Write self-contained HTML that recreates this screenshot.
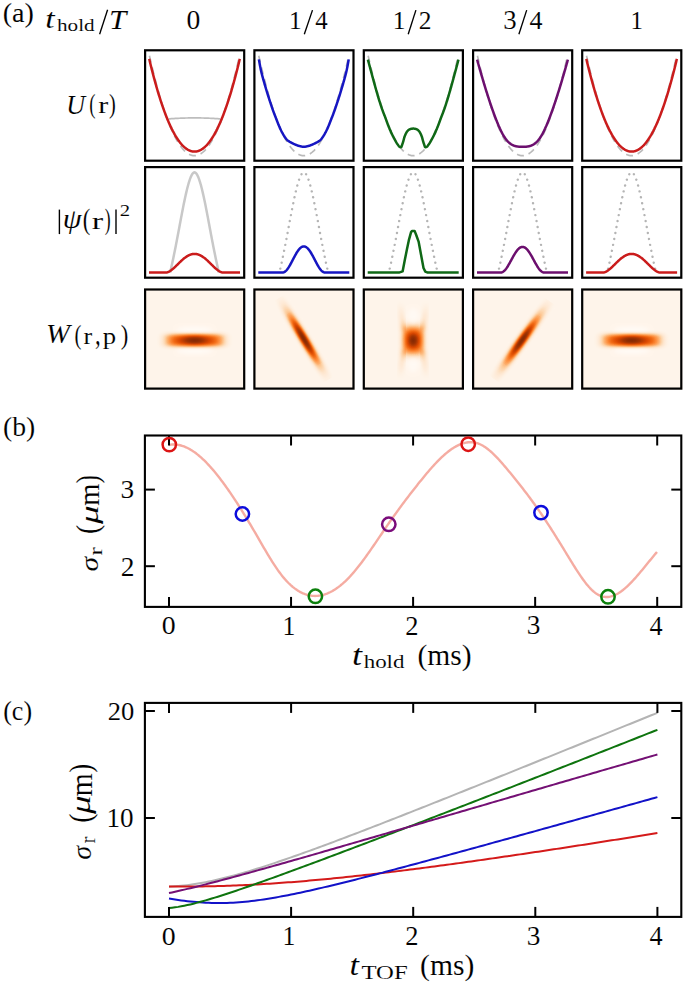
<!DOCTYPE html>
<html><head><meta charset="utf-8"><style>
html,body{margin:0;padding:0;background:#fff;width:685px;height:988px;overflow:hidden}
svg{display:block}
text{font-family:"Liberation Serif", serif;fill:#000;stroke:#fff;stroke-width:0.1px;vector-effect:non-scaling-stroke}
</style></head><body>
<svg width="685" height="988" viewBox="0 0 685 988" font-family='"Liberation Serif", serif'>
<defs><filter id="cmap" color-interpolation-filters="sRGB" x="0" y="0" width="1" height="1"><feComponentTransfer><feFuncR type="table" tableValues="1.0000 1.0000 1.0000 1.0000 1.0000 0.9991 0.9983 0.9974 0.9965 0.9956 0.9948 0.9939 0.9930 0.9922 0.9922 0.9922 0.9922 0.9922 0.9922 0.9922 0.9922 0.9922 0.9922 0.9817 0.9712 0.9608 0.9503 0.9346 0.9137 0.8928 0.8719 0.8510 0.8065 0.7621 0.7176 0.6732 0.6340 0.6000 0.5660 0.5320 0.4980"/><feFuncG type="table" tableValues="0.9882 0.9814 0.9745 0.9676 0.9608 0.9477 0.9346 0.9216 0.9085 0.8924 0.8732 0.8540 0.8349 0.8157 0.7861 0.7564 0.7268 0.6972 0.6680 0.6392 0.6105 0.5817 0.5529 0.5216 0.4902 0.4588 0.4275 0.3974 0.3686 0.3399 0.3111 0.2824 0.2667 0.2510 0.2353 0.2196 0.2052 0.1922 0.1791 0.1660 0.1529"/><feFuncB type="table" tableValues="0.9725 0.9598 0.9471 0.9343 0.9216 0.8963 0.8710 0.8458 0.8205 0.7887 0.7503 0.7120 0.6736 0.6353 0.5874 0.5394 0.4915 0.4436 0.3991 0.3582 0.3172 0.2763 0.2353 0.1996 0.1638 0.1281 0.0924 0.0667 0.0510 0.0353 0.0196 0.0039 0.0057 0.0074 0.0092 0.0109 0.0122 0.0131 0.0139 0.0148 0.0157"/></feComponentTransfer></filter><filter id="blur2" x="-50%" y="-50%" width="200%" height="200%"><feGaussianBlur stdDeviation="2"/></filter><linearGradient id="wb0y" x1="0" y1="0" x2="0" y2="1"><stop offset="0.0000" stop-color="#fff" stop-opacity="0.0000"/><stop offset="0.0250" stop-color="#fff" stop-opacity="0.0001"/><stop offset="0.0500" stop-color="#fff" stop-opacity="0.0004"/><stop offset="0.0750" stop-color="#fff" stop-opacity="0.0014"/><stop offset="0.1000" stop-color="#fff" stop-opacity="0.0044"/><stop offset="0.1250" stop-color="#fff" stop-opacity="0.0121"/><stop offset="0.1500" stop-color="#fff" stop-opacity="0.0289"/><stop offset="0.1750" stop-color="#fff" stop-opacity="0.0611"/><stop offset="0.2000" stop-color="#fff" stop-opacity="0.1149"/><stop offset="0.2250" stop-color="#fff" stop-opacity="0.1944"/><stop offset="0.2500" stop-color="#fff" stop-opacity="0.2990"/><stop offset="0.2750" stop-color="#fff" stop-opacity="0.4224"/><stop offset="0.3000" stop-color="#fff" stop-opacity="0.5537"/><stop offset="0.3250" stop-color="#fff" stop-opacity="0.6801"/><stop offset="0.3500" stop-color="#fff" stop-opacity="0.7902"/><stop offset="0.3750" stop-color="#fff" stop-opacity="0.8769"/><stop offset="0.4000" stop-color="#fff" stop-opacity="0.9377"/><stop offset="0.4250" stop-color="#fff" stop-opacity="0.9747"/><stop offset="0.4500" stop-color="#fff" stop-opacity="0.9930"/><stop offset="0.4750" stop-color="#fff" stop-opacity="0.9992"/><stop offset="0.5000" stop-color="#fff" stop-opacity="1.0000"/><stop offset="0.5250" stop-color="#fff" stop-opacity="0.9992"/><stop offset="0.5500" stop-color="#fff" stop-opacity="0.9930"/><stop offset="0.5750" stop-color="#fff" stop-opacity="0.9747"/><stop offset="0.6000" stop-color="#fff" stop-opacity="0.9377"/><stop offset="0.6250" stop-color="#fff" stop-opacity="0.8769"/><stop offset="0.6500" stop-color="#fff" stop-opacity="0.7902"/><stop offset="0.6750" stop-color="#fff" stop-opacity="0.6801"/><stop offset="0.7000" stop-color="#fff" stop-opacity="0.5537"/><stop offset="0.7250" stop-color="#fff" stop-opacity="0.4224"/><stop offset="0.7500" stop-color="#fff" stop-opacity="0.2990"/><stop offset="0.7750" stop-color="#fff" stop-opacity="0.1944"/><stop offset="0.8000" stop-color="#fff" stop-opacity="0.1149"/><stop offset="0.8250" stop-color="#fff" stop-opacity="0.0611"/><stop offset="0.8500" stop-color="#fff" stop-opacity="0.0289"/><stop offset="0.8750" stop-color="#fff" stop-opacity="0.0121"/><stop offset="0.9000" stop-color="#fff" stop-opacity="0.0044"/><stop offset="0.9250" stop-color="#fff" stop-opacity="0.0014"/><stop offset="0.9500" stop-color="#fff" stop-opacity="0.0004"/><stop offset="0.9750" stop-color="#fff" stop-opacity="0.0001"/><stop offset="1.0000" stop-color="#fff" stop-opacity="0.0000"/></linearGradient><linearGradient id="wb0x" x1="0" y1="0" x2="1" y2="0"><stop offset="0.0000" stop-color="rgb(0,0,0)"/><stop offset="0.0250" stop-color="rgb(0,0,0)"/><stop offset="0.0500" stop-color="rgb(0,0,0)"/><stop offset="0.0750" stop-color="rgb(2,2,2)"/><stop offset="0.1000" stop-color="rgb(9,9,9)"/><stop offset="0.1250" stop-color="rgb(27,27,27)"/><stop offset="0.1500" stop-color="rgb(58,58,58)"/><stop offset="0.1750" stop-color="rgb(99,99,99)"/><stop offset="0.2000" stop-color="rgb(142,142,142)"/><stop offset="0.2250" stop-color="rgb(180,180,180)"/><stop offset="0.2500" stop-color="rgb(209,209,209)"/><stop offset="0.2750" stop-color="rgb(230,230,230)"/><stop offset="0.3000" stop-color="rgb(242,242,242)"/><stop offset="0.3250" stop-color="rgb(249,249,249)"/><stop offset="0.3500" stop-color="rgb(253,253,253)"/><stop offset="0.3750" stop-color="rgb(254,254,254)"/><stop offset="0.4000" stop-color="rgb(255,255,255)"/><stop offset="0.4250" stop-color="rgb(255,255,255)"/><stop offset="0.4500" stop-color="rgb(255,255,255)"/><stop offset="0.4750" stop-color="rgb(255,255,255)"/><stop offset="0.5000" stop-color="rgb(255,255,255)"/><stop offset="0.5250" stop-color="rgb(255,255,255)"/><stop offset="0.5500" stop-color="rgb(255,255,255)"/><stop offset="0.5750" stop-color="rgb(255,255,255)"/><stop offset="0.6000" stop-color="rgb(255,255,255)"/><stop offset="0.6250" stop-color="rgb(254,254,254)"/><stop offset="0.6500" stop-color="rgb(253,253,253)"/><stop offset="0.6750" stop-color="rgb(249,249,249)"/><stop offset="0.7000" stop-color="rgb(242,242,242)"/><stop offset="0.7250" stop-color="rgb(230,230,230)"/><stop offset="0.7500" stop-color="rgb(209,209,209)"/><stop offset="0.7750" stop-color="rgb(180,180,180)"/><stop offset="0.8000" stop-color="rgb(142,142,142)"/><stop offset="0.8250" stop-color="rgb(99,99,99)"/><stop offset="0.8500" stop-color="rgb(58,58,58)"/><stop offset="0.8750" stop-color="rgb(27,27,27)"/><stop offset="0.9000" stop-color="rgb(9,9,9)"/><stop offset="0.9250" stop-color="rgb(2,2,2)"/><stop offset="0.9500" stop-color="rgb(0,0,0)"/><stop offset="0.9750" stop-color="rgb(0,0,0)"/><stop offset="1.0000" stop-color="rgb(0,0,0)"/></linearGradient><mask id="wb0m" maskContentUnits="userSpaceOnUse" x="-1000" y="-1000" width="3000" height="3000"><rect x="-45" y="-14" width="90" height="28" fill="url(#wb0x)"/></mask><linearGradient id="wc0y" x1="0" y1="0" x2="0" y2="1"><stop offset="0.0000" stop-color="#fff" stop-opacity="0.0013"/><stop offset="0.0250" stop-color="#fff" stop-opacity="0.0026"/><stop offset="0.0500" stop-color="#fff" stop-opacity="0.0047"/><stop offset="0.0750" stop-color="#fff" stop-opacity="0.0084"/><stop offset="0.1000" stop-color="#fff" stop-opacity="0.0145"/><stop offset="0.1250" stop-color="#fff" stop-opacity="0.0243"/><stop offset="0.1500" stop-color="#fff" stop-opacity="0.0392"/><stop offset="0.1750" stop-color="#fff" stop-opacity="0.0612"/><stop offset="0.2000" stop-color="#fff" stop-opacity="0.0925"/><stop offset="0.2250" stop-color="#fff" stop-opacity="0.1353"/><stop offset="0.2500" stop-color="#fff" stop-opacity="0.1915"/><stop offset="0.2750" stop-color="#fff" stop-opacity="0.2621"/><stop offset="0.3000" stop-color="#fff" stop-opacity="0.3472"/><stop offset="0.3250" stop-color="#fff" stop-opacity="0.4449"/><stop offset="0.3500" stop-color="#fff" stop-opacity="0.5515"/><stop offset="0.3750" stop-color="#fff" stop-opacity="0.6615"/><stop offset="0.4000" stop-color="#fff" stop-opacity="0.7676"/><stop offset="0.4250" stop-color="#fff" stop-opacity="0.8618"/><stop offset="0.4500" stop-color="#fff" stop-opacity="0.9360"/><stop offset="0.4750" stop-color="#fff" stop-opacity="0.9836"/><stop offset="0.5000" stop-color="#fff" stop-opacity="1.0000"/><stop offset="0.5250" stop-color="#fff" stop-opacity="0.9836"/><stop offset="0.5500" stop-color="#fff" stop-opacity="0.9360"/><stop offset="0.5750" stop-color="#fff" stop-opacity="0.8618"/><stop offset="0.6000" stop-color="#fff" stop-opacity="0.7676"/><stop offset="0.6250" stop-color="#fff" stop-opacity="0.6615"/><stop offset="0.6500" stop-color="#fff" stop-opacity="0.5515"/><stop offset="0.6750" stop-color="#fff" stop-opacity="0.4449"/><stop offset="0.7000" stop-color="#fff" stop-opacity="0.3472"/><stop offset="0.7250" stop-color="#fff" stop-opacity="0.2621"/><stop offset="0.7500" stop-color="#fff" stop-opacity="0.1915"/><stop offset="0.7750" stop-color="#fff" stop-opacity="0.1353"/><stop offset="0.8000" stop-color="#fff" stop-opacity="0.0925"/><stop offset="0.8250" stop-color="#fff" stop-opacity="0.0612"/><stop offset="0.8500" stop-color="#fff" stop-opacity="0.0392"/><stop offset="0.8750" stop-color="#fff" stop-opacity="0.0243"/><stop offset="0.9000" stop-color="#fff" stop-opacity="0.0145"/><stop offset="0.9250" stop-color="#fff" stop-opacity="0.0084"/><stop offset="0.9500" stop-color="#fff" stop-opacity="0.0047"/><stop offset="0.9750" stop-color="#fff" stop-opacity="0.0026"/><stop offset="1.0000" stop-color="#fff" stop-opacity="0.0013"/></linearGradient><linearGradient id="wc0x" x1="0" y1="0" x2="1" y2="0"><stop offset="0.0000" stop-color="rgb(4,4,4)"/><stop offset="0.0250" stop-color="rgb(6,6,6)"/><stop offset="0.0500" stop-color="rgb(9,9,9)"/><stop offset="0.0750" stop-color="rgb(13,13,13)"/><stop offset="0.1000" stop-color="rgb(19,19,19)"/><stop offset="0.1250" stop-color="rgb(26,26,26)"/><stop offset="0.1500" stop-color="rgb(35,35,35)"/><stop offset="0.1750" stop-color="rgb(45,45,45)"/><stop offset="0.2000" stop-color="rgb(59,59,59)"/><stop offset="0.2250" stop-color="rgb(74,74,74)"/><stop offset="0.2500" stop-color="rgb(92,92,92)"/><stop offset="0.2750" stop-color="rgb(112,112,112)"/><stop offset="0.3000" stop-color="rgb(133,133,133)"/><stop offset="0.3250" stop-color="rgb(155,155,155)"/><stop offset="0.3500" stop-color="rgb(177,177,177)"/><stop offset="0.3750" stop-color="rgb(198,198,198)"/><stop offset="0.4000" stop-color="rgb(217,217,217)"/><stop offset="0.4250" stop-color="rgb(233,233,233)"/><stop offset="0.4500" stop-color="rgb(245,245,245)"/><stop offset="0.4750" stop-color="rgb(252,252,252)"/><stop offset="0.5000" stop-color="rgb(255,255,255)"/><stop offset="0.5250" stop-color="rgb(252,252,252)"/><stop offset="0.5500" stop-color="rgb(245,245,245)"/><stop offset="0.5750" stop-color="rgb(233,233,233)"/><stop offset="0.6000" stop-color="rgb(217,217,217)"/><stop offset="0.6250" stop-color="rgb(198,198,198)"/><stop offset="0.6500" stop-color="rgb(177,177,177)"/><stop offset="0.6750" stop-color="rgb(155,155,155)"/><stop offset="0.7000" stop-color="rgb(133,133,133)"/><stop offset="0.7250" stop-color="rgb(112,112,112)"/><stop offset="0.7500" stop-color="rgb(92,92,92)"/><stop offset="0.7750" stop-color="rgb(74,74,74)"/><stop offset="0.8000" stop-color="rgb(59,59,59)"/><stop offset="0.8250" stop-color="rgb(45,45,45)"/><stop offset="0.8500" stop-color="rgb(35,35,35)"/><stop offset="0.8750" stop-color="rgb(26,26,26)"/><stop offset="0.9000" stop-color="rgb(19,19,19)"/><stop offset="0.9250" stop-color="rgb(13,13,13)"/><stop offset="0.9500" stop-color="rgb(9,9,9)"/><stop offset="0.9750" stop-color="rgb(6,6,6)"/><stop offset="1.0000" stop-color="rgb(4,4,4)"/></linearGradient><mask id="wc0m" maskContentUnits="userSpaceOnUse" x="-1000" y="-1000" width="3000" height="3000"><rect x="-30" y="-12" width="60" height="24" fill="url(#wc0x)"/></mask><linearGradient id="wb1y" x1="0" y1="0" x2="0" y2="1"><stop offset="0.0000" stop-color="#fff" stop-opacity="0.0016"/><stop offset="0.0250" stop-color="#fff" stop-opacity="0.0033"/><stop offset="0.0500" stop-color="#fff" stop-opacity="0.0067"/><stop offset="0.0750" stop-color="#fff" stop-opacity="0.0127"/><stop offset="0.1000" stop-color="#fff" stop-opacity="0.0230"/><stop offset="0.1250" stop-color="#fff" stop-opacity="0.0395"/><stop offset="0.1500" stop-color="#fff" stop-opacity="0.0646"/><stop offset="0.1750" stop-color="#fff" stop-opacity="0.1010"/><stop offset="0.2000" stop-color="#fff" stop-opacity="0.1508"/><stop offset="0.2250" stop-color="#fff" stop-opacity="0.2153"/><stop offset="0.2500" stop-color="#fff" stop-opacity="0.2948"/><stop offset="0.2750" stop-color="#fff" stop-opacity="0.3873"/><stop offset="0.3000" stop-color="#fff" stop-opacity="0.4892"/><stop offset="0.3250" stop-color="#fff" stop-opacity="0.5951"/><stop offset="0.3500" stop-color="#fff" stop-opacity="0.6987"/><stop offset="0.3750" stop-color="#fff" stop-opacity="0.7934"/><stop offset="0.4000" stop-color="#fff" stop-opacity="0.8733"/><stop offset="0.4250" stop-color="#fff" stop-opacity="0.9343"/><stop offset="0.4500" stop-color="#fff" stop-opacity="0.9747"/><stop offset="0.4750" stop-color="#fff" stop-opacity="0.9951"/><stop offset="0.5000" stop-color="#fff" stop-opacity="1.0000"/><stop offset="0.5250" stop-color="#fff" stop-opacity="0.9951"/><stop offset="0.5500" stop-color="#fff" stop-opacity="0.9747"/><stop offset="0.5750" stop-color="#fff" stop-opacity="0.9343"/><stop offset="0.6000" stop-color="#fff" stop-opacity="0.8733"/><stop offset="0.6250" stop-color="#fff" stop-opacity="0.7934"/><stop offset="0.6500" stop-color="#fff" stop-opacity="0.6987"/><stop offset="0.6750" stop-color="#fff" stop-opacity="0.5951"/><stop offset="0.7000" stop-color="#fff" stop-opacity="0.4892"/><stop offset="0.7250" stop-color="#fff" stop-opacity="0.3873"/><stop offset="0.7500" stop-color="#fff" stop-opacity="0.2948"/><stop offset="0.7750" stop-color="#fff" stop-opacity="0.2153"/><stop offset="0.8000" stop-color="#fff" stop-opacity="0.1508"/><stop offset="0.8250" stop-color="#fff" stop-opacity="0.1010"/><stop offset="0.8500" stop-color="#fff" stop-opacity="0.0646"/><stop offset="0.8750" stop-color="#fff" stop-opacity="0.0395"/><stop offset="0.9000" stop-color="#fff" stop-opacity="0.0230"/><stop offset="0.9250" stop-color="#fff" stop-opacity="0.0127"/><stop offset="0.9500" stop-color="#fff" stop-opacity="0.0067"/><stop offset="0.9750" stop-color="#fff" stop-opacity="0.0033"/><stop offset="1.0000" stop-color="#fff" stop-opacity="0.0016"/></linearGradient><linearGradient id="wb1x" x1="0" y1="0" x2="1" y2="0"><stop offset="0.0000" stop-color="rgb(12,12,12)"/><stop offset="0.0250" stop-color="rgb(18,18,18)"/><stop offset="0.0500" stop-color="rgb(27,27,27)"/><stop offset="0.0750" stop-color="rgb(39,39,39)"/><stop offset="0.1000" stop-color="rgb(53,53,53)"/><stop offset="0.1250" stop-color="rgb(70,70,70)"/><stop offset="0.1500" stop-color="rgb(89,89,89)"/><stop offset="0.1750" stop-color="rgb(110,110,110)"/><stop offset="0.2000" stop-color="rgb(131,131,131)"/><stop offset="0.2250" stop-color="rgb(153,153,153)"/><stop offset="0.2500" stop-color="rgb(174,174,174)"/><stop offset="0.2750" stop-color="rgb(193,193,193)"/><stop offset="0.3000" stop-color="rgb(209,209,209)"/><stop offset="0.3250" stop-color="rgb(223,223,223)"/><stop offset="0.3500" stop-color="rgb(235,235,235)"/><stop offset="0.3750" stop-color="rgb(243,243,243)"/><stop offset="0.4000" stop-color="rgb(249,249,249)"/><stop offset="0.4250" stop-color="rgb(252,252,252)"/><stop offset="0.4500" stop-color="rgb(254,254,254)"/><stop offset="0.4750" stop-color="rgb(255,255,255)"/><stop offset="0.5000" stop-color="rgb(255,255,255)"/><stop offset="0.5250" stop-color="rgb(255,255,255)"/><stop offset="0.5500" stop-color="rgb(254,254,254)"/><stop offset="0.5750" stop-color="rgb(252,252,252)"/><stop offset="0.6000" stop-color="rgb(249,249,249)"/><stop offset="0.6250" stop-color="rgb(243,243,243)"/><stop offset="0.6500" stop-color="rgb(235,235,235)"/><stop offset="0.6750" stop-color="rgb(223,223,223)"/><stop offset="0.7000" stop-color="rgb(209,209,209)"/><stop offset="0.7250" stop-color="rgb(193,193,193)"/><stop offset="0.7500" stop-color="rgb(174,174,174)"/><stop offset="0.7750" stop-color="rgb(153,153,153)"/><stop offset="0.8000" stop-color="rgb(131,131,131)"/><stop offset="0.8250" stop-color="rgb(110,110,110)"/><stop offset="0.8500" stop-color="rgb(89,89,89)"/><stop offset="0.8750" stop-color="rgb(70,70,70)"/><stop offset="0.9000" stop-color="rgb(53,53,53)"/><stop offset="0.9250" stop-color="rgb(39,39,39)"/><stop offset="0.9500" stop-color="rgb(27,27,27)"/><stop offset="0.9750" stop-color="rgb(18,18,18)"/><stop offset="1.0000" stop-color="rgb(12,12,12)"/></linearGradient><mask id="wb1m" maskContentUnits="userSpaceOnUse" x="-1000" y="-1000" width="3000" height="3000"><rect x="-48" y="-10" width="96" height="20" fill="url(#wb1x)"/></mask><linearGradient id="wc1y" x1="0" y1="0" x2="0" y2="1"><stop offset="0.0000" stop-color="#fff" stop-opacity="0.0039"/><stop offset="0.0250" stop-color="#fff" stop-opacity="0.0066"/><stop offset="0.0500" stop-color="#fff" stop-opacity="0.0111"/><stop offset="0.0750" stop-color="#fff" stop-opacity="0.0181"/><stop offset="0.1000" stop-color="#fff" stop-opacity="0.0286"/><stop offset="0.1250" stop-color="#fff" stop-opacity="0.0439"/><stop offset="0.1500" stop-color="#fff" stop-opacity="0.0657"/><stop offset="0.1750" stop-color="#fff" stop-opacity="0.0956"/><stop offset="0.2000" stop-color="#fff" stop-opacity="0.1353"/><stop offset="0.2250" stop-color="#fff" stop-opacity="0.1863"/><stop offset="0.2500" stop-color="#fff" stop-opacity="0.2494"/><stop offset="0.2750" stop-color="#fff" stop-opacity="0.3247"/><stop offset="0.3000" stop-color="#fff" stop-opacity="0.4111"/><stop offset="0.3250" stop-color="#fff" stop-opacity="0.5063"/><stop offset="0.3500" stop-color="#fff" stop-opacity="0.6065"/><stop offset="0.3750" stop-color="#fff" stop-opacity="0.7066"/><stop offset="0.4000" stop-color="#fff" stop-opacity="0.8007"/><stop offset="0.4250" stop-color="#fff" stop-opacity="0.8825"/><stop offset="0.4500" stop-color="#fff" stop-opacity="0.9460"/><stop offset="0.4750" stop-color="#fff" stop-opacity="0.9862"/><stop offset="0.5000" stop-color="#fff" stop-opacity="1.0000"/><stop offset="0.5250" stop-color="#fff" stop-opacity="0.9862"/><stop offset="0.5500" stop-color="#fff" stop-opacity="0.9460"/><stop offset="0.5750" stop-color="#fff" stop-opacity="0.8825"/><stop offset="0.6000" stop-color="#fff" stop-opacity="0.8007"/><stop offset="0.6250" stop-color="#fff" stop-opacity="0.7066"/><stop offset="0.6500" stop-color="#fff" stop-opacity="0.6065"/><stop offset="0.6750" stop-color="#fff" stop-opacity="0.5063"/><stop offset="0.7000" stop-color="#fff" stop-opacity="0.4111"/><stop offset="0.7250" stop-color="#fff" stop-opacity="0.3247"/><stop offset="0.7500" stop-color="#fff" stop-opacity="0.2494"/><stop offset="0.7750" stop-color="#fff" stop-opacity="0.1863"/><stop offset="0.8000" stop-color="#fff" stop-opacity="0.1353"/><stop offset="0.8250" stop-color="#fff" stop-opacity="0.0956"/><stop offset="0.8500" stop-color="#fff" stop-opacity="0.0657"/><stop offset="0.8750" stop-color="#fff" stop-opacity="0.0439"/><stop offset="0.9000" stop-color="#fff" stop-opacity="0.0286"/><stop offset="0.9250" stop-color="#fff" stop-opacity="0.0181"/><stop offset="0.9500" stop-color="#fff" stop-opacity="0.0111"/><stop offset="0.9750" stop-color="#fff" stop-opacity="0.0066"/><stop offset="1.0000" stop-color="#fff" stop-opacity="0.0039"/></linearGradient><linearGradient id="wc1x" x1="0" y1="0" x2="1" y2="0"><stop offset="0.0000" stop-color="rgb(11,11,11)"/><stop offset="0.0250" stop-color="rgb(15,15,15)"/><stop offset="0.0500" stop-color="rgb(20,20,20)"/><stop offset="0.0750" stop-color="rgb(27,27,27)"/><stop offset="0.1000" stop-color="rgb(35,35,35)"/><stop offset="0.1250" stop-color="rgb(44,44,44)"/><stop offset="0.1500" stop-color="rgb(55,55,55)"/><stop offset="0.1750" stop-color="rgb(68,68,68)"/><stop offset="0.2000" stop-color="rgb(83,83,83)"/><stop offset="0.2250" stop-color="rgb(99,99,99)"/><stop offset="0.2500" stop-color="rgb(117,117,117)"/><stop offset="0.2750" stop-color="rgb(135,135,135)"/><stop offset="0.3000" stop-color="rgb(155,155,155)"/><stop offset="0.3250" stop-color="rgb(174,174,174)"/><stop offset="0.3500" stop-color="rgb(192,192,192)"/><stop offset="0.3750" stop-color="rgb(210,210,210)"/><stop offset="0.4000" stop-color="rgb(225,225,225)"/><stop offset="0.4250" stop-color="rgb(238,238,238)"/><stop offset="0.4500" stop-color="rgb(247,247,247)"/><stop offset="0.4750" stop-color="rgb(253,253,253)"/><stop offset="0.5000" stop-color="rgb(255,255,255)"/><stop offset="0.5250" stop-color="rgb(253,253,253)"/><stop offset="0.5500" stop-color="rgb(247,247,247)"/><stop offset="0.5750" stop-color="rgb(238,238,238)"/><stop offset="0.6000" stop-color="rgb(225,225,225)"/><stop offset="0.6250" stop-color="rgb(210,210,210)"/><stop offset="0.6500" stop-color="rgb(192,192,192)"/><stop offset="0.6750" stop-color="rgb(174,174,174)"/><stop offset="0.7000" stop-color="rgb(155,155,155)"/><stop offset="0.7250" stop-color="rgb(135,135,135)"/><stop offset="0.7500" stop-color="rgb(117,117,117)"/><stop offset="0.7750" stop-color="rgb(99,99,99)"/><stop offset="0.8000" stop-color="rgb(83,83,83)"/><stop offset="0.8250" stop-color="rgb(68,68,68)"/><stop offset="0.8500" stop-color="rgb(55,55,55)"/><stop offset="0.8750" stop-color="rgb(44,44,44)"/><stop offset="0.9000" stop-color="rgb(35,35,35)"/><stop offset="0.9250" stop-color="rgb(27,27,27)"/><stop offset="0.9500" stop-color="rgb(20,20,20)"/><stop offset="0.9750" stop-color="rgb(15,15,15)"/><stop offset="1.0000" stop-color="rgb(11,11,11)"/></linearGradient><mask id="wc1m" maskContentUnits="userSpaceOnUse" x="-1000" y="-1000" width="3000" height="3000"><rect x="-30" y="-8" width="60" height="16" fill="url(#wc1x)"/></mask><linearGradient id="wgm1m1" gradientUnits="userSpaceOnUse" x1="403.7" y1="330.3" x2="399.7" y2="302.3"><stop offset="0" stop-color="#fff" stop-opacity="0.28"/><stop offset="1" stop-color="#fff" stop-opacity="0"/></linearGradient><linearGradient id="wgm11" gradientUnits="userSpaceOnUse" x1="403.7" y1="350.3" x2="399.7" y2="378.3"><stop offset="0" stop-color="#fff" stop-opacity="0.28"/><stop offset="1" stop-color="#fff" stop-opacity="0"/></linearGradient><linearGradient id="wg1m1" gradientUnits="userSpaceOnUse" x1="422.7" y1="330.3" x2="426.7" y2="302.3"><stop offset="0" stop-color="#fff" stop-opacity="0.28"/><stop offset="1" stop-color="#fff" stop-opacity="0"/></linearGradient><linearGradient id="wg11" gradientUnits="userSpaceOnUse" x1="422.7" y1="350.3" x2="426.7" y2="378.3"><stop offset="0" stop-color="#fff" stop-opacity="0.28"/><stop offset="1" stop-color="#fff" stop-opacity="0"/></linearGradient><linearGradient id="wb2y" x1="0" y1="0" x2="0" y2="1"><stop offset="0.0000" stop-color="#fff" stop-opacity="0.0000"/><stop offset="0.0250" stop-color="#fff" stop-opacity="0.0000"/><stop offset="0.0500" stop-color="#fff" stop-opacity="0.0003"/><stop offset="0.0750" stop-color="#fff" stop-opacity="0.0012"/><stop offset="0.1000" stop-color="#fff" stop-opacity="0.0044"/><stop offset="0.1250" stop-color="#fff" stop-opacity="0.0131"/><stop offset="0.1500" stop-color="#fff" stop-opacity="0.0333"/><stop offset="0.1750" stop-color="#fff" stop-opacity="0.0724"/><stop offset="0.2000" stop-color="#fff" stop-opacity="0.1375"/><stop offset="0.2250" stop-color="#fff" stop-opacity="0.2315"/><stop offset="0.2500" stop-color="#fff" stop-opacity="0.3506"/><stop offset="0.2750" stop-color="#fff" stop-opacity="0.4844"/><stop offset="0.3000" stop-color="#fff" stop-opacity="0.6188"/><stop offset="0.3250" stop-color="#fff" stop-opacity="0.7402"/><stop offset="0.3500" stop-color="#fff" stop-opacity="0.8392"/><stop offset="0.3750" stop-color="#fff" stop-opacity="0.9115"/><stop offset="0.4000" stop-color="#fff" stop-opacity="0.9585"/><stop offset="0.4250" stop-color="#fff" stop-opacity="0.9846"/><stop offset="0.4500" stop-color="#fff" stop-opacity="0.9963"/><stop offset="0.4750" stop-color="#fff" stop-opacity="0.9997"/><stop offset="0.5000" stop-color="#fff" stop-opacity="1.0000"/><stop offset="0.5250" stop-color="#fff" stop-opacity="0.9997"/><stop offset="0.5500" stop-color="#fff" stop-opacity="0.9963"/><stop offset="0.5750" stop-color="#fff" stop-opacity="0.9846"/><stop offset="0.6000" stop-color="#fff" stop-opacity="0.9585"/><stop offset="0.6250" stop-color="#fff" stop-opacity="0.9115"/><stop offset="0.6500" stop-color="#fff" stop-opacity="0.8392"/><stop offset="0.6750" stop-color="#fff" stop-opacity="0.7402"/><stop offset="0.7000" stop-color="#fff" stop-opacity="0.6188"/><stop offset="0.7250" stop-color="#fff" stop-opacity="0.4844"/><stop offset="0.7500" stop-color="#fff" stop-opacity="0.3506"/><stop offset="0.7750" stop-color="#fff" stop-opacity="0.2315"/><stop offset="0.8000" stop-color="#fff" stop-opacity="0.1375"/><stop offset="0.8250" stop-color="#fff" stop-opacity="0.0724"/><stop offset="0.8500" stop-color="#fff" stop-opacity="0.0333"/><stop offset="0.8750" stop-color="#fff" stop-opacity="0.0131"/><stop offset="0.9000" stop-color="#fff" stop-opacity="0.0044"/><stop offset="0.9250" stop-color="#fff" stop-opacity="0.0012"/><stop offset="0.9500" stop-color="#fff" stop-opacity="0.0003"/><stop offset="0.9750" stop-color="#fff" stop-opacity="0.0000"/><stop offset="1.0000" stop-color="#fff" stop-opacity="0.0000"/></linearGradient><linearGradient id="wb2x" x1="0" y1="0" x2="1" y2="0"><stop offset="0.0000" stop-color="rgb(0,0,0)"/><stop offset="0.0250" stop-color="rgb(0,0,0)"/><stop offset="0.0500" stop-color="rgb(0,0,0)"/><stop offset="0.0750" stop-color="rgb(0,0,0)"/><stop offset="0.1000" stop-color="rgb(1,1,1)"/><stop offset="0.1250" stop-color="rgb(2,2,2)"/><stop offset="0.1500" stop-color="rgb(7,7,7)"/><stop offset="0.1750" stop-color="rgb(18,18,18)"/><stop offset="0.2000" stop-color="rgb(37,37,37)"/><stop offset="0.2250" stop-color="rgb(65,65,65)"/><stop offset="0.2500" stop-color="rgb(101,101,101)"/><stop offset="0.2750" stop-color="rgb(138,138,138)"/><stop offset="0.3000" stop-color="rgb(174,174,174)"/><stop offset="0.3250" stop-color="rgb(204,204,204)"/><stop offset="0.3500" stop-color="rgb(226,226,226)"/><stop offset="0.3750" stop-color="rgb(241,241,241)"/><stop offset="0.4000" stop-color="rgb(249,249,249)"/><stop offset="0.4250" stop-color="rgb(253,253,253)"/><stop offset="0.4500" stop-color="rgb(255,255,255)"/><stop offset="0.4750" stop-color="rgb(255,255,255)"/><stop offset="0.5000" stop-color="rgb(255,255,255)"/><stop offset="0.5250" stop-color="rgb(255,255,255)"/><stop offset="0.5500" stop-color="rgb(255,255,255)"/><stop offset="0.5750" stop-color="rgb(253,253,253)"/><stop offset="0.6000" stop-color="rgb(249,249,249)"/><stop offset="0.6250" stop-color="rgb(241,241,241)"/><stop offset="0.6500" stop-color="rgb(226,226,226)"/><stop offset="0.6750" stop-color="rgb(204,204,204)"/><stop offset="0.7000" stop-color="rgb(174,174,174)"/><stop offset="0.7250" stop-color="rgb(138,138,138)"/><stop offset="0.7500" stop-color="rgb(101,101,101)"/><stop offset="0.7750" stop-color="rgb(65,65,65)"/><stop offset="0.8000" stop-color="rgb(37,37,37)"/><stop offset="0.8250" stop-color="rgb(18,18,18)"/><stop offset="0.8500" stop-color="rgb(7,7,7)"/><stop offset="0.8750" stop-color="rgb(2,2,2)"/><stop offset="0.9000" stop-color="rgb(1,1,1)"/><stop offset="0.9250" stop-color="rgb(0,0,0)"/><stop offset="0.9500" stop-color="rgb(0,0,0)"/><stop offset="0.9750" stop-color="rgb(0,0,0)"/><stop offset="1.0000" stop-color="rgb(0,0,0)"/></linearGradient><mask id="wb2m" maskContentUnits="userSpaceOnUse" x="-1000" y="-1000" width="3000" height="3000"><rect x="-22" y="-30" width="44" height="60" fill="url(#wb2x)"/></mask><linearGradient id="wc2y" x1="0" y1="0" x2="0" y2="1"><stop offset="0.0000" stop-color="#fff" stop-opacity="0.0017"/><stop offset="0.0250" stop-color="#fff" stop-opacity="0.0032"/><stop offset="0.0500" stop-color="#fff" stop-opacity="0.0057"/><stop offset="0.0750" stop-color="#fff" stop-opacity="0.0100"/><stop offset="0.1000" stop-color="#fff" stop-opacity="0.0169"/><stop offset="0.1250" stop-color="#fff" stop-opacity="0.0277"/><stop offset="0.1500" stop-color="#fff" stop-opacity="0.0439"/><stop offset="0.1750" stop-color="#fff" stop-opacity="0.0676"/><stop offset="0.2000" stop-color="#fff" stop-opacity="0.1007"/><stop offset="0.2250" stop-color="#fff" stop-opacity="0.1453"/><stop offset="0.2500" stop-color="#fff" stop-opacity="0.2030"/><stop offset="0.2750" stop-color="#fff" stop-opacity="0.2749"/><stop offset="0.3000" stop-color="#fff" stop-opacity="0.3604"/><stop offset="0.3250" stop-color="#fff" stop-opacity="0.4578"/><stop offset="0.3500" stop-color="#fff" stop-opacity="0.5633"/><stop offset="0.3750" stop-color="#fff" stop-opacity="0.6713"/><stop offset="0.4000" stop-color="#fff" stop-opacity="0.7748"/><stop offset="0.4250" stop-color="#fff" stop-opacity="0.8663"/><stop offset="0.4500" stop-color="#fff" stop-opacity="0.9382"/><stop offset="0.4750" stop-color="#fff" stop-opacity="0.9842"/><stop offset="0.5000" stop-color="#fff" stop-opacity="1.0000"/><stop offset="0.5250" stop-color="#fff" stop-opacity="0.9842"/><stop offset="0.5500" stop-color="#fff" stop-opacity="0.9382"/><stop offset="0.5750" stop-color="#fff" stop-opacity="0.8663"/><stop offset="0.6000" stop-color="#fff" stop-opacity="0.7748"/><stop offset="0.6250" stop-color="#fff" stop-opacity="0.6713"/><stop offset="0.6500" stop-color="#fff" stop-opacity="0.5633"/><stop offset="0.6750" stop-color="#fff" stop-opacity="0.4578"/><stop offset="0.7000" stop-color="#fff" stop-opacity="0.3604"/><stop offset="0.7250" stop-color="#fff" stop-opacity="0.2749"/><stop offset="0.7500" stop-color="#fff" stop-opacity="0.2030"/><stop offset="0.7750" stop-color="#fff" stop-opacity="0.1453"/><stop offset="0.8000" stop-color="#fff" stop-opacity="0.1007"/><stop offset="0.8250" stop-color="#fff" stop-opacity="0.0676"/><stop offset="0.8500" stop-color="#fff" stop-opacity="0.0439"/><stop offset="0.8750" stop-color="#fff" stop-opacity="0.0277"/><stop offset="0.9000" stop-color="#fff" stop-opacity="0.0169"/><stop offset="0.9250" stop-color="#fff" stop-opacity="0.0100"/><stop offset="0.9500" stop-color="#fff" stop-opacity="0.0057"/><stop offset="0.9750" stop-color="#fff" stop-opacity="0.0032"/><stop offset="1.0000" stop-color="#fff" stop-opacity="0.0017"/></linearGradient><linearGradient id="wc2x" x1="0" y1="0" x2="1" y2="0"><stop offset="0.0000" stop-color="rgb(0,0,0)"/><stop offset="0.0250" stop-color="rgb(0,0,0)"/><stop offset="0.0500" stop-color="rgb(1,1,1)"/><stop offset="0.0750" stop-color="rgb(2,2,2)"/><stop offset="0.1000" stop-color="rgb(3,3,3)"/><stop offset="0.1250" stop-color="rgb(5,5,5)"/><stop offset="0.1500" stop-color="rgb(9,9,9)"/><stop offset="0.1750" stop-color="rgb(14,14,14)"/><stop offset="0.2000" stop-color="rgb(21,21,21)"/><stop offset="0.2250" stop-color="rgb(31,31,31)"/><stop offset="0.2500" stop-color="rgb(45,45,45)"/><stop offset="0.2750" stop-color="rgb(63,63,63)"/><stop offset="0.3000" stop-color="rgb(84,84,84)"/><stop offset="0.3250" stop-color="rgb(109,109,109)"/><stop offset="0.3500" stop-color="rgb(137,137,137)"/><stop offset="0.3750" stop-color="rgb(165,165,165)"/><stop offset="0.4000" stop-color="rgb(193,193,193)"/><stop offset="0.4250" stop-color="rgb(218,218,218)"/><stop offset="0.4500" stop-color="rgb(238,238,238)"/><stop offset="0.4750" stop-color="rgb(251,251,251)"/><stop offset="0.5000" stop-color="rgb(255,255,255)"/><stop offset="0.5250" stop-color="rgb(251,251,251)"/><stop offset="0.5500" stop-color="rgb(238,238,238)"/><stop offset="0.5750" stop-color="rgb(218,218,218)"/><stop offset="0.6000" stop-color="rgb(193,193,193)"/><stop offset="0.6250" stop-color="rgb(165,165,165)"/><stop offset="0.6500" stop-color="rgb(137,137,137)"/><stop offset="0.6750" stop-color="rgb(109,109,109)"/><stop offset="0.7000" stop-color="rgb(84,84,84)"/><stop offset="0.7250" stop-color="rgb(63,63,63)"/><stop offset="0.7500" stop-color="rgb(45,45,45)"/><stop offset="0.7750" stop-color="rgb(31,31,31)"/><stop offset="0.8000" stop-color="rgb(21,21,21)"/><stop offset="0.8250" stop-color="rgb(14,14,14)"/><stop offset="0.8500" stop-color="rgb(9,9,9)"/><stop offset="0.8750" stop-color="rgb(5,5,5)"/><stop offset="0.9000" stop-color="rgb(3,3,3)"/><stop offset="0.9250" stop-color="rgb(2,2,2)"/><stop offset="0.9500" stop-color="rgb(1,1,1)"/><stop offset="0.9750" stop-color="rgb(0,0,0)"/><stop offset="1.0000" stop-color="rgb(0,0,0)"/></linearGradient><mask id="wc2m" maskContentUnits="userSpaceOnUse" x="-1000" y="-1000" width="3000" height="3000"><rect x="-16" y="-20" width="32" height="40" fill="url(#wc2x)"/></mask><linearGradient id="wb3y" x1="0" y1="0" x2="0" y2="1"><stop offset="0.0000" stop-color="#fff" stop-opacity="0.0030"/><stop offset="0.0250" stop-color="#fff" stop-opacity="0.0058"/><stop offset="0.0500" stop-color="#fff" stop-opacity="0.0109"/><stop offset="0.0750" stop-color="#fff" stop-opacity="0.0194"/><stop offset="0.1000" stop-color="#fff" stop-opacity="0.0331"/><stop offset="0.1250" stop-color="#fff" stop-opacity="0.0540"/><stop offset="0.1500" stop-color="#fff" stop-opacity="0.0843"/><stop offset="0.1750" stop-color="#fff" stop-opacity="0.1262"/><stop offset="0.2000" stop-color="#fff" stop-opacity="0.1812"/><stop offset="0.2250" stop-color="#fff" stop-opacity="0.2500"/><stop offset="0.2500" stop-color="#fff" stop-opacity="0.3319"/><stop offset="0.2750" stop-color="#fff" stop-opacity="0.4246"/><stop offset="0.3000" stop-color="#fff" stop-opacity="0.5243"/><stop offset="0.3250" stop-color="#fff" stop-opacity="0.6259"/><stop offset="0.3500" stop-color="#fff" stop-opacity="0.7235"/><stop offset="0.3750" stop-color="#fff" stop-opacity="0.8114"/><stop offset="0.4000" stop-color="#fff" stop-opacity="0.8849"/><stop offset="0.4250" stop-color="#fff" stop-opacity="0.9405"/><stop offset="0.4500" stop-color="#fff" stop-opacity="0.9771"/><stop offset="0.4750" stop-color="#fff" stop-opacity="0.9956"/><stop offset="0.5000" stop-color="#fff" stop-opacity="1.0000"/><stop offset="0.5250" stop-color="#fff" stop-opacity="0.9956"/><stop offset="0.5500" stop-color="#fff" stop-opacity="0.9771"/><stop offset="0.5750" stop-color="#fff" stop-opacity="0.9405"/><stop offset="0.6000" stop-color="#fff" stop-opacity="0.8849"/><stop offset="0.6250" stop-color="#fff" stop-opacity="0.8114"/><stop offset="0.6500" stop-color="#fff" stop-opacity="0.7235"/><stop offset="0.6750" stop-color="#fff" stop-opacity="0.6259"/><stop offset="0.7000" stop-color="#fff" stop-opacity="0.5243"/><stop offset="0.7250" stop-color="#fff" stop-opacity="0.4246"/><stop offset="0.7500" stop-color="#fff" stop-opacity="0.3319"/><stop offset="0.7750" stop-color="#fff" stop-opacity="0.2500"/><stop offset="0.8000" stop-color="#fff" stop-opacity="0.1812"/><stop offset="0.8250" stop-color="#fff" stop-opacity="0.1262"/><stop offset="0.8500" stop-color="#fff" stop-opacity="0.0843"/><stop offset="0.8750" stop-color="#fff" stop-opacity="0.0540"/><stop offset="0.9000" stop-color="#fff" stop-opacity="0.0331"/><stop offset="0.9250" stop-color="#fff" stop-opacity="0.0194"/><stop offset="0.9500" stop-color="#fff" stop-opacity="0.0109"/><stop offset="0.9750" stop-color="#fff" stop-opacity="0.0058"/><stop offset="1.0000" stop-color="#fff" stop-opacity="0.0030"/></linearGradient><linearGradient id="wb3x" x1="0" y1="0" x2="1" y2="0"><stop offset="0.0000" stop-color="rgb(15,15,15)"/><stop offset="0.0250" stop-color="rgb(23,23,23)"/><stop offset="0.0500" stop-color="rgb(33,33,33)"/><stop offset="0.0750" stop-color="rgb(45,45,45)"/><stop offset="0.1000" stop-color="rgb(60,60,60)"/><stop offset="0.1250" stop-color="rgb(78,78,78)"/><stop offset="0.1500" stop-color="rgb(97,97,97)"/><stop offset="0.1750" stop-color="rgb(118,118,118)"/><stop offset="0.2000" stop-color="rgb(139,139,139)"/><stop offset="0.2250" stop-color="rgb(160,160,160)"/><stop offset="0.2500" stop-color="rgb(179,179,179)"/><stop offset="0.2750" stop-color="rgb(197,197,197)"/><stop offset="0.3000" stop-color="rgb(213,213,213)"/><stop offset="0.3250" stop-color="rgb(226,226,226)"/><stop offset="0.3500" stop-color="rgb(236,236,236)"/><stop offset="0.3750" stop-color="rgb(244,244,244)"/><stop offset="0.4000" stop-color="rgb(249,249,249)"/><stop offset="0.4250" stop-color="rgb(253,253,253)"/><stop offset="0.4500" stop-color="rgb(254,254,254)"/><stop offset="0.4750" stop-color="rgb(255,255,255)"/><stop offset="0.5000" stop-color="rgb(255,255,255)"/><stop offset="0.5250" stop-color="rgb(255,255,255)"/><stop offset="0.5500" stop-color="rgb(254,254,254)"/><stop offset="0.5750" stop-color="rgb(253,253,253)"/><stop offset="0.6000" stop-color="rgb(249,249,249)"/><stop offset="0.6250" stop-color="rgb(244,244,244)"/><stop offset="0.6500" stop-color="rgb(236,236,236)"/><stop offset="0.6750" stop-color="rgb(226,226,226)"/><stop offset="0.7000" stop-color="rgb(213,213,213)"/><stop offset="0.7250" stop-color="rgb(197,197,197)"/><stop offset="0.7500" stop-color="rgb(179,179,179)"/><stop offset="0.7750" stop-color="rgb(160,160,160)"/><stop offset="0.8000" stop-color="rgb(139,139,139)"/><stop offset="0.8250" stop-color="rgb(118,118,118)"/><stop offset="0.8500" stop-color="rgb(97,97,97)"/><stop offset="0.8750" stop-color="rgb(78,78,78)"/><stop offset="0.9000" stop-color="rgb(60,60,60)"/><stop offset="0.9250" stop-color="rgb(45,45,45)"/><stop offset="0.9500" stop-color="rgb(33,33,33)"/><stop offset="0.9750" stop-color="rgb(23,23,23)"/><stop offset="1.0000" stop-color="rgb(15,15,15)"/></linearGradient><mask id="wb3m" maskContentUnits="userSpaceOnUse" x="-1000" y="-1000" width="3000" height="3000"><rect x="-48" y="-10" width="96" height="20" fill="url(#wb3x)"/></mask><linearGradient id="wc3y" x1="0" y1="0" x2="0" y2="1"><stop offset="0.0000" stop-color="#fff" stop-opacity="0.0060"/><stop offset="0.0250" stop-color="#fff" stop-opacity="0.0098"/><stop offset="0.0500" stop-color="#fff" stop-opacity="0.0158"/><stop offset="0.0750" stop-color="#fff" stop-opacity="0.0247"/><stop offset="0.1000" stop-color="#fff" stop-opacity="0.0377"/><stop offset="0.1250" stop-color="#fff" stop-opacity="0.0561"/><stop offset="0.1500" stop-color="#fff" stop-opacity="0.0814"/><stop offset="0.1750" stop-color="#fff" stop-opacity="0.1150"/><stop offset="0.2000" stop-color="#fff" stop-opacity="0.1583"/><stop offset="0.2250" stop-color="#fff" stop-opacity="0.2125"/><stop offset="0.2500" stop-color="#fff" stop-opacity="0.2780"/><stop offset="0.2750" stop-color="#fff" stop-opacity="0.3546"/><stop offset="0.3000" stop-color="#fff" stop-opacity="0.4408"/><stop offset="0.3250" stop-color="#fff" stop-opacity="0.5341"/><stop offset="0.3500" stop-color="#fff" stop-opacity="0.6308"/><stop offset="0.3750" stop-color="#fff" stop-opacity="0.7261"/><stop offset="0.4000" stop-color="#fff" stop-opacity="0.8148"/><stop offset="0.4250" stop-color="#fff" stop-opacity="0.8912"/><stop offset="0.4500" stop-color="#fff" stop-opacity="0.9501"/><stop offset="0.4750" stop-color="#fff" stop-opacity="0.9873"/><stop offset="0.5000" stop-color="#fff" stop-opacity="1.0000"/><stop offset="0.5250" stop-color="#fff" stop-opacity="0.9873"/><stop offset="0.5500" stop-color="#fff" stop-opacity="0.9501"/><stop offset="0.5750" stop-color="#fff" stop-opacity="0.8912"/><stop offset="0.6000" stop-color="#fff" stop-opacity="0.8148"/><stop offset="0.6250" stop-color="#fff" stop-opacity="0.7261"/><stop offset="0.6500" stop-color="#fff" stop-opacity="0.6308"/><stop offset="0.6750" stop-color="#fff" stop-opacity="0.5341"/><stop offset="0.7000" stop-color="#fff" stop-opacity="0.4408"/><stop offset="0.7250" stop-color="#fff" stop-opacity="0.3546"/><stop offset="0.7500" stop-color="#fff" stop-opacity="0.2780"/><stop offset="0.7750" stop-color="#fff" stop-opacity="0.2125"/><stop offset="0.8000" stop-color="#fff" stop-opacity="0.1583"/><stop offset="0.8250" stop-color="#fff" stop-opacity="0.1150"/><stop offset="0.8500" stop-color="#fff" stop-opacity="0.0814"/><stop offset="0.8750" stop-color="#fff" stop-opacity="0.0561"/><stop offset="0.9000" stop-color="#fff" stop-opacity="0.0377"/><stop offset="0.9250" stop-color="#fff" stop-opacity="0.0247"/><stop offset="0.9500" stop-color="#fff" stop-opacity="0.0158"/><stop offset="0.9750" stop-color="#fff" stop-opacity="0.0098"/><stop offset="1.0000" stop-color="#fff" stop-opacity="0.0060"/></linearGradient><linearGradient id="wc3x" x1="0" y1="0" x2="1" y2="0"><stop offset="0.0000" stop-color="rgb(8,8,8)"/><stop offset="0.0250" stop-color="rgb(12,12,12)"/><stop offset="0.0500" stop-color="rgb(16,16,16)"/><stop offset="0.0750" stop-color="rgb(22,22,22)"/><stop offset="0.1000" stop-color="rgb(29,29,29)"/><stop offset="0.1250" stop-color="rgb(38,38,38)"/><stop offset="0.1500" stop-color="rgb(48,48,48)"/><stop offset="0.1750" stop-color="rgb(61,61,61)"/><stop offset="0.2000" stop-color="rgb(75,75,75)"/><stop offset="0.2250" stop-color="rgb(91,91,91)"/><stop offset="0.2500" stop-color="rgb(109,109,109)"/><stop offset="0.2750" stop-color="rgb(128,128,128)"/><stop offset="0.3000" stop-color="rgb(148,148,148)"/><stop offset="0.3250" stop-color="rgb(168,168,168)"/><stop offset="0.3500" stop-color="rgb(188,188,188)"/><stop offset="0.3750" stop-color="rgb(206,206,206)"/><stop offset="0.4000" stop-color="rgb(223,223,223)"/><stop offset="0.4250" stop-color="rgb(236,236,236)"/><stop offset="0.4500" stop-color="rgb(246,246,246)"/><stop offset="0.4750" stop-color="rgb(253,253,253)"/><stop offset="0.5000" stop-color="rgb(255,255,255)"/><stop offset="0.5250" stop-color="rgb(253,253,253)"/><stop offset="0.5500" stop-color="rgb(246,246,246)"/><stop offset="0.5750" stop-color="rgb(236,236,236)"/><stop offset="0.6000" stop-color="rgb(223,223,223)"/><stop offset="0.6250" stop-color="rgb(206,206,206)"/><stop offset="0.6500" stop-color="rgb(188,188,188)"/><stop offset="0.6750" stop-color="rgb(168,168,168)"/><stop offset="0.7000" stop-color="rgb(148,148,148)"/><stop offset="0.7250" stop-color="rgb(128,128,128)"/><stop offset="0.7500" stop-color="rgb(109,109,109)"/><stop offset="0.7750" stop-color="rgb(91,91,91)"/><stop offset="0.8000" stop-color="rgb(75,75,75)"/><stop offset="0.8250" stop-color="rgb(61,61,61)"/><stop offset="0.8500" stop-color="rgb(48,48,48)"/><stop offset="0.8750" stop-color="rgb(38,38,38)"/><stop offset="0.9000" stop-color="rgb(29,29,29)"/><stop offset="0.9250" stop-color="rgb(22,22,22)"/><stop offset="0.9500" stop-color="rgb(16,16,16)"/><stop offset="0.9750" stop-color="rgb(12,12,12)"/><stop offset="1.0000" stop-color="rgb(8,8,8)"/></linearGradient><mask id="wc3m" maskContentUnits="userSpaceOnUse" x="-1000" y="-1000" width="3000" height="3000"><rect x="-30" y="-8" width="60" height="16" fill="url(#wc3x)"/></mask><linearGradient id="wb4y" x1="0" y1="0" x2="0" y2="1"><stop offset="0.0000" stop-color="#fff" stop-opacity="0.0000"/><stop offset="0.0250" stop-color="#fff" stop-opacity="0.0001"/><stop offset="0.0500" stop-color="#fff" stop-opacity="0.0004"/><stop offset="0.0750" stop-color="#fff" stop-opacity="0.0014"/><stop offset="0.1000" stop-color="#fff" stop-opacity="0.0044"/><stop offset="0.1250" stop-color="#fff" stop-opacity="0.0121"/><stop offset="0.1500" stop-color="#fff" stop-opacity="0.0289"/><stop offset="0.1750" stop-color="#fff" stop-opacity="0.0611"/><stop offset="0.2000" stop-color="#fff" stop-opacity="0.1149"/><stop offset="0.2250" stop-color="#fff" stop-opacity="0.1944"/><stop offset="0.2500" stop-color="#fff" stop-opacity="0.2990"/><stop offset="0.2750" stop-color="#fff" stop-opacity="0.4224"/><stop offset="0.3000" stop-color="#fff" stop-opacity="0.5537"/><stop offset="0.3250" stop-color="#fff" stop-opacity="0.6801"/><stop offset="0.3500" stop-color="#fff" stop-opacity="0.7902"/><stop offset="0.3750" stop-color="#fff" stop-opacity="0.8769"/><stop offset="0.4000" stop-color="#fff" stop-opacity="0.9377"/><stop offset="0.4250" stop-color="#fff" stop-opacity="0.9747"/><stop offset="0.4500" stop-color="#fff" stop-opacity="0.9930"/><stop offset="0.4750" stop-color="#fff" stop-opacity="0.9992"/><stop offset="0.5000" stop-color="#fff" stop-opacity="1.0000"/><stop offset="0.5250" stop-color="#fff" stop-opacity="0.9992"/><stop offset="0.5500" stop-color="#fff" stop-opacity="0.9930"/><stop offset="0.5750" stop-color="#fff" stop-opacity="0.9747"/><stop offset="0.6000" stop-color="#fff" stop-opacity="0.9377"/><stop offset="0.6250" stop-color="#fff" stop-opacity="0.8769"/><stop offset="0.6500" stop-color="#fff" stop-opacity="0.7902"/><stop offset="0.6750" stop-color="#fff" stop-opacity="0.6801"/><stop offset="0.7000" stop-color="#fff" stop-opacity="0.5537"/><stop offset="0.7250" stop-color="#fff" stop-opacity="0.4224"/><stop offset="0.7500" stop-color="#fff" stop-opacity="0.2990"/><stop offset="0.7750" stop-color="#fff" stop-opacity="0.1944"/><stop offset="0.8000" stop-color="#fff" stop-opacity="0.1149"/><stop offset="0.8250" stop-color="#fff" stop-opacity="0.0611"/><stop offset="0.8500" stop-color="#fff" stop-opacity="0.0289"/><stop offset="0.8750" stop-color="#fff" stop-opacity="0.0121"/><stop offset="0.9000" stop-color="#fff" stop-opacity="0.0044"/><stop offset="0.9250" stop-color="#fff" stop-opacity="0.0014"/><stop offset="0.9500" stop-color="#fff" stop-opacity="0.0004"/><stop offset="0.9750" stop-color="#fff" stop-opacity="0.0001"/><stop offset="1.0000" stop-color="#fff" stop-opacity="0.0000"/></linearGradient><linearGradient id="wb4x" x1="0" y1="0" x2="1" y2="0"><stop offset="0.0000" stop-color="rgb(0,0,0)"/><stop offset="0.0250" stop-color="rgb(0,0,0)"/><stop offset="0.0500" stop-color="rgb(0,0,0)"/><stop offset="0.0750" stop-color="rgb(2,2,2)"/><stop offset="0.1000" stop-color="rgb(9,9,9)"/><stop offset="0.1250" stop-color="rgb(27,27,27)"/><stop offset="0.1500" stop-color="rgb(58,58,58)"/><stop offset="0.1750" stop-color="rgb(99,99,99)"/><stop offset="0.2000" stop-color="rgb(142,142,142)"/><stop offset="0.2250" stop-color="rgb(180,180,180)"/><stop offset="0.2500" stop-color="rgb(209,209,209)"/><stop offset="0.2750" stop-color="rgb(230,230,230)"/><stop offset="0.3000" stop-color="rgb(242,242,242)"/><stop offset="0.3250" stop-color="rgb(249,249,249)"/><stop offset="0.3500" stop-color="rgb(253,253,253)"/><stop offset="0.3750" stop-color="rgb(254,254,254)"/><stop offset="0.4000" stop-color="rgb(255,255,255)"/><stop offset="0.4250" stop-color="rgb(255,255,255)"/><stop offset="0.4500" stop-color="rgb(255,255,255)"/><stop offset="0.4750" stop-color="rgb(255,255,255)"/><stop offset="0.5000" stop-color="rgb(255,255,255)"/><stop offset="0.5250" stop-color="rgb(255,255,255)"/><stop offset="0.5500" stop-color="rgb(255,255,255)"/><stop offset="0.5750" stop-color="rgb(255,255,255)"/><stop offset="0.6000" stop-color="rgb(255,255,255)"/><stop offset="0.6250" stop-color="rgb(254,254,254)"/><stop offset="0.6500" stop-color="rgb(253,253,253)"/><stop offset="0.6750" stop-color="rgb(249,249,249)"/><stop offset="0.7000" stop-color="rgb(242,242,242)"/><stop offset="0.7250" stop-color="rgb(230,230,230)"/><stop offset="0.7500" stop-color="rgb(209,209,209)"/><stop offset="0.7750" stop-color="rgb(180,180,180)"/><stop offset="0.8000" stop-color="rgb(142,142,142)"/><stop offset="0.8250" stop-color="rgb(99,99,99)"/><stop offset="0.8500" stop-color="rgb(58,58,58)"/><stop offset="0.8750" stop-color="rgb(27,27,27)"/><stop offset="0.9000" stop-color="rgb(9,9,9)"/><stop offset="0.9250" stop-color="rgb(2,2,2)"/><stop offset="0.9500" stop-color="rgb(0,0,0)"/><stop offset="0.9750" stop-color="rgb(0,0,0)"/><stop offset="1.0000" stop-color="rgb(0,0,0)"/></linearGradient><mask id="wb4m" maskContentUnits="userSpaceOnUse" x="-1000" y="-1000" width="3000" height="3000"><rect x="-45" y="-14" width="90" height="28" fill="url(#wb4x)"/></mask><linearGradient id="wc4y" x1="0" y1="0" x2="0" y2="1"><stop offset="0.0000" stop-color="#fff" stop-opacity="0.0013"/><stop offset="0.0250" stop-color="#fff" stop-opacity="0.0026"/><stop offset="0.0500" stop-color="#fff" stop-opacity="0.0047"/><stop offset="0.0750" stop-color="#fff" stop-opacity="0.0084"/><stop offset="0.1000" stop-color="#fff" stop-opacity="0.0145"/><stop offset="0.1250" stop-color="#fff" stop-opacity="0.0243"/><stop offset="0.1500" stop-color="#fff" stop-opacity="0.0392"/><stop offset="0.1750" stop-color="#fff" stop-opacity="0.0612"/><stop offset="0.2000" stop-color="#fff" stop-opacity="0.0925"/><stop offset="0.2250" stop-color="#fff" stop-opacity="0.1353"/><stop offset="0.2500" stop-color="#fff" stop-opacity="0.1915"/><stop offset="0.2750" stop-color="#fff" stop-opacity="0.2621"/><stop offset="0.3000" stop-color="#fff" stop-opacity="0.3472"/><stop offset="0.3250" stop-color="#fff" stop-opacity="0.4449"/><stop offset="0.3500" stop-color="#fff" stop-opacity="0.5515"/><stop offset="0.3750" stop-color="#fff" stop-opacity="0.6615"/><stop offset="0.4000" stop-color="#fff" stop-opacity="0.7676"/><stop offset="0.4250" stop-color="#fff" stop-opacity="0.8618"/><stop offset="0.4500" stop-color="#fff" stop-opacity="0.9360"/><stop offset="0.4750" stop-color="#fff" stop-opacity="0.9836"/><stop offset="0.5000" stop-color="#fff" stop-opacity="1.0000"/><stop offset="0.5250" stop-color="#fff" stop-opacity="0.9836"/><stop offset="0.5500" stop-color="#fff" stop-opacity="0.9360"/><stop offset="0.5750" stop-color="#fff" stop-opacity="0.8618"/><stop offset="0.6000" stop-color="#fff" stop-opacity="0.7676"/><stop offset="0.6250" stop-color="#fff" stop-opacity="0.6615"/><stop offset="0.6500" stop-color="#fff" stop-opacity="0.5515"/><stop offset="0.6750" stop-color="#fff" stop-opacity="0.4449"/><stop offset="0.7000" stop-color="#fff" stop-opacity="0.3472"/><stop offset="0.7250" stop-color="#fff" stop-opacity="0.2621"/><stop offset="0.7500" stop-color="#fff" stop-opacity="0.1915"/><stop offset="0.7750" stop-color="#fff" stop-opacity="0.1353"/><stop offset="0.8000" stop-color="#fff" stop-opacity="0.0925"/><stop offset="0.8250" stop-color="#fff" stop-opacity="0.0612"/><stop offset="0.8500" stop-color="#fff" stop-opacity="0.0392"/><stop offset="0.8750" stop-color="#fff" stop-opacity="0.0243"/><stop offset="0.9000" stop-color="#fff" stop-opacity="0.0145"/><stop offset="0.9250" stop-color="#fff" stop-opacity="0.0084"/><stop offset="0.9500" stop-color="#fff" stop-opacity="0.0047"/><stop offset="0.9750" stop-color="#fff" stop-opacity="0.0026"/><stop offset="1.0000" stop-color="#fff" stop-opacity="0.0013"/></linearGradient><linearGradient id="wc4x" x1="0" y1="0" x2="1" y2="0"><stop offset="0.0000" stop-color="rgb(4,4,4)"/><stop offset="0.0250" stop-color="rgb(6,6,6)"/><stop offset="0.0500" stop-color="rgb(9,9,9)"/><stop offset="0.0750" stop-color="rgb(13,13,13)"/><stop offset="0.1000" stop-color="rgb(19,19,19)"/><stop offset="0.1250" stop-color="rgb(26,26,26)"/><stop offset="0.1500" stop-color="rgb(35,35,35)"/><stop offset="0.1750" stop-color="rgb(45,45,45)"/><stop offset="0.2000" stop-color="rgb(59,59,59)"/><stop offset="0.2250" stop-color="rgb(74,74,74)"/><stop offset="0.2500" stop-color="rgb(92,92,92)"/><stop offset="0.2750" stop-color="rgb(112,112,112)"/><stop offset="0.3000" stop-color="rgb(133,133,133)"/><stop offset="0.3250" stop-color="rgb(155,155,155)"/><stop offset="0.3500" stop-color="rgb(177,177,177)"/><stop offset="0.3750" stop-color="rgb(198,198,198)"/><stop offset="0.4000" stop-color="rgb(217,217,217)"/><stop offset="0.4250" stop-color="rgb(233,233,233)"/><stop offset="0.4500" stop-color="rgb(245,245,245)"/><stop offset="0.4750" stop-color="rgb(252,252,252)"/><stop offset="0.5000" stop-color="rgb(255,255,255)"/><stop offset="0.5250" stop-color="rgb(252,252,252)"/><stop offset="0.5500" stop-color="rgb(245,245,245)"/><stop offset="0.5750" stop-color="rgb(233,233,233)"/><stop offset="0.6000" stop-color="rgb(217,217,217)"/><stop offset="0.6250" stop-color="rgb(198,198,198)"/><stop offset="0.6500" stop-color="rgb(177,177,177)"/><stop offset="0.6750" stop-color="rgb(155,155,155)"/><stop offset="0.7000" stop-color="rgb(133,133,133)"/><stop offset="0.7250" stop-color="rgb(112,112,112)"/><stop offset="0.7500" stop-color="rgb(92,92,92)"/><stop offset="0.7750" stop-color="rgb(74,74,74)"/><stop offset="0.8000" stop-color="rgb(59,59,59)"/><stop offset="0.8250" stop-color="rgb(45,45,45)"/><stop offset="0.8500" stop-color="rgb(35,35,35)"/><stop offset="0.8750" stop-color="rgb(26,26,26)"/><stop offset="0.9000" stop-color="rgb(19,19,19)"/><stop offset="0.9250" stop-color="rgb(13,13,13)"/><stop offset="0.9500" stop-color="rgb(9,9,9)"/><stop offset="0.9750" stop-color="rgb(6,6,6)"/><stop offset="1.0000" stop-color="rgb(4,4,4)"/></linearGradient><mask id="wc4m" maskContentUnits="userSpaceOnUse" x="-1000" y="-1000" width="3000" height="3000"><rect x="-30" y="-12" width="60" height="24" fill="url(#wc4x)"/></mask></defs>
<rect width="685" height="988" fill="#fff"/>
<polyline points="149.30,54.98 149.60,56.32 149.90,57.65 150.20,58.97 150.51,60.28 150.81,61.58 151.11,62.87 151.41,64.16 151.71,65.44 152.01,66.70 152.31,67.96 152.61,69.21 152.92,70.45 153.22,71.68 153.52,72.90 153.82,74.12 154.12,75.32 154.42,76.51 154.72,77.70 155.03,78.88 155.33,80.05 155.63,81.21 155.93,82.36 156.23,83.50 156.53,84.63 156.83,85.75 157.13,86.87 157.44,87.97 157.74,89.07 158.04,90.16 158.34,91.24 158.64,92.31 158.94,93.37 159.24,94.42 159.55,95.46 159.85,96.50 160.15,97.52 160.45,98.54 160.75,99.55 161.05,100.54 161.35,101.53 161.65,102.51 161.96,103.49 162.26,104.45 162.56,105.40 162.86,106.35 163.16,107.28 163.46,108.21 163.76,109.13 164.07,110.03 164.37,110.93 164.67,111.83 164.97,112.71 165.27,113.58 165.57,114.44 165.87,115.30 166.17,116.15 166.48,116.98 166.78,117.81 167.08,118.63 167.38,119.44 167.68,120.24 167.98,121.03 168.28,121.82 168.59,122.59 168.89,123.36 169.19,124.11 169.49,124.86 169.79,125.60 170.09,126.33 170.39,127.05 170.69,127.76 171.00,128.46 171.30,129.16 171.60,129.84 171.90,130.52 172.20,131.19 172.50,131.84 172.80,132.49 173.11,133.13 173.41,133.77 173.71,134.39 174.01,135.00 174.31,135.60 174.61,136.20 174.91,136.79 175.21,137.36 175.52,137.93 175.82,138.49 176.12,139.04 176.42,139.58 176.72,140.12 177.02,140.64 177.32,141.16 177.63,141.66 177.93,142.16 178.23,142.65 178.53,143.13 178.83,143.60 179.13,144.06 179.43,144.51 179.73,144.95 180.04,145.39 180.34,145.81 180.64,146.23 180.94,146.64 181.24,147.03 181.54,147.42 181.84,147.80 182.15,148.17 182.45,148.54 182.75,148.89 183.05,149.24 183.35,149.57 183.65,149.90 183.95,150.22 184.25,150.53 184.56,150.83 184.86,151.12 185.16,151.40 185.46,151.67 185.76,151.94 186.06,152.19 186.36,152.44 186.67,152.67 186.97,152.90 187.27,153.12 187.57,153.33 187.87,153.53 188.17,153.73 188.47,153.91 188.77,154.08 189.08,154.25 189.38,154.41 189.68,154.55 189.98,154.69 190.28,154.82 190.58,154.94 190.88,155.06 191.19,155.16 191.49,155.25 191.79,155.34 192.09,155.41 192.39,155.48 192.69,155.54 192.99,155.59 193.29,155.63 193.60,155.66 193.90,155.68 194.20,155.70 194.50,155.70 194.80,155.70 195.10,155.68 195.40,155.66 195.71,155.63 196.01,155.59 196.31,155.54 196.61,155.48 196.91,155.41 197.21,155.34 197.51,155.25 197.81,155.16 198.12,155.06 198.42,154.94 198.72,154.82 199.02,154.69 199.32,154.55 199.62,154.41 199.92,154.25 200.23,154.08 200.53,153.91 200.83,153.73 201.13,153.53 201.43,153.33 201.73,153.12 202.03,152.90 202.33,152.67 202.64,152.44 202.94,152.19 203.24,151.94 203.54,151.67 203.84,151.40 204.14,151.12 204.44,150.83 204.75,150.53 205.05,150.22 205.35,149.90 205.65,149.57 205.95,149.24 206.25,148.89 206.55,148.54 206.85,148.17 207.16,147.80 207.46,147.42 207.76,147.03 208.06,146.64 208.36,146.23 208.66,145.81 208.96,145.39 209.27,144.95 209.57,144.51 209.87,144.06 210.17,143.60 210.47,143.13 210.77,142.65 211.07,142.16 211.37,141.66 211.68,141.16 211.98,140.64 212.28,140.12 212.58,139.58 212.88,139.04 213.18,138.49 213.48,137.93 213.79,137.36 214.09,136.79 214.39,136.20 214.69,135.60 214.99,135.00 215.29,134.39 215.59,133.77 215.89,133.13 216.20,132.49 216.50,131.84 216.80,131.19 217.10,130.52 217.40,129.84 217.70,129.16 218.00,128.46 218.31,127.76 218.61,127.05 218.91,126.33 219.21,125.60 219.51,124.86 219.81,124.11 220.11,123.36 220.41,122.59 220.72,121.82 221.02,121.03 221.32,120.24 221.62,119.44 221.92,118.63 222.22,117.81 222.52,116.98 222.83,116.15 223.13,115.30 223.43,114.44 223.73,113.58 224.03,112.71 224.33,111.83 224.63,110.93 224.93,110.03 225.24,109.13 225.54,108.21 225.84,107.28 226.14,106.35 226.44,105.40 226.74,104.45 227.04,103.49 227.35,102.51 227.65,101.53 227.95,100.54 228.25,99.55 228.55,98.54 228.85,97.52 229.15,96.50 229.45,95.46 229.76,94.42 230.06,93.37 230.36,92.31 230.66,91.24 230.96,90.16 231.26,89.07 231.56,87.97 231.87,86.87 232.17,85.75 232.47,84.63 232.77,83.50 233.07,82.36 233.37,81.21 233.67,80.05 233.97,78.88 234.28,77.70 234.58,76.51 234.88,75.32 235.18,74.12 235.48,72.90 235.78,71.68 236.08,70.45 236.39,69.21 236.69,67.96 236.99,66.70 237.29,65.44 237.59,64.16 237.89,62.87 238.19,61.58 238.49,60.28 238.80,58.97 239.10,57.65 239.40,56.32 239.70,54.98" fill="none" stroke="#bababa" stroke-width="1.7" stroke-dasharray="7.0,5.0" stroke-dashoffset="-0.76"/>
<polyline points="168.70,118.90 170.02,118.80 171.35,118.71 172.67,118.62 173.99,118.53 175.32,118.45 176.64,118.38 177.96,118.31 179.28,118.25 180.61,118.19 181.93,118.14 183.25,118.09 184.58,118.05 185.90,118.01 187.22,117.98 188.55,117.95 189.87,117.93 191.19,117.92 192.52,117.91 193.84,117.90 195.16,117.90 196.48,117.91 197.81,117.92 199.13,117.93 200.45,117.95 201.78,117.98 203.10,118.01 204.42,118.05 205.75,118.09 207.07,118.14 208.39,118.19 209.72,118.25 211.04,118.31 212.36,118.38 213.68,118.45 215.01,118.53 216.33,118.62 217.65,118.71 218.98,118.80 220.30,118.90" fill="none" stroke="#bdbdbd" stroke-width="1.7"/>
<polyline points="149.20,58.86 149.43,59.82 149.66,60.77 149.88,61.71 150.11,62.65 150.34,63.58 150.57,64.51 150.79,65.44 151.02,66.36 151.25,67.27 151.48,68.18 151.70,69.08 151.93,69.98 152.16,70.87 152.39,71.76 152.61,72.64 152.84,73.52 153.07,74.39 153.30,75.26 153.53,76.12 153.75,76.98 153.98,77.83 154.21,78.68 154.44,79.52 154.66,80.36 154.89,81.19 155.12,82.02 155.35,82.84 155.57,83.65 155.80,84.47 156.03,85.27 156.26,86.07 156.48,86.87 156.71,87.66 156.94,88.45 157.17,89.23 157.39,90.00 157.62,90.77 157.85,91.54 158.08,92.30 158.31,93.05 158.53,93.80 158.76,94.55 158.99,95.29 159.22,96.02 159.44,96.75 159.67,97.48 159.90,98.20 160.13,98.92 160.35,99.63 160.58,100.33 160.81,101.03 161.04,101.73 161.26,102.42 161.49,103.10 161.72,103.78 161.95,104.46 162.18,105.13 162.40,105.79 162.63,106.45 162.86,107.11 163.09,107.76 163.31,108.40 163.54,109.04 163.77,109.68 164.00,110.31 164.22,110.93 164.45,111.56 164.68,112.17 164.91,112.78 165.13,113.39 165.36,113.99 165.59,114.58 165.82,115.18 166.05,115.76 166.27,116.34 166.50,116.92 166.73,117.49 166.96,118.06 167.18,118.62 167.41,119.17 167.64,119.73 167.87,120.27 168.09,120.82 168.32,121.35 168.55,121.89 168.78,122.41 169.00,122.93 169.23,123.45 169.46,123.97 169.69,124.47 169.92,124.98 170.14,125.47 170.37,125.97 170.60,126.46 170.83,126.94 171.05,127.42 171.28,127.89 171.51,128.36 171.74,128.83 171.96,129.29 172.19,129.74 172.42,130.19 172.65,130.64 172.87,131.08 173.10,131.51 173.33,131.94 173.56,132.37 173.78,132.79 174.01,133.21 174.24,133.62 174.47,134.03 174.70,134.43 174.92,134.83 175.15,135.22 175.38,135.61 175.61,135.99 175.83,136.37 176.06,136.74 176.29,137.11 176.52,137.47 176.74,137.83 176.97,138.19 177.20,138.54 177.43,138.88 177.65,139.22 177.88,139.56 178.11,139.89 178.34,140.22 178.57,140.54 178.79,140.86 179.02,141.17 179.25,141.48 179.48,141.78 179.70,142.08 179.93,142.37 180.16,142.66 180.39,142.94 180.61,143.22 180.84,143.50 181.07,143.77 181.30,144.03 181.52,144.30 181.75,144.55 181.98,144.80 182.21,145.05 182.44,145.29 182.66,145.53 182.89,145.76 183.12,145.99 183.35,146.22 183.57,146.43 183.80,146.65 184.03,146.86 184.26,147.06 184.48,147.27 184.71,147.46 184.94,147.65 185.17,147.84 185.39,148.02 185.62,148.20 185.85,148.37 186.08,148.54 186.31,148.71 186.53,148.87 186.76,149.02 186.99,149.17 187.22,149.32 187.44,149.46 187.67,149.60 187.90,149.73 188.13,149.86 188.35,149.98 188.58,150.10 188.81,150.21 189.04,150.32 189.26,150.43 189.49,150.53 189.72,150.62 189.95,150.71 190.17,150.80 190.40,150.88 190.63,150.96 190.86,151.04 191.09,151.10 191.31,151.17 191.54,151.23 191.77,151.29 192.00,151.34 192.22,151.38 192.45,151.43 192.68,151.46 192.91,151.50 193.13,151.53 193.36,151.55 193.59,151.57 193.82,151.59 194.04,151.60 194.27,151.60 194.50,151.61 194.73,151.60 194.96,151.60 195.18,151.59 195.41,151.57 195.64,151.55 195.87,151.53 196.09,151.50 196.32,151.46 196.55,151.43 196.78,151.38 197.00,151.34 197.23,151.29 197.46,151.23 197.69,151.17 197.91,151.10 198.14,151.04 198.37,150.96 198.60,150.88 198.83,150.80 199.05,150.71 199.28,150.62 199.51,150.53 199.74,150.43 199.96,150.32 200.19,150.21 200.42,150.10 200.65,149.98 200.87,149.86 201.10,149.73 201.33,149.60 201.56,149.46 201.78,149.32 202.01,149.17 202.24,149.02 202.47,148.87 202.69,148.71 202.92,148.54 203.15,148.37 203.38,148.20 203.61,148.02 203.83,147.84 204.06,147.65 204.29,147.46 204.52,147.27 204.74,147.06 204.97,146.86 205.20,146.65 205.43,146.43 205.65,146.22 205.88,145.99 206.11,145.76 206.34,145.53 206.56,145.29 206.79,145.05 207.02,144.80 207.25,144.55 207.48,144.30 207.70,144.03 207.93,143.77 208.16,143.50 208.39,143.22 208.61,142.94 208.84,142.66 209.07,142.37 209.30,142.08 209.52,141.78 209.75,141.48 209.98,141.17 210.21,140.86 210.43,140.54 210.66,140.22 210.89,139.89 211.12,139.56 211.35,139.22 211.57,138.88 211.80,138.54 212.03,138.19 212.26,137.83 212.48,137.47 212.71,137.11 212.94,136.74 213.17,136.37 213.39,135.99 213.62,135.61 213.85,135.22 214.08,134.83 214.30,134.43 214.53,134.03 214.76,133.62 214.99,133.21 215.22,132.79 215.44,132.37 215.67,131.94 215.90,131.51 216.13,131.08 216.35,130.64 216.58,130.19 216.81,129.74 217.04,129.29 217.26,128.83 217.49,128.36 217.72,127.89 217.95,127.42 218.17,126.94 218.40,126.46 218.63,125.97 218.86,125.47 219.08,124.98 219.31,124.47 219.54,123.97 219.77,123.45 220.00,122.93 220.22,122.41 220.45,121.89 220.68,121.35 220.91,120.82 221.13,120.27 221.36,119.73 221.59,119.17 221.82,118.62 222.04,118.06 222.27,117.49 222.50,116.92 222.73,116.34 222.95,115.76 223.18,115.18 223.41,114.58 223.64,113.99 223.87,113.39 224.09,112.78 224.32,112.17 224.55,111.56 224.78,110.93 225.00,110.31 225.23,109.68 225.46,109.04 225.69,108.40 225.91,107.76 226.14,107.11 226.37,106.45 226.60,105.79 226.82,105.13 227.05,104.46 227.28,103.78 227.51,103.10 227.74,102.42 227.96,101.73 228.19,101.03 228.42,100.33 228.65,99.63 228.87,98.92 229.10,98.20 229.33,97.48 229.56,96.75 229.78,96.02 230.01,95.29 230.24,94.55 230.47,93.80 230.69,93.05 230.92,92.30 231.15,91.54 231.38,90.77 231.61,90.00 231.83,89.23 232.06,88.45 232.29,87.66 232.52,86.87 232.74,86.07 232.97,85.27 233.20,84.47 233.43,83.65 233.65,82.84 233.88,82.02 234.11,81.19 234.34,80.36 234.56,79.52 234.79,78.68 235.02,77.83 235.25,76.98 235.47,76.12 235.70,75.26 235.93,74.39 236.16,73.52 236.39,72.64 236.61,71.76 236.84,70.87 237.07,69.98 237.30,69.08 237.52,68.18 237.75,67.27 237.98,66.36 238.21,65.44 238.43,64.51 238.66,63.58 238.89,62.65 239.12,61.71 239.34,60.77 239.57,59.82 239.80,58.86" fill="none" stroke="#ca1c1c" stroke-width="2.5" stroke-linejoin="round"/>
<polyline points="170.20,272.60 170.60,270.47 171.01,268.71 171.41,266.92 171.82,265.09 172.22,263.24 172.63,261.35 173.03,259.44 173.44,257.50 173.84,255.54 174.25,253.55 174.66,251.55 175.06,249.52 175.47,247.47 175.87,245.40 176.28,243.32 176.68,241.22 177.09,239.11 177.49,236.99 177.90,234.86 178.30,232.72 178.71,230.57 179.11,228.41 179.51,226.25 179.92,224.09 180.32,221.93 180.73,219.77 181.13,217.63 181.54,215.49 181.94,213.37 182.35,211.26 182.75,209.18 183.16,207.12 183.56,205.09 183.97,203.08 184.38,201.12 184.78,199.19 185.19,197.29 185.59,195.45 186.00,193.65 186.40,191.90 186.81,190.20 187.21,188.56 187.62,186.98 188.02,185.46 188.43,184.01 188.83,182.62 189.24,181.31 189.64,180.08 190.05,178.92 190.45,177.85 190.85,176.86 191.26,175.97 191.66,175.16 192.07,174.45 192.47,173.84 192.88,173.33 193.28,172.92 193.69,172.62 194.09,172.44 194.50,172.37 194.91,172.44 195.31,172.62 195.72,172.92 196.12,173.33 196.53,173.84 196.93,174.45 197.34,175.16 197.74,175.97 198.15,176.86 198.55,177.85 198.96,178.92 199.36,180.08 199.76,181.31 200.17,182.62 200.57,184.01 200.98,185.46 201.38,186.98 201.79,188.56 202.19,190.20 202.60,191.90 203.00,193.65 203.41,195.45 203.81,197.29 204.22,199.19 204.62,201.12 205.03,203.08 205.44,205.09 205.84,207.12 206.25,209.18 206.65,211.26 207.06,213.37 207.46,215.49 207.87,217.63 208.27,219.77 208.68,221.93 209.08,224.09 209.49,226.25 209.89,228.41 210.30,230.57 210.70,232.72 211.10,234.86 211.51,236.99 211.91,239.11 212.32,241.22 212.72,243.32 213.13,245.40 213.53,247.47 213.94,249.52 214.34,251.55 214.75,253.55 215.16,255.54 215.56,257.50 215.97,259.44 216.37,261.35 216.78,263.24 217.18,265.09 217.59,266.92 217.99,268.71 218.40,270.47 218.80,272.60" fill="none" stroke="#c8c8c8" stroke-width="2.5"/>
<polyline points="149.00,272.60 149.30,272.60 149.61,272.60 149.91,272.60 150.21,272.60 150.52,272.60 150.82,272.60 151.12,272.60 151.43,272.60 151.73,272.60 152.03,272.60 152.34,272.60 152.64,272.60 152.94,272.60 153.25,272.60 153.55,272.60 153.85,272.60 154.16,272.60 154.46,272.60 154.76,272.60 155.07,272.60 155.37,272.60 155.67,272.60 155.98,272.60 156.28,272.60 156.58,272.60 156.89,272.60 157.19,272.60 157.49,272.60 157.80,272.60 158.10,272.60 158.40,272.60 158.71,272.60 159.01,272.60 159.31,272.60 159.62,272.60 159.92,272.60 160.22,272.60 160.53,272.60 160.83,272.60 161.13,272.60 161.44,272.60 161.74,272.60 162.04,272.60 162.35,272.60 162.65,272.60 162.95,272.60 163.26,272.60 163.56,272.60 163.86,272.60 164.17,272.60 164.47,272.60 164.77,272.60 165.08,272.60 165.38,272.60 165.68,272.60 165.99,272.58 166.29,272.55 166.59,272.50 166.90,272.43 167.20,272.36 167.50,272.27 167.81,272.16 168.11,272.05 168.41,271.92 168.72,271.78 169.02,271.63 169.32,271.47 169.63,271.29 169.93,271.11 170.23,270.92 170.54,270.72 170.84,270.51 171.14,270.29 171.45,270.07 171.75,269.83 172.05,269.59 172.36,269.35 172.66,269.10 172.96,268.84 173.27,268.58 173.57,268.31 173.87,268.03 174.18,267.76 174.48,267.48 174.78,267.19 175.09,266.90 175.39,266.61 175.69,266.32 176.00,266.03 176.30,265.73 176.60,265.43 176.91,265.13 177.21,264.83 177.51,264.53 177.82,264.23 178.12,263.93 178.42,263.63 178.73,263.33 179.03,263.03 179.33,262.73 179.64,262.43 179.94,262.14 180.24,261.85 180.55,261.56 180.85,261.27 181.15,260.98 181.46,260.70 181.76,260.42 182.06,260.15 182.37,259.87 182.67,259.61 182.97,259.34 183.28,259.08 183.58,258.83 183.88,258.58 184.19,258.33 184.49,258.09 184.79,257.86 185.10,257.63 185.40,257.40 185.70,257.18 186.01,256.97 186.31,256.76 186.61,256.56 186.92,256.37 187.22,256.18 187.52,256.00 187.83,255.83 188.13,255.66 188.43,255.50 188.74,255.35 189.04,255.20 189.34,255.06 189.65,254.93 189.95,254.81 190.25,254.69 190.56,254.59 190.86,254.48 191.16,254.39 191.47,254.31 191.77,254.23 192.07,254.16 192.38,254.10 192.68,254.05 192.98,254.00 193.29,253.97 193.59,253.94 193.89,253.92 194.20,253.90 194.50,253.90 194.80,253.90 195.11,253.92 195.41,253.94 195.71,253.97 196.02,254.00 196.32,254.05 196.62,254.10 196.93,254.16 197.23,254.23 197.53,254.31 197.84,254.39 198.14,254.48 198.44,254.59 198.75,254.69 199.05,254.81 199.35,254.93 199.66,255.06 199.96,255.20 200.26,255.35 200.57,255.50 200.87,255.66 201.17,255.83 201.48,256.00 201.78,256.18 202.08,256.37 202.39,256.56 202.69,256.76 202.99,256.97 203.30,257.18 203.60,257.40 203.90,257.63 204.21,257.86 204.51,258.09 204.81,258.33 205.12,258.58 205.42,258.83 205.72,259.08 206.03,259.34 206.33,259.61 206.63,259.87 206.94,260.15 207.24,260.42 207.54,260.70 207.85,260.98 208.15,261.27 208.45,261.56 208.76,261.85 209.06,262.14 209.36,262.43 209.67,262.73 209.97,263.03 210.27,263.33 210.58,263.63 210.88,263.93 211.18,264.23 211.49,264.53 211.79,264.83 212.09,265.13 212.40,265.43 212.70,265.73 213.00,266.03 213.31,266.32 213.61,266.61 213.91,266.90 214.22,267.19 214.52,267.48 214.82,267.76 215.13,268.03 215.43,268.31 215.73,268.58 216.04,268.84 216.34,269.10 216.64,269.35 216.95,269.59 217.25,269.83 217.55,270.07 217.86,270.29 218.16,270.51 218.46,270.72 218.77,270.92 219.07,271.11 219.37,271.29 219.68,271.47 219.98,271.63 220.28,271.78 220.59,271.92 220.89,272.05 221.19,272.16 221.50,272.27 221.80,272.36 222.10,272.43 222.41,272.50 222.71,272.55 223.01,272.58 223.32,272.60 223.62,272.60 223.92,272.60 224.23,272.60 224.53,272.60 224.83,272.60 225.14,272.60 225.44,272.60 225.74,272.60 226.05,272.60 226.35,272.60 226.65,272.60 226.96,272.60 227.26,272.60 227.56,272.60 227.87,272.60 228.17,272.60 228.47,272.60 228.78,272.60 229.08,272.60 229.38,272.60 229.69,272.60 229.99,272.60 230.29,272.60 230.60,272.60 230.90,272.60 231.20,272.60 231.51,272.60 231.81,272.60 232.11,272.60 232.42,272.60 232.72,272.60 233.02,272.60 233.33,272.60 233.63,272.60 233.93,272.60 234.24,272.60 234.54,272.60 234.84,272.60 235.15,272.60 235.45,272.60 235.75,272.60 236.06,272.60 236.36,272.60 236.66,272.60 236.97,272.60 237.27,272.60 237.57,272.60 237.88,272.60 238.18,272.60 238.48,272.60 238.79,272.60 239.09,272.60 239.39,272.60 239.70,272.60 240.00,272.60" fill="none" stroke="#ca1c1c" stroke-width="2.5" stroke-linejoin="round"/>
<g filter="url(#cmap)"><rect x="144" y="288.4" width="101.3" height="101.3" fill="rgb(26,26,26)"/>
<ellipse cx="194.6" cy="329.8" rx="18" ry="3" fill="#000" opacity="0.9" filter="url(#blur2)"/>
<ellipse cx="194.6" cy="350.8" rx="18" ry="3" fill="#000" opacity="0.9" filter="url(#blur2)"/>
<g transform="translate(194.6,340.3) rotate(0)"><g mask="url(#wb0m)"><rect x="-45" y="-14" width="90" height="28" fill="url(#wb0y)" opacity="0.64"/></g></g>
<g transform="translate(194.6,340.3) rotate(0)"><g mask="url(#wc0m)"><rect x="-30" y="-12" width="60" height="24" fill="url(#wc0y)" opacity="0.93"/></g></g>
</g>
<polyline points="258.60,54.98 258.90,56.32 259.20,57.65 259.50,58.97 259.81,60.28 260.11,61.58 260.41,62.87 260.71,64.16 261.01,65.44 261.31,66.70 261.61,67.96 261.91,69.21 262.22,70.45 262.52,71.68 262.82,72.90 263.12,74.12 263.42,75.32 263.72,76.51 264.02,77.70 264.33,78.88 264.63,80.05 264.93,81.21 265.23,82.36 265.53,83.50 265.83,84.63 266.13,85.75 266.43,86.87 266.74,87.97 267.04,89.07 267.34,90.16 267.64,91.24 267.94,92.31 268.24,93.37 268.54,94.42 268.85,95.46 269.15,96.50 269.45,97.52 269.75,98.54 270.05,99.55 270.35,100.54 270.65,101.53 270.95,102.51 271.26,103.49 271.56,104.45 271.86,105.40 272.16,106.35 272.46,107.28 272.76,108.21 273.06,109.13 273.37,110.03 273.67,110.93 273.97,111.83 274.27,112.71 274.57,113.58 274.87,114.44 275.17,115.30 275.47,116.15 275.78,116.98 276.08,117.81 276.38,118.63 276.68,119.44 276.98,120.24 277.28,121.03 277.58,121.82 277.89,122.59 278.19,123.36 278.49,124.11 278.79,124.86 279.09,125.60 279.39,126.33 279.69,127.05 279.99,127.76 280.30,128.46 280.60,129.16 280.90,129.84 281.20,130.52 281.50,131.19 281.80,131.84 282.10,132.49 282.41,133.13 282.71,133.77 283.01,134.39 283.31,135.00 283.61,135.60 283.91,136.20 284.21,136.79 284.51,137.36 284.82,137.93 285.12,138.49 285.42,139.04 285.72,139.58 286.02,140.12 286.32,140.64 286.62,141.16 286.93,141.66 287.23,142.16 287.53,142.65 287.83,143.13 288.13,143.60 288.43,144.06 288.73,144.51 289.03,144.95 289.34,145.39 289.64,145.81 289.94,146.23 290.24,146.64 290.54,147.03 290.84,147.42 291.14,147.80 291.45,148.17 291.75,148.54 292.05,148.89 292.35,149.24 292.65,149.57 292.95,149.90 293.25,150.22 293.55,150.53 293.86,150.83 294.16,151.12 294.46,151.40 294.76,151.67 295.06,151.94 295.36,152.19 295.66,152.44 295.97,152.67 296.27,152.90 296.57,153.12 296.87,153.33 297.17,153.53 297.47,153.73 297.77,153.91 298.07,154.08 298.38,154.25 298.68,154.41 298.98,154.55 299.28,154.69 299.58,154.82 299.88,154.94 300.18,155.06 300.49,155.16 300.79,155.25 301.09,155.34 301.39,155.41 301.69,155.48 301.99,155.54 302.29,155.59 302.59,155.63 302.90,155.66 303.20,155.68 303.50,155.70 303.80,155.70 304.10,155.70 304.40,155.68 304.70,155.66 305.01,155.63 305.31,155.59 305.61,155.54 305.91,155.48 306.21,155.41 306.51,155.34 306.81,155.25 307.11,155.16 307.42,155.06 307.72,154.94 308.02,154.82 308.32,154.69 308.62,154.55 308.92,154.41 309.22,154.25 309.53,154.08 309.83,153.91 310.13,153.73 310.43,153.53 310.73,153.33 311.03,153.12 311.33,152.90 311.63,152.67 311.94,152.44 312.24,152.19 312.54,151.94 312.84,151.67 313.14,151.40 313.44,151.12 313.74,150.83 314.05,150.53 314.35,150.22 314.65,149.90 314.95,149.57 315.25,149.24 315.55,148.89 315.85,148.54 316.15,148.17 316.46,147.80 316.76,147.42 317.06,147.03 317.36,146.64 317.66,146.23 317.96,145.81 318.26,145.39 318.57,144.95 318.87,144.51 319.17,144.06 319.47,143.60 319.77,143.13 320.07,142.65 320.37,142.16 320.67,141.66 320.98,141.16 321.28,140.64 321.58,140.12 321.88,139.58 322.18,139.04 322.48,138.49 322.78,137.93 323.09,137.36 323.39,136.79 323.69,136.20 323.99,135.60 324.29,135.00 324.59,134.39 324.89,133.77 325.19,133.13 325.50,132.49 325.80,131.84 326.10,131.19 326.40,130.52 326.70,129.84 327.00,129.16 327.30,128.46 327.61,127.76 327.91,127.05 328.21,126.33 328.51,125.60 328.81,124.86 329.11,124.11 329.41,123.36 329.71,122.59 330.02,121.82 330.32,121.03 330.62,120.24 330.92,119.44 331.22,118.63 331.52,117.81 331.82,116.98 332.13,116.15 332.43,115.30 332.73,114.44 333.03,113.58 333.33,112.71 333.63,111.83 333.93,110.93 334.23,110.03 334.54,109.13 334.84,108.21 335.14,107.28 335.44,106.35 335.74,105.40 336.04,104.45 336.34,103.49 336.65,102.51 336.95,101.53 337.25,100.54 337.55,99.55 337.85,98.54 338.15,97.52 338.45,96.50 338.75,95.46 339.06,94.42 339.36,93.37 339.66,92.31 339.96,91.24 340.26,90.16 340.56,89.07 340.86,87.97 341.17,86.87 341.47,85.75 341.77,84.63 342.07,83.50 342.37,82.36 342.67,81.21 342.97,80.05 343.27,78.88 343.58,77.70 343.88,76.51 344.18,75.32 344.48,74.12 344.78,72.90 345.08,71.68 345.38,70.45 345.69,69.21 345.99,67.96 346.29,66.70 346.59,65.44 346.89,64.16 347.19,62.87 347.49,61.58 347.79,60.28 348.10,58.97 348.40,57.65 348.70,56.32 349.00,54.98" fill="none" stroke="#bababa" stroke-width="1.7" stroke-dasharray="7.0,5.0" stroke-dashoffset="-0.76"/>
<polyline points="258.90,59.40 259.13,60.71 259.35,62.00 259.58,63.27 259.80,64.50 260.03,65.71 260.25,66.88 260.48,68.02 260.71,69.13 260.93,70.19 261.16,71.21 261.38,72.19 261.61,73.13 261.83,74.04 262.06,74.92 262.28,75.78 262.51,76.62 262.74,77.44 262.96,78.25 263.19,79.04 263.41,79.83 263.64,80.62 263.86,81.41 264.09,82.21 264.32,83.01 264.54,83.81 264.77,84.60 264.99,85.39 265.22,86.17 265.44,86.94 265.67,87.71 265.89,88.48 266.12,89.24 266.35,89.99 266.57,90.74 266.80,91.48 267.02,92.22 267.25,92.96 267.47,93.68 267.70,94.40 267.93,95.12 268.15,95.83 268.38,96.53 268.60,97.23 268.83,97.93 269.05,98.62 269.28,99.31 269.50,100.00 269.73,100.68 269.96,101.36 270.18,102.04 270.41,102.72 270.63,103.40 270.86,104.08 271.08,104.76 271.31,105.43 271.54,106.11 271.76,106.78 271.99,107.44 272.21,108.10 272.44,108.76 272.66,109.41 272.89,110.05 273.11,110.68 273.34,111.31 273.57,111.93 273.79,112.54 274.02,113.15 274.24,113.74 274.47,114.34 274.69,114.93 274.92,115.51 275.15,116.09 275.37,116.67 275.60,117.25 275.82,117.83 276.05,118.40 276.27,118.98 276.50,119.55 276.72,120.13 276.95,120.72 277.18,121.30 277.40,121.88 277.63,122.46 277.85,123.04 278.08,123.61 278.30,124.18 278.53,124.74 278.76,125.29 278.98,125.83 279.21,126.36 279.43,126.87 279.66,127.38 279.88,127.88 280.11,128.38 280.33,128.87 280.56,129.35 280.79,129.83 281.01,130.30 281.24,130.76 281.46,131.22 281.69,131.66 281.91,132.10 282.14,132.52 282.37,132.94 282.59,133.34 282.82,133.74 283.04,134.14 283.27,134.53 283.49,134.91 283.72,135.28 283.94,135.65 284.17,136.01 284.40,136.37 284.62,136.72 284.85,137.06 285.07,137.39 285.30,137.72 285.52,138.03 285.75,138.35 285.98,138.65 286.20,138.94 286.43,139.21 286.65,139.45 286.88,139.68 287.10,139.89 287.33,140.09 287.55,140.29 287.78,140.47 288.01,140.64 288.23,140.81 288.46,140.97 288.68,141.12 288.91,141.27 289.13,141.42 289.36,141.56 289.59,141.70 289.81,141.84 290.04,141.97 290.26,142.11 290.49,142.23 290.71,142.36 290.94,142.48 291.16,142.60 291.39,142.72 291.62,142.84 291.84,142.95 292.07,143.07 292.29,143.18 292.52,143.29 292.74,143.40 292.97,143.51 293.20,143.61 293.42,143.72 293.65,143.82 293.87,143.93 294.10,144.03 294.32,144.14 294.55,144.24 294.77,144.34 295.00,144.45 295.23,144.55 295.45,144.65 295.68,144.75 295.90,144.84 296.13,144.94 296.35,145.03 296.58,145.12 296.81,145.21 297.03,145.30 297.26,145.38 297.48,145.46 297.71,145.54 297.93,145.61 298.16,145.68 298.38,145.74 298.61,145.80 298.84,145.86 299.06,145.92 299.29,145.98 299.51,146.04 299.74,146.10 299.96,146.16 300.19,146.22 300.42,146.28 300.64,146.34 300.87,146.39 301.09,146.44 301.32,146.50 301.54,146.54 301.77,146.59 301.99,146.63 302.22,146.67 302.45,146.70 302.67,146.73 302.90,146.75 303.12,146.77 303.35,146.79 303.57,146.80 303.80,146.80 304.03,146.80 304.25,146.79 304.48,146.77 304.70,146.75 304.93,146.73 305.15,146.70 305.38,146.67 305.61,146.63 305.83,146.59 306.06,146.54 306.28,146.50 306.51,146.44 306.73,146.39 306.96,146.34 307.18,146.28 307.41,146.22 307.64,146.16 307.86,146.10 308.09,146.04 308.31,145.98 308.54,145.92 308.76,145.86 308.99,145.80 309.22,145.74 309.44,145.68 309.67,145.61 309.89,145.54 310.12,145.46 310.34,145.38 310.57,145.30 310.79,145.21 311.02,145.12 311.25,145.03 311.47,144.94 311.70,144.84 311.92,144.75 312.15,144.65 312.37,144.55 312.60,144.45 312.83,144.34 313.05,144.24 313.28,144.14 313.50,144.03 313.73,143.93 313.95,143.82 314.18,143.72 314.40,143.61 314.63,143.51 314.86,143.40 315.08,143.29 315.31,143.18 315.53,143.07 315.76,142.95 315.98,142.84 316.21,142.72 316.44,142.60 316.66,142.48 316.89,142.36 317.11,142.23 317.34,142.11 317.56,141.97 317.79,141.84 318.01,141.70 318.24,141.56 318.47,141.42 318.69,141.27 318.92,141.12 319.14,140.97 319.37,140.81 319.59,140.64 319.82,140.47 320.05,140.29 320.27,140.09 320.50,139.89 320.72,139.68 320.95,139.45 321.17,139.21 321.40,138.94 321.62,138.65 321.85,138.35 322.08,138.03 322.30,137.72 322.53,137.39 322.75,137.06 322.98,136.72 323.20,136.37 323.43,136.01 323.66,135.65 323.88,135.28 324.11,134.91 324.33,134.53 324.56,134.14 324.78,133.74 325.01,133.34 325.23,132.94 325.46,132.52 325.69,132.10 325.91,131.66 326.14,131.22 326.36,130.76 326.59,130.30 326.81,129.83 327.04,129.35 327.27,128.87 327.49,128.38 327.72,127.88 327.94,127.38 328.17,126.87 328.39,126.36 328.62,125.83 328.84,125.29 329.07,124.74 329.30,124.18 329.52,123.61 329.75,123.04 329.97,122.46 330.20,121.88 330.42,121.30 330.65,120.72 330.88,120.13 331.10,119.55 331.33,118.98 331.55,118.40 331.78,117.83 332.00,117.25 332.23,116.67 332.45,116.09 332.68,115.51 332.91,114.93 333.13,114.34 333.36,113.74 333.58,113.15 333.81,112.54 334.03,111.93 334.26,111.31 334.49,110.68 334.71,110.05 334.94,109.41 335.16,108.76 335.39,108.10 335.61,107.44 335.84,106.78 336.06,106.11 336.29,105.43 336.52,104.76 336.74,104.08 336.97,103.40 337.19,102.72 337.42,102.04 337.64,101.36 337.87,100.68 338.10,100.00 338.32,99.31 338.55,98.62 338.77,97.93 339.00,97.23 339.22,96.53 339.45,95.83 339.67,95.12 339.90,94.40 340.13,93.68 340.35,92.96 340.58,92.22 340.80,91.48 341.03,90.74 341.25,89.99 341.48,89.24 341.71,88.48 341.93,87.71 342.16,86.94 342.38,86.17 342.61,85.39 342.83,84.60 343.06,83.81 343.28,83.01 343.51,82.21 343.74,81.41 343.96,80.62 344.19,79.83 344.41,79.04 344.64,78.25 344.86,77.44 345.09,76.62 345.32,75.78 345.54,74.92 345.77,74.04 345.99,73.13 346.22,72.19 346.44,71.21 346.67,70.19 346.89,69.13 347.12,68.02 347.35,66.88 347.57,65.71 347.80,64.50 348.02,63.27 348.25,62.00 348.47,60.71 348.70,59.40" fill="none" stroke="#1616c2" stroke-width="2.5" stroke-linejoin="round"/>
<polyline points="303.80,172.37 303.68,172.38 303.56,172.40 303.43,172.43 303.31,172.47 303.19,172.52 303.07,172.58 302.95,172.65 302.82,172.73 302.70,172.82 302.58,172.93 302.46,173.04 302.33,173.16 302.21,173.29 302.09,173.43 301.97,173.58 301.85,173.74 301.72,173.91 301.60,174.09 301.48,174.27 301.36,174.47 301.24,174.67 301.11,174.89 300.99,175.11 300.87,175.34 300.75,175.58 300.63,175.83 300.50,176.09 300.38,176.35 300.26,176.63 300.14,176.91 300.01,177.20 299.89,177.49 299.77,177.80 299.65,178.11 299.53,178.43 299.40,178.76 299.28,179.10 299.16,179.44 299.04,179.79 298.92,180.15 298.79,180.52 298.67,180.89 298.55,181.27 298.43,181.66 298.31,182.05 298.18,182.45 298.06,182.86 297.94,183.27 297.82,183.69 297.69,184.11 297.57,184.55 297.45,184.98 297.33,185.43 297.21,185.88 297.08,186.34 296.96,186.80 296.84,187.27 296.72,187.74 296.60,188.22 296.47,188.70 296.35,189.19 296.23,189.69 296.11,190.19 295.98,190.70 295.86,191.21 295.74,191.72 295.62,192.24 295.50,192.77 295.37,193.30 295.25,193.83 295.13,194.37 295.01,194.92 294.89,195.47 294.76,196.02 294.64,196.57 294.52,197.14 294.40,197.70 294.28,198.27 294.15,198.84 294.03,199.42 293.91,200.00 293.79,200.58 293.66,201.17 293.54,201.76 293.42,202.35 293.30,202.95 293.18,203.54 293.05,204.15 292.93,204.75 292.81,205.36 292.69,205.97 292.57,206.59 292.44,207.20 292.32,207.82 292.20,208.44 292.08,209.06 291.96,209.69 291.83,210.32 291.71,210.95 291.59,211.58 291.47,212.21 291.34,212.85 291.22,213.48 291.10,214.12 290.98,214.76 290.86,215.40 290.73,216.05 290.61,216.69 290.49,217.34 290.37,217.98 290.25,218.63 290.12,219.28 290.00,219.93 289.88,220.57 289.76,221.22 289.64,221.88 289.51,222.53 289.39,223.18 289.27,223.83 289.15,224.48 289.02,225.13 288.90,225.78 288.78,226.44 288.66,227.09 288.54,227.74 288.41,228.39 288.29,229.04 288.17,229.69 288.05,230.34 287.93,230.99 287.80,231.64 287.68,232.28 287.56,232.93 287.44,233.58 287.32,234.22 287.19,234.87 287.07,235.51 286.95,236.16 286.83,236.80 286.70,237.44 286.58,238.08 286.46,238.72 286.34,239.36 286.22,239.99 286.09,240.63 285.97,241.27 285.85,241.90 285.73,242.53 285.61,243.16 285.48,243.79 285.36,244.42 285.24,245.05 285.12,245.67 284.99,246.30 284.87,246.92 284.75,247.54 284.63,248.16 284.51,248.78 284.38,249.39 284.26,250.01 284.14,250.62 284.02,251.23 283.90,251.84 283.77,252.45 283.65,253.05 283.53,253.65 283.41,254.26 283.29,254.85 283.16,255.45 283.04,256.05 282.92,256.64 282.80,257.23 282.67,257.82 282.55,258.40 282.43,258.99 282.31,259.57 282.19,260.15 282.06,260.72 281.94,261.30 281.82,261.87 281.70,262.44 281.58,263.00 281.45,263.57 281.33,264.13 281.21,264.69 281.09,265.24 280.97,265.79 280.84,266.34 280.72,266.89 280.60,267.43 280.48,267.98 280.35,268.51 280.23,269.05 280.11,269.58 279.99,270.11 279.87,270.63 279.74,271.16 279.62,271.68 279.50,272.60" fill="none" stroke="#b4b4b4" stroke-width="2.4" stroke-linecap="round" stroke-dasharray="0.01,6.05" stroke-dashoffset="-3"/>
<polyline points="303.80,172.37 303.92,172.38 304.04,172.40 304.17,172.43 304.29,172.47 304.41,172.52 304.53,172.58 304.65,172.65 304.78,172.73 304.90,172.82 305.02,172.93 305.14,173.04 305.27,173.16 305.39,173.29 305.51,173.43 305.63,173.58 305.75,173.74 305.88,173.91 306.00,174.09 306.12,174.27 306.24,174.47 306.36,174.67 306.49,174.89 306.61,175.11 306.73,175.34 306.85,175.58 306.97,175.83 307.10,176.09 307.22,176.35 307.34,176.63 307.46,176.91 307.59,177.20 307.71,177.49 307.83,177.80 307.95,178.11 308.07,178.43 308.20,178.76 308.32,179.10 308.44,179.44 308.56,179.79 308.68,180.15 308.81,180.52 308.93,180.89 309.05,181.27 309.17,181.66 309.29,182.05 309.42,182.45 309.54,182.86 309.66,183.27 309.78,183.69 309.91,184.11 310.03,184.55 310.15,184.98 310.27,185.43 310.39,185.88 310.52,186.34 310.64,186.80 310.76,187.27 310.88,187.74 311.00,188.22 311.13,188.70 311.25,189.19 311.37,189.69 311.49,190.19 311.62,190.70 311.74,191.21 311.86,191.72 311.98,192.24 312.10,192.77 312.23,193.30 312.35,193.83 312.47,194.37 312.59,194.92 312.71,195.47 312.84,196.02 312.96,196.57 313.08,197.14 313.20,197.70 313.32,198.27 313.45,198.84 313.57,199.42 313.69,200.00 313.81,200.58 313.94,201.17 314.06,201.76 314.18,202.35 314.30,202.95 314.42,203.54 314.55,204.15 314.67,204.75 314.79,205.36 314.91,205.97 315.03,206.59 315.16,207.20 315.28,207.82 315.40,208.44 315.52,209.06 315.64,209.69 315.77,210.32 315.89,210.95 316.01,211.58 316.13,212.21 316.26,212.85 316.38,213.48 316.50,214.12 316.62,214.76 316.74,215.40 316.87,216.05 316.99,216.69 317.11,217.34 317.23,217.98 317.35,218.63 317.48,219.28 317.60,219.93 317.72,220.57 317.84,221.22 317.96,221.88 318.09,222.53 318.21,223.18 318.33,223.83 318.45,224.48 318.58,225.13 318.70,225.78 318.82,226.44 318.94,227.09 319.06,227.74 319.19,228.39 319.31,229.04 319.43,229.69 319.55,230.34 319.67,230.99 319.80,231.64 319.92,232.28 320.04,232.93 320.16,233.58 320.28,234.22 320.41,234.87 320.53,235.51 320.65,236.16 320.77,236.80 320.90,237.44 321.02,238.08 321.14,238.72 321.26,239.36 321.38,239.99 321.51,240.63 321.63,241.27 321.75,241.90 321.87,242.53 321.99,243.16 322.12,243.79 322.24,244.42 322.36,245.05 322.48,245.67 322.61,246.30 322.73,246.92 322.85,247.54 322.97,248.16 323.09,248.78 323.22,249.39 323.34,250.01 323.46,250.62 323.58,251.23 323.70,251.84 323.83,252.45 323.95,253.05 324.07,253.65 324.19,254.26 324.31,254.85 324.44,255.45 324.56,256.05 324.68,256.64 324.80,257.23 324.93,257.82 325.05,258.40 325.17,258.99 325.29,259.57 325.41,260.15 325.54,260.72 325.66,261.30 325.78,261.87 325.90,262.44 326.02,263.00 326.15,263.57 326.27,264.13 326.39,264.69 326.51,265.24 326.63,265.79 326.76,266.34 326.88,266.89 327.00,267.43 327.12,267.98 327.25,268.51 327.37,269.05 327.49,269.58 327.61,270.11 327.73,270.63 327.86,271.16 327.98,271.68 328.10,272.60" fill="none" stroke="#b4b4b4" stroke-width="2.4" stroke-linecap="round" stroke-dasharray="0.01,6.05" stroke-dashoffset="-3"/>
<polyline points="258.30,272.60 258.60,272.60 258.91,272.60 259.21,272.60 259.51,272.60 259.82,272.60 260.12,272.60 260.42,272.60 260.73,272.60 261.03,272.60 261.33,272.60 261.64,272.60 261.94,272.60 262.24,272.60 262.55,272.60 262.85,272.60 263.15,272.60 263.46,272.60 263.76,272.60 264.06,272.60 264.37,272.60 264.67,272.60 264.97,272.60 265.28,272.60 265.58,272.60 265.88,272.60 266.19,272.60 266.49,272.60 266.79,272.60 267.10,272.60 267.40,272.60 267.70,272.60 268.01,272.60 268.31,272.60 268.61,272.60 268.92,272.60 269.22,272.60 269.52,272.60 269.83,272.60 270.13,272.60 270.43,272.60 270.74,272.60 271.04,272.60 271.34,272.60 271.65,272.60 271.95,272.60 272.25,272.60 272.56,272.60 272.86,272.60 273.16,272.60 273.47,272.60 273.77,272.60 274.07,272.60 274.38,272.60 274.68,272.60 274.98,272.60 275.29,272.60 275.59,272.60 275.89,272.60 276.20,272.60 276.50,272.60 276.80,272.60 277.11,272.60 277.41,272.60 277.71,272.60 278.02,272.60 278.32,272.60 278.62,272.60 278.93,272.60 279.23,272.60 279.53,272.60 279.84,272.60 280.14,272.60 280.44,272.60 280.75,272.60 281.05,272.60 281.35,272.60 281.66,272.60 281.96,272.60 282.26,272.59 282.57,272.57 282.87,272.53 283.17,272.47 283.48,272.38 283.78,272.28 284.08,272.15 284.39,272.00 284.69,271.82 284.99,271.61 285.30,271.39 285.60,271.13 285.90,270.86 286.21,270.56 286.51,270.23 286.81,269.88 287.12,269.52 287.42,269.13 287.72,268.72 288.03,268.29 288.33,267.84 288.63,267.37 288.94,266.89 289.24,266.40 289.54,265.89 289.85,265.36 290.15,264.83 290.45,264.28 290.76,263.73 291.06,263.16 291.36,262.59 291.67,262.02 291.97,261.44 292.27,260.85 292.58,260.27 292.88,259.68 293.18,259.10 293.49,258.51 293.79,257.93 294.09,257.35 294.40,256.78 294.70,256.21 295.00,255.65 295.31,255.10 295.61,254.56 295.91,254.02 296.22,253.50 296.52,252.99 296.82,252.50 297.13,252.02 297.43,251.55 297.73,251.10 298.04,250.67 298.34,250.25 298.64,249.85 298.95,249.47 299.25,249.11 299.55,248.77 299.86,248.45 300.16,248.16 300.46,247.88 300.77,247.63 301.07,247.40 301.37,247.19 301.68,247.01 301.98,246.85 302.28,246.71 302.59,246.60 302.89,246.51 303.19,246.45 303.50,246.41 303.80,246.40 304.10,246.41 304.41,246.45 304.71,246.51 305.01,246.60 305.32,246.71 305.62,246.85 305.92,247.01 306.23,247.19 306.53,247.40 306.83,247.63 307.14,247.88 307.44,248.16 307.74,248.45 308.05,248.77 308.35,249.11 308.65,249.47 308.96,249.85 309.26,250.25 309.56,250.67 309.87,251.10 310.17,251.55 310.47,252.02 310.78,252.50 311.08,252.99 311.38,253.50 311.69,254.02 311.99,254.56 312.29,255.10 312.60,255.65 312.90,256.21 313.20,256.78 313.51,257.35 313.81,257.93 314.11,258.51 314.42,259.10 314.72,259.68 315.02,260.27 315.33,260.85 315.63,261.44 315.93,262.02 316.24,262.59 316.54,263.16 316.84,263.73 317.15,264.28 317.45,264.83 317.75,265.36 318.06,265.89 318.36,266.40 318.66,266.89 318.97,267.37 319.27,267.84 319.57,268.29 319.88,268.72 320.18,269.13 320.48,269.52 320.79,269.88 321.09,270.23 321.39,270.56 321.70,270.86 322.00,271.13 322.30,271.39 322.61,271.61 322.91,271.82 323.21,272.00 323.52,272.15 323.82,272.28 324.12,272.38 324.43,272.47 324.73,272.53 325.03,272.57 325.34,272.59 325.64,272.60 325.94,272.60 326.25,272.60 326.55,272.60 326.85,272.60 327.16,272.60 327.46,272.60 327.76,272.60 328.07,272.60 328.37,272.60 328.67,272.60 328.98,272.60 329.28,272.60 329.58,272.60 329.89,272.60 330.19,272.60 330.49,272.60 330.80,272.60 331.10,272.60 331.40,272.60 331.71,272.60 332.01,272.60 332.31,272.60 332.62,272.60 332.92,272.60 333.22,272.60 333.53,272.60 333.83,272.60 334.13,272.60 334.44,272.60 334.74,272.60 335.04,272.60 335.35,272.60 335.65,272.60 335.95,272.60 336.26,272.60 336.56,272.60 336.86,272.60 337.17,272.60 337.47,272.60 337.77,272.60 338.08,272.60 338.38,272.60 338.68,272.60 338.99,272.60 339.29,272.60 339.59,272.60 339.90,272.60 340.20,272.60 340.50,272.60 340.81,272.60 341.11,272.60 341.41,272.60 341.72,272.60 342.02,272.60 342.32,272.60 342.63,272.60 342.93,272.60 343.23,272.60 343.54,272.60 343.84,272.60 344.14,272.60 344.45,272.60 344.75,272.60 345.05,272.60 345.36,272.60 345.66,272.60 345.96,272.60 346.27,272.60 346.57,272.60 346.87,272.60 347.18,272.60 347.48,272.60 347.78,272.60 348.09,272.60 348.39,272.60 348.69,272.60 349.00,272.60 349.30,272.60" fill="none" stroke="#1616c2" stroke-width="2.5" stroke-linejoin="round"/>
<g filter="url(#cmap)"><rect x="253.3" y="288.4" width="101.3" height="101.3" fill="rgb(26,26,26)"/>
<g transform="translate(303.8,338.8) rotate(59)"><g mask="url(#wb1m)"><rect x="-48" y="-10" width="96" height="20" fill="url(#wb1y)" opacity="0.66"/></g></g>
<g transform="translate(303.8,338.8) rotate(59)"><g mask="url(#wc1m)"><rect x="-30" y="-8" width="60" height="16" fill="url(#wc1y)" opacity="0.93"/></g></g>
</g>
<polyline points="368.00,54.98 368.30,56.32 368.60,57.65 368.90,58.97 369.21,60.28 369.51,61.58 369.81,62.87 370.11,64.16 370.41,65.44 370.71,66.70 371.01,67.96 371.31,69.21 371.62,70.45 371.92,71.68 372.22,72.90 372.52,74.12 372.82,75.32 373.12,76.51 373.42,77.70 373.73,78.88 374.03,80.05 374.33,81.21 374.63,82.36 374.93,83.50 375.23,84.63 375.53,85.75 375.83,86.87 376.14,87.97 376.44,89.07 376.74,90.16 377.04,91.24 377.34,92.31 377.64,93.37 377.94,94.42 378.25,95.46 378.55,96.50 378.85,97.52 379.15,98.54 379.45,99.55 379.75,100.54 380.05,101.53 380.35,102.51 380.66,103.49 380.96,104.45 381.26,105.40 381.56,106.35 381.86,107.28 382.16,108.21 382.46,109.13 382.77,110.03 383.07,110.93 383.37,111.83 383.67,112.71 383.97,113.58 384.27,114.44 384.57,115.30 384.87,116.15 385.18,116.98 385.48,117.81 385.78,118.63 386.08,119.44 386.38,120.24 386.68,121.03 386.98,121.82 387.29,122.59 387.59,123.36 387.89,124.11 388.19,124.86 388.49,125.60 388.79,126.33 389.09,127.05 389.39,127.76 389.70,128.46 390.00,129.16 390.30,129.84 390.60,130.52 390.90,131.19 391.20,131.84 391.50,132.49 391.81,133.13 392.11,133.77 392.41,134.39 392.71,135.00 393.01,135.60 393.31,136.20 393.61,136.79 393.91,137.36 394.22,137.93 394.52,138.49 394.82,139.04 395.12,139.58 395.42,140.12 395.72,140.64 396.02,141.16 396.33,141.66 396.63,142.16 396.93,142.65 397.23,143.13 397.53,143.60 397.83,144.06 398.13,144.51 398.43,144.95 398.74,145.39 399.04,145.81 399.34,146.23 399.64,146.64 399.94,147.03 400.24,147.42 400.54,147.80 400.85,148.17 401.15,148.54 401.45,148.89 401.75,149.24 402.05,149.57 402.35,149.90 402.65,150.22 402.95,150.53 403.26,150.83 403.56,151.12 403.86,151.40 404.16,151.67 404.46,151.94 404.76,152.19 405.06,152.44 405.37,152.67 405.67,152.90 405.97,153.12 406.27,153.33 406.57,153.53 406.87,153.73 407.17,153.91 407.47,154.08 407.78,154.25 408.08,154.41 408.38,154.55 408.68,154.69 408.98,154.82 409.28,154.94 409.58,155.06 409.89,155.16 410.19,155.25 410.49,155.34 410.79,155.41 411.09,155.48 411.39,155.54 411.69,155.59 411.99,155.63 412.30,155.66 412.60,155.68 412.90,155.70 413.20,155.70 413.50,155.70 413.80,155.68 414.10,155.66 414.41,155.63 414.71,155.59 415.01,155.54 415.31,155.48 415.61,155.41 415.91,155.34 416.21,155.25 416.51,155.16 416.82,155.06 417.12,154.94 417.42,154.82 417.72,154.69 418.02,154.55 418.32,154.41 418.62,154.25 418.93,154.08 419.23,153.91 419.53,153.73 419.83,153.53 420.13,153.33 420.43,153.12 420.73,152.90 421.03,152.67 421.34,152.44 421.64,152.19 421.94,151.94 422.24,151.67 422.54,151.40 422.84,151.12 423.14,150.83 423.45,150.53 423.75,150.22 424.05,149.90 424.35,149.57 424.65,149.24 424.95,148.89 425.25,148.54 425.55,148.17 425.86,147.80 426.16,147.42 426.46,147.03 426.76,146.64 427.06,146.23 427.36,145.81 427.66,145.39 427.97,144.95 428.27,144.51 428.57,144.06 428.87,143.60 429.17,143.13 429.47,142.65 429.77,142.16 430.07,141.66 430.38,141.16 430.68,140.64 430.98,140.12 431.28,139.58 431.58,139.04 431.88,138.49 432.18,137.93 432.49,137.36 432.79,136.79 433.09,136.20 433.39,135.60 433.69,135.00 433.99,134.39 434.29,133.77 434.59,133.13 434.90,132.49 435.20,131.84 435.50,131.19 435.80,130.52 436.10,129.84 436.40,129.16 436.70,128.46 437.01,127.76 437.31,127.05 437.61,126.33 437.91,125.60 438.21,124.86 438.51,124.11 438.81,123.36 439.11,122.59 439.42,121.82 439.72,121.03 440.02,120.24 440.32,119.44 440.62,118.63 440.92,117.81 441.22,116.98 441.53,116.15 441.83,115.30 442.13,114.44 442.43,113.58 442.73,112.71 443.03,111.83 443.33,110.93 443.63,110.03 443.94,109.13 444.24,108.21 444.54,107.28 444.84,106.35 445.14,105.40 445.44,104.45 445.74,103.49 446.05,102.51 446.35,101.53 446.65,100.54 446.95,99.55 447.25,98.54 447.55,97.52 447.85,96.50 448.15,95.46 448.46,94.42 448.76,93.37 449.06,92.31 449.36,91.24 449.66,90.16 449.96,89.07 450.26,87.97 450.57,86.87 450.87,85.75 451.17,84.63 451.47,83.50 451.77,82.36 452.07,81.21 452.37,80.05 452.67,78.88 452.98,77.70 453.28,76.51 453.58,75.32 453.88,74.12 454.18,72.90 454.48,71.68 454.78,70.45 455.09,69.21 455.39,67.96 455.69,66.70 455.99,65.44 456.29,64.16 456.59,62.87 456.89,61.58 457.19,60.28 457.50,58.97 457.80,57.65 458.10,56.32 458.40,54.98" fill="none" stroke="#bababa" stroke-width="1.7" stroke-dasharray="7.0,5.0" stroke-dashoffset="-0.76"/>
<polyline points="367.90,59.60 368.13,60.45 368.36,61.31 368.58,62.16 368.81,63.01 369.04,63.87 369.27,64.72 369.49,65.57 369.72,66.42 369.95,67.26 370.18,68.11 370.40,68.96 370.63,69.81 370.86,70.65 371.09,71.50 371.31,72.34 371.54,73.19 371.77,74.03 372.00,74.88 372.23,75.72 372.45,76.56 372.68,77.39 372.91,78.23 373.14,79.06 373.36,79.90 373.59,80.73 373.82,81.56 374.05,82.40 374.27,83.23 374.50,84.06 374.73,84.89 374.96,85.72 375.18,86.54 375.41,87.36 375.64,88.17 375.87,88.98 376.09,89.78 376.32,90.58 376.55,91.37 376.78,92.16 377.01,92.95 377.23,93.73 377.46,94.51 377.69,95.28 377.92,96.05 378.14,96.82 378.37,97.57 378.60,98.33 378.83,99.07 379.05,99.81 379.28,100.54 379.51,101.27 379.74,101.99 379.96,102.71 380.19,103.42 380.42,104.13 380.65,104.83 380.88,105.52 381.10,106.21 381.33,106.89 381.56,107.57 381.79,108.23 382.01,108.89 382.24,109.53 382.47,110.17 382.70,110.79 382.92,111.40 383.15,112.01 383.38,112.60 383.61,113.19 383.83,113.77 384.06,114.35 384.29,114.93 384.52,115.51 384.75,116.09 384.97,116.68 385.20,117.27 385.43,117.87 385.66,118.48 385.88,119.10 386.11,119.72 386.34,120.35 386.57,120.98 386.79,121.61 387.02,122.23 387.25,122.86 387.48,123.48 387.70,124.09 387.93,124.69 388.16,125.29 388.39,125.87 388.62,126.44 388.84,127.01 389.07,127.57 389.30,128.13 389.53,128.69 389.75,129.24 389.98,129.78 390.21,130.32 390.44,130.85 390.66,131.37 390.89,131.88 391.12,132.39 391.35,132.89 391.57,133.37 391.80,133.85 392.03,134.33 392.26,134.79 392.48,135.25 392.71,135.71 392.94,136.16 393.17,136.60 393.40,137.04 393.62,137.47 393.85,137.90 394.08,138.32 394.31,138.74 394.53,139.16 394.76,139.58 394.99,140.00 395.22,140.42 395.44,140.83 395.67,141.25 395.90,141.65 396.13,142.05 396.35,142.44 396.58,142.82 396.81,143.19 397.04,143.54 397.27,143.87 397.49,144.19 397.72,144.50 397.95,144.82 398.18,145.15 398.40,145.47 398.63,145.78 398.86,146.07 399.09,146.33 399.31,146.56 399.54,146.76 399.77,146.90 400.00,147.00 400.22,147.06 400.45,147.12 400.68,147.16 400.91,147.19 401.14,147.20 401.36,146.95 401.59,146.43 401.82,145.76 402.05,145.04 402.27,144.40 402.50,143.75 402.73,143.06 402.96,142.33 403.18,141.59 403.41,140.81 403.64,139.97 403.87,139.09 404.09,138.23 404.32,137.44 404.55,136.76 404.78,136.11 405.01,135.51 405.23,134.94 405.46,134.41 405.69,133.92 405.92,133.47 406.14,133.04 406.37,132.64 406.60,132.26 406.83,131.91 407.05,131.59 407.28,131.30 407.51,131.02 407.74,130.76 407.96,130.51 408.19,130.28 408.42,130.08 408.65,129.90 408.87,129.75 409.10,129.62 409.33,129.49 409.56,129.37 409.79,129.26 410.01,129.16 410.24,129.06 410.47,128.98 410.70,128.92 410.92,128.86 411.15,128.82 411.38,128.78 411.61,128.75 411.83,128.71 412.06,128.68 412.29,128.65 412.52,128.63 412.74,128.61 412.97,128.60 413.20,128.60 413.43,128.60 413.66,128.61 413.88,128.63 414.11,128.65 414.34,128.68 414.57,128.71 414.79,128.75 415.02,128.78 415.25,128.82 415.48,128.86 415.70,128.92 415.93,128.98 416.16,129.06 416.39,129.16 416.61,129.26 416.84,129.37 417.07,129.49 417.30,129.62 417.53,129.75 417.75,129.90 417.98,130.08 418.21,130.28 418.44,130.51 418.66,130.76 418.89,131.02 419.12,131.30 419.35,131.59 419.57,131.91 419.80,132.26 420.03,132.64 420.26,133.04 420.48,133.47 420.71,133.92 420.94,134.41 421.17,134.94 421.39,135.51 421.62,136.11 421.85,136.76 422.08,137.44 422.31,138.23 422.53,139.09 422.76,139.97 422.99,140.81 423.22,141.59 423.44,142.33 423.67,143.06 423.90,143.75 424.13,144.40 424.35,145.04 424.58,145.76 424.81,146.43 425.04,146.95 425.26,147.20 425.49,147.19 425.72,147.16 425.95,147.12 426.18,147.06 426.40,147.00 426.63,146.90 426.86,146.76 427.09,146.56 427.31,146.33 427.54,146.07 427.77,145.78 428.00,145.47 428.22,145.15 428.45,144.82 428.68,144.50 428.91,144.19 429.13,143.87 429.36,143.54 429.59,143.19 429.82,142.82 430.05,142.44 430.27,142.05 430.50,141.65 430.73,141.25 430.96,140.83 431.18,140.42 431.41,140.00 431.64,139.58 431.87,139.16 432.09,138.74 432.32,138.32 432.55,137.90 432.78,137.47 433.00,137.04 433.23,136.60 433.46,136.16 433.69,135.71 433.92,135.25 434.14,134.79 434.37,134.33 434.60,133.85 434.83,133.37 435.05,132.89 435.28,132.39 435.51,131.88 435.74,131.37 435.96,130.85 436.19,130.32 436.42,129.78 436.65,129.24 436.87,128.69 437.10,128.13 437.33,127.57 437.56,127.01 437.78,126.44 438.01,125.87 438.24,125.29 438.47,124.69 438.70,124.09 438.92,123.48 439.15,122.86 439.38,122.23 439.61,121.61 439.83,120.98 440.06,120.35 440.29,119.72 440.52,119.10 440.74,118.48 440.97,117.87 441.20,117.27 441.43,116.68 441.65,116.09 441.88,115.51 442.11,114.93 442.34,114.35 442.57,113.77 442.79,113.19 443.02,112.60 443.25,112.01 443.48,111.40 443.70,110.79 443.93,110.17 444.16,109.53 444.39,108.89 444.61,108.23 444.84,107.57 445.07,106.89 445.30,106.21 445.52,105.52 445.75,104.83 445.98,104.13 446.21,103.42 446.44,102.71 446.66,101.99 446.89,101.27 447.12,100.54 447.35,99.81 447.57,99.07 447.80,98.33 448.03,97.57 448.26,96.82 448.48,96.05 448.71,95.28 448.94,94.51 449.17,93.73 449.39,92.95 449.62,92.16 449.85,91.37 450.08,90.58 450.31,89.78 450.53,88.98 450.76,88.17 450.99,87.36 451.22,86.54 451.44,85.72 451.67,84.89 451.90,84.06 452.13,83.23 452.35,82.40 452.58,81.56 452.81,80.73 453.04,79.90 453.26,79.06 453.49,78.23 453.72,77.39 453.95,76.56 454.17,75.72 454.40,74.88 454.63,74.03 454.86,73.19 455.09,72.34 455.31,71.50 455.54,70.65 455.77,69.81 456.00,68.96 456.22,68.11 456.45,67.26 456.68,66.42 456.91,65.57 457.13,64.72 457.36,63.87 457.59,63.01 457.82,62.16 458.04,61.31 458.27,60.45 458.50,59.60" fill="none" stroke="#0f6816" stroke-width="2.5" stroke-linejoin="round"/>
<polyline points="413.20,172.37 413.08,172.38 412.96,172.40 412.83,172.43 412.71,172.47 412.59,172.52 412.47,172.58 412.35,172.65 412.22,172.73 412.10,172.82 411.98,172.93 411.86,173.04 411.73,173.16 411.61,173.29 411.49,173.43 411.37,173.58 411.25,173.74 411.12,173.91 411.00,174.09 410.88,174.27 410.76,174.47 410.64,174.67 410.51,174.89 410.39,175.11 410.27,175.34 410.15,175.58 410.03,175.83 409.90,176.09 409.78,176.35 409.66,176.63 409.54,176.91 409.41,177.20 409.29,177.49 409.17,177.80 409.05,178.11 408.93,178.43 408.80,178.76 408.68,179.10 408.56,179.44 408.44,179.79 408.32,180.15 408.19,180.52 408.07,180.89 407.95,181.27 407.83,181.66 407.71,182.05 407.58,182.45 407.46,182.86 407.34,183.27 407.22,183.69 407.09,184.11 406.97,184.55 406.85,184.98 406.73,185.43 406.61,185.88 406.48,186.34 406.36,186.80 406.24,187.27 406.12,187.74 406.00,188.22 405.87,188.70 405.75,189.19 405.63,189.69 405.51,190.19 405.38,190.70 405.26,191.21 405.14,191.72 405.02,192.24 404.90,192.77 404.77,193.30 404.65,193.83 404.53,194.37 404.41,194.92 404.29,195.47 404.16,196.02 404.04,196.57 403.92,197.14 403.80,197.70 403.68,198.27 403.55,198.84 403.43,199.42 403.31,200.00 403.19,200.58 403.06,201.17 402.94,201.76 402.82,202.35 402.70,202.95 402.58,203.54 402.45,204.15 402.33,204.75 402.21,205.36 402.09,205.97 401.97,206.59 401.84,207.20 401.72,207.82 401.60,208.44 401.48,209.06 401.36,209.69 401.23,210.32 401.11,210.95 400.99,211.58 400.87,212.21 400.74,212.85 400.62,213.48 400.50,214.12 400.38,214.76 400.26,215.40 400.13,216.05 400.01,216.69 399.89,217.34 399.77,217.98 399.65,218.63 399.52,219.28 399.40,219.93 399.28,220.57 399.16,221.22 399.04,221.88 398.91,222.53 398.79,223.18 398.67,223.83 398.55,224.48 398.42,225.13 398.30,225.78 398.18,226.44 398.06,227.09 397.94,227.74 397.81,228.39 397.69,229.04 397.57,229.69 397.45,230.34 397.33,230.99 397.20,231.64 397.08,232.28 396.96,232.93 396.84,233.58 396.72,234.22 396.59,234.87 396.47,235.51 396.35,236.16 396.23,236.80 396.10,237.44 395.98,238.08 395.86,238.72 395.74,239.36 395.62,239.99 395.49,240.63 395.37,241.27 395.25,241.90 395.13,242.53 395.01,243.16 394.88,243.79 394.76,244.42 394.64,245.05 394.52,245.67 394.39,246.30 394.27,246.92 394.15,247.54 394.03,248.16 393.91,248.78 393.78,249.39 393.66,250.01 393.54,250.62 393.42,251.23 393.30,251.84 393.17,252.45 393.05,253.05 392.93,253.65 392.81,254.26 392.69,254.85 392.56,255.45 392.44,256.05 392.32,256.64 392.20,257.23 392.07,257.82 391.95,258.40 391.83,258.99 391.71,259.57 391.59,260.15 391.46,260.72 391.34,261.30 391.22,261.87 391.10,262.44 390.98,263.00 390.85,263.57 390.73,264.13 390.61,264.69 390.49,265.24 390.37,265.79 390.24,266.34 390.12,266.89 390.00,267.43 389.88,267.98 389.75,268.51 389.63,269.05 389.51,269.58 389.39,270.11 389.27,270.63 389.14,271.16 389.02,271.68 388.90,272.60" fill="none" stroke="#b4b4b4" stroke-width="2.4" stroke-linecap="round" stroke-dasharray="0.01,6.05" stroke-dashoffset="-3"/>
<polyline points="413.20,172.37 413.32,172.38 413.44,172.40 413.57,172.43 413.69,172.47 413.81,172.52 413.93,172.58 414.05,172.65 414.18,172.73 414.30,172.82 414.42,172.93 414.54,173.04 414.67,173.16 414.79,173.29 414.91,173.43 415.03,173.58 415.15,173.74 415.28,173.91 415.40,174.09 415.52,174.27 415.64,174.47 415.76,174.67 415.89,174.89 416.01,175.11 416.13,175.34 416.25,175.58 416.37,175.83 416.50,176.09 416.62,176.35 416.74,176.63 416.86,176.91 416.99,177.20 417.11,177.49 417.23,177.80 417.35,178.11 417.47,178.43 417.60,178.76 417.72,179.10 417.84,179.44 417.96,179.79 418.08,180.15 418.21,180.52 418.33,180.89 418.45,181.27 418.57,181.66 418.69,182.05 418.82,182.45 418.94,182.86 419.06,183.27 419.18,183.69 419.31,184.11 419.43,184.55 419.55,184.98 419.67,185.43 419.79,185.88 419.92,186.34 420.04,186.80 420.16,187.27 420.28,187.74 420.40,188.22 420.53,188.70 420.65,189.19 420.77,189.69 420.89,190.19 421.02,190.70 421.14,191.21 421.26,191.72 421.38,192.24 421.50,192.77 421.63,193.30 421.75,193.83 421.87,194.37 421.99,194.92 422.11,195.47 422.24,196.02 422.36,196.57 422.48,197.14 422.60,197.70 422.72,198.27 422.85,198.84 422.97,199.42 423.09,200.00 423.21,200.58 423.34,201.17 423.46,201.76 423.58,202.35 423.70,202.95 423.82,203.54 423.95,204.15 424.07,204.75 424.19,205.36 424.31,205.97 424.43,206.59 424.56,207.20 424.68,207.82 424.80,208.44 424.92,209.06 425.04,209.69 425.17,210.32 425.29,210.95 425.41,211.58 425.53,212.21 425.66,212.85 425.78,213.48 425.90,214.12 426.02,214.76 426.14,215.40 426.27,216.05 426.39,216.69 426.51,217.34 426.63,217.98 426.75,218.63 426.88,219.28 427.00,219.93 427.12,220.57 427.24,221.22 427.36,221.88 427.49,222.53 427.61,223.18 427.73,223.83 427.85,224.48 427.98,225.13 428.10,225.78 428.22,226.44 428.34,227.09 428.46,227.74 428.59,228.39 428.71,229.04 428.83,229.69 428.95,230.34 429.07,230.99 429.20,231.64 429.32,232.28 429.44,232.93 429.56,233.58 429.68,234.22 429.81,234.87 429.93,235.51 430.05,236.16 430.17,236.80 430.30,237.44 430.42,238.08 430.54,238.72 430.66,239.36 430.78,239.99 430.91,240.63 431.03,241.27 431.15,241.90 431.27,242.53 431.39,243.16 431.52,243.79 431.64,244.42 431.76,245.05 431.88,245.67 432.01,246.30 432.13,246.92 432.25,247.54 432.37,248.16 432.49,248.78 432.62,249.39 432.74,250.01 432.86,250.62 432.98,251.23 433.10,251.84 433.23,252.45 433.35,253.05 433.47,253.65 433.59,254.26 433.71,254.85 433.84,255.45 433.96,256.05 434.08,256.64 434.20,257.23 434.33,257.82 434.45,258.40 434.57,258.99 434.69,259.57 434.81,260.15 434.94,260.72 435.06,261.30 435.18,261.87 435.30,262.44 435.42,263.00 435.55,263.57 435.67,264.13 435.79,264.69 435.91,265.24 436.03,265.79 436.16,266.34 436.28,266.89 436.40,267.43 436.52,267.98 436.65,268.51 436.77,269.05 436.89,269.58 437.01,270.11 437.13,270.63 437.26,271.16 437.38,271.68 437.50,272.60" fill="none" stroke="#b4b4b4" stroke-width="2.4" stroke-linecap="round" stroke-dasharray="0.01,6.05" stroke-dashoffset="-3"/>
<polyline points="367.70,272.60 398.90,272.60 402.60,271.40 404.80,260.00 406.90,249.60 408.80,240.40 411.00,232.30 412.00,230.90 414.60,230.90 416.40,235.50 418.60,241.60 421.00,254.50 423.50,268.00 425.30,271.60 427.70,272.60 458.70,272.60" fill="none" stroke="#0f6816" stroke-width="2.5" stroke-linejoin="round"/>
<g filter="url(#cmap)"><rect x="362.7" y="288.4" width="101.3" height="101.3" fill="rgb(26,26,26)"/>
<line x1="403.7" y1="330.3" x2="399.7" y2="302.3" stroke="url(#wgm1m1)" stroke-width="4.5" filter="url(#blur2)"/>
<line x1="403.7" y1="350.3" x2="399.7" y2="378.3" stroke="url(#wgm11)" stroke-width="4.5" filter="url(#blur2)"/>
<line x1="422.7" y1="330.3" x2="426.7" y2="302.3" stroke="url(#wg1m1)" stroke-width="4.5" filter="url(#blur2)"/>
<line x1="422.7" y1="350.3" x2="426.7" y2="378.3" stroke="url(#wg11)" stroke-width="4.5" filter="url(#blur2)"/>
<ellipse cx="413.2" cy="316.3" rx="5.5" ry="8" fill="#000" opacity="0.7" filter="url(#blur2)"/>
<ellipse cx="413.2" cy="364.3" rx="5.5" ry="8" fill="#000" opacity="0.7" filter="url(#blur2)"/>
<g transform="translate(413.2,340.3) rotate(0)"><g mask="url(#wb2m)"><rect x="-22" y="-30" width="44" height="60" fill="url(#wb2y)" opacity="0.62"/></g></g>
<g transform="translate(413.2,340.3) rotate(0)"><g mask="url(#wc2m)"><rect x="-16" y="-20" width="32" height="40" fill="url(#wc2y)" opacity="0.93"/></g></g>
</g>
<polyline points="477.30,54.98 477.60,56.32 477.90,57.65 478.20,58.97 478.51,60.28 478.81,61.58 479.11,62.87 479.41,64.16 479.71,65.44 480.01,66.70 480.31,67.96 480.61,69.21 480.92,70.45 481.22,71.68 481.52,72.90 481.82,74.12 482.12,75.32 482.42,76.51 482.72,77.70 483.03,78.88 483.33,80.05 483.63,81.21 483.93,82.36 484.23,83.50 484.53,84.63 484.83,85.75 485.13,86.87 485.44,87.97 485.74,89.07 486.04,90.16 486.34,91.24 486.64,92.31 486.94,93.37 487.24,94.42 487.55,95.46 487.85,96.50 488.15,97.52 488.45,98.54 488.75,99.55 489.05,100.54 489.35,101.53 489.65,102.51 489.96,103.49 490.26,104.45 490.56,105.40 490.86,106.35 491.16,107.28 491.46,108.21 491.76,109.13 492.07,110.03 492.37,110.93 492.67,111.83 492.97,112.71 493.27,113.58 493.57,114.44 493.87,115.30 494.17,116.15 494.48,116.98 494.78,117.81 495.08,118.63 495.38,119.44 495.68,120.24 495.98,121.03 496.28,121.82 496.59,122.59 496.89,123.36 497.19,124.11 497.49,124.86 497.79,125.60 498.09,126.33 498.39,127.05 498.69,127.76 499.00,128.46 499.30,129.16 499.60,129.84 499.90,130.52 500.20,131.19 500.50,131.84 500.80,132.49 501.11,133.13 501.41,133.77 501.71,134.39 502.01,135.00 502.31,135.60 502.61,136.20 502.91,136.79 503.21,137.36 503.52,137.93 503.82,138.49 504.12,139.04 504.42,139.58 504.72,140.12 505.02,140.64 505.32,141.16 505.63,141.66 505.93,142.16 506.23,142.65 506.53,143.13 506.83,143.60 507.13,144.06 507.43,144.51 507.73,144.95 508.04,145.39 508.34,145.81 508.64,146.23 508.94,146.64 509.24,147.03 509.54,147.42 509.84,147.80 510.15,148.17 510.45,148.54 510.75,148.89 511.05,149.24 511.35,149.57 511.65,149.90 511.95,150.22 512.25,150.53 512.56,150.83 512.86,151.12 513.16,151.40 513.46,151.67 513.76,151.94 514.06,152.19 514.36,152.44 514.67,152.67 514.97,152.90 515.27,153.12 515.57,153.33 515.87,153.53 516.17,153.73 516.47,153.91 516.77,154.08 517.08,154.25 517.38,154.41 517.68,154.55 517.98,154.69 518.28,154.82 518.58,154.94 518.88,155.06 519.19,155.16 519.49,155.25 519.79,155.34 520.09,155.41 520.39,155.48 520.69,155.54 520.99,155.59 521.29,155.63 521.60,155.66 521.90,155.68 522.20,155.70 522.50,155.70 522.80,155.70 523.10,155.68 523.40,155.66 523.71,155.63 524.01,155.59 524.31,155.54 524.61,155.48 524.91,155.41 525.21,155.34 525.51,155.25 525.81,155.16 526.12,155.06 526.42,154.94 526.72,154.82 527.02,154.69 527.32,154.55 527.62,154.41 527.92,154.25 528.23,154.08 528.53,153.91 528.83,153.73 529.13,153.53 529.43,153.33 529.73,153.12 530.03,152.90 530.33,152.67 530.64,152.44 530.94,152.19 531.24,151.94 531.54,151.67 531.84,151.40 532.14,151.12 532.44,150.83 532.75,150.53 533.05,150.22 533.35,149.90 533.65,149.57 533.95,149.24 534.25,148.89 534.55,148.54 534.85,148.17 535.16,147.80 535.46,147.42 535.76,147.03 536.06,146.64 536.36,146.23 536.66,145.81 536.96,145.39 537.27,144.95 537.57,144.51 537.87,144.06 538.17,143.60 538.47,143.13 538.77,142.65 539.07,142.16 539.37,141.66 539.68,141.16 539.98,140.64 540.28,140.12 540.58,139.58 540.88,139.04 541.18,138.49 541.48,137.93 541.79,137.36 542.09,136.79 542.39,136.20 542.69,135.60 542.99,135.00 543.29,134.39 543.59,133.77 543.89,133.13 544.20,132.49 544.50,131.84 544.80,131.19 545.10,130.52 545.40,129.84 545.70,129.16 546.00,128.46 546.31,127.76 546.61,127.05 546.91,126.33 547.21,125.60 547.51,124.86 547.81,124.11 548.11,123.36 548.41,122.59 548.72,121.82 549.02,121.03 549.32,120.24 549.62,119.44 549.92,118.63 550.22,117.81 550.52,116.98 550.83,116.15 551.13,115.30 551.43,114.44 551.73,113.58 552.03,112.71 552.33,111.83 552.63,110.93 552.93,110.03 553.24,109.13 553.54,108.21 553.84,107.28 554.14,106.35 554.44,105.40 554.74,104.45 555.04,103.49 555.35,102.51 555.65,101.53 555.95,100.54 556.25,99.55 556.55,98.54 556.85,97.52 557.15,96.50 557.45,95.46 557.76,94.42 558.06,93.37 558.36,92.31 558.66,91.24 558.96,90.16 559.26,89.07 559.56,87.97 559.87,86.87 560.17,85.75 560.47,84.63 560.77,83.50 561.07,82.36 561.37,81.21 561.67,80.05 561.97,78.88 562.28,77.70 562.58,76.51 562.88,75.32 563.18,74.12 563.48,72.90 563.78,71.68 564.08,70.45 564.39,69.21 564.69,67.96 564.99,66.70 565.29,65.44 565.59,64.16 565.89,62.87 566.19,61.58 566.49,60.28 566.80,58.97 567.10,57.65 567.40,56.32 567.70,54.98" fill="none" stroke="#bababa" stroke-width="1.7" stroke-dasharray="7.0,5.0" stroke-dashoffset="-0.76"/>
<polyline points="477.10,59.65 477.33,60.47 477.56,61.28 477.78,62.10 478.01,62.91 478.24,63.72 478.47,64.52 478.70,65.33 478.93,66.13 479.15,66.94 479.38,67.74 479.61,68.54 479.84,69.33 480.07,70.13 480.29,70.92 480.52,71.71 480.75,72.50 480.98,73.29 481.21,74.08 481.43,74.86 481.66,75.64 481.89,76.42 482.12,77.20 482.35,77.97 482.58,78.74 482.80,79.51 483.03,80.28 483.26,81.05 483.49,81.81 483.72,82.57 483.94,83.33 484.17,84.09 484.40,84.84 484.63,85.60 484.86,86.35 485.08,87.09 485.31,87.84 485.54,88.58 485.77,89.32 486.00,90.05 486.23,90.79 486.45,91.52 486.68,92.24 486.91,92.97 487.14,93.69 487.37,94.41 487.59,95.13 487.82,95.84 488.05,96.55 488.28,97.26 488.51,97.97 488.74,98.67 488.96,99.37 489.19,100.06 489.42,100.76 489.65,101.44 489.88,102.13 490.10,102.81 490.33,103.49 490.56,104.17 490.79,104.84 491.02,105.51 491.24,106.18 491.47,106.84 491.70,107.50 491.93,108.16 492.16,108.81 492.39,109.46 492.61,110.10 492.84,110.75 493.07,111.38 493.30,112.02 493.53,112.65 493.75,113.28 493.98,113.90 494.21,114.52 494.44,115.14 494.67,115.75 494.89,116.36 495.12,116.96 495.35,117.56 495.58,118.16 495.81,118.75 496.04,119.34 496.26,119.92 496.49,120.50 496.72,121.07 496.95,121.64 497.18,122.21 497.40,122.77 497.63,123.33 497.86,123.88 498.09,124.42 498.32,124.96 498.55,125.50 498.77,126.03 499.00,126.55 499.23,127.07 499.46,127.58 499.69,128.09 499.91,128.59 500.14,129.08 500.37,129.57 500.60,130.05 500.83,130.53 501.05,130.99 501.28,131.45 501.51,131.91 501.74,132.36 501.97,132.80 502.20,133.23 502.42,133.66 502.65,134.08 502.88,134.49 503.11,134.89 503.34,135.29 503.56,135.67 503.79,136.05 504.02,136.42 504.25,136.79 504.48,137.14 504.71,137.49 504.93,137.83 505.16,138.16 505.39,138.48 505.62,138.80 505.85,139.10 506.07,139.40 506.30,139.69 506.53,139.97 506.76,140.25 506.99,140.52 507.21,140.78 507.44,141.03 507.67,141.28 507.90,141.52 508.13,141.75 508.36,141.98 508.58,142.20 508.81,142.41 509.04,142.62 509.27,142.82 509.50,143.01 509.72,143.20 509.95,143.38 510.18,143.55 510.41,143.72 510.64,143.88 510.86,144.04 511.09,144.19 511.32,144.34 511.55,144.48 511.78,144.62 512.01,144.75 512.23,144.87 512.46,144.99 512.69,145.10 512.92,145.21 513.15,145.32 513.37,145.42 513.60,145.52 513.83,145.61 514.06,145.69 514.29,145.78 514.52,145.85 514.74,145.93 514.97,146.00 515.20,146.06 515.43,146.13 515.66,146.19 515.88,146.24 516.11,146.29 516.34,146.34 516.57,146.39 516.80,146.43 517.02,146.46 517.25,146.50 517.48,146.53 517.71,146.56 517.94,146.59 518.17,146.61 518.39,146.63 518.62,146.65 518.85,146.67 519.08,146.68 519.31,146.70 519.53,146.71 519.76,146.71 519.99,146.72 520.22,146.73 520.45,146.73 520.67,146.73 520.90,146.73 521.13,146.73 521.36,146.72 521.59,146.72 521.82,146.71 522.04,146.71 522.27,146.70 522.50,146.69 522.73,146.70 522.96,146.71 523.18,146.71 523.41,146.72 523.64,146.72 523.87,146.73 524.10,146.73 524.33,146.73 524.55,146.73 524.78,146.73 525.01,146.72 525.24,146.71 525.47,146.71 525.69,146.70 525.92,146.68 526.15,146.67 526.38,146.65 526.61,146.63 526.83,146.61 527.06,146.59 527.29,146.56 527.52,146.53 527.75,146.50 527.98,146.46 528.20,146.43 528.43,146.39 528.66,146.34 528.89,146.29 529.12,146.24 529.34,146.19 529.57,146.13 529.80,146.06 530.03,146.00 530.26,145.93 530.48,145.85 530.71,145.78 530.94,145.69 531.17,145.61 531.40,145.52 531.63,145.42 531.85,145.32 532.08,145.21 532.31,145.10 532.54,144.99 532.77,144.87 532.99,144.75 533.22,144.62 533.45,144.48 533.68,144.34 533.91,144.19 534.14,144.04 534.36,143.88 534.59,143.72 534.82,143.55 535.05,143.38 535.28,143.20 535.50,143.01 535.73,142.82 535.96,142.62 536.19,142.41 536.42,142.20 536.64,141.98 536.87,141.75 537.10,141.52 537.33,141.28 537.56,141.03 537.79,140.78 538.01,140.52 538.24,140.25 538.47,139.97 538.70,139.69 538.93,139.40 539.15,139.10 539.38,138.80 539.61,138.48 539.84,138.16 540.07,137.83 540.29,137.49 540.52,137.14 540.75,136.79 540.98,136.42 541.21,136.05 541.44,135.67 541.66,135.29 541.89,134.89 542.12,134.49 542.35,134.08 542.58,133.66 542.80,133.23 543.03,132.80 543.26,132.36 543.49,131.91 543.72,131.45 543.95,130.99 544.17,130.53 544.40,130.05 544.63,129.57 544.86,129.08 545.09,128.59 545.31,128.09 545.54,127.58 545.77,127.07 546.00,126.55 546.23,126.03 546.45,125.50 546.68,124.96 546.91,124.42 547.14,123.88 547.37,123.33 547.60,122.77 547.82,122.21 548.05,121.64 548.28,121.07 548.51,120.50 548.74,119.92 548.96,119.34 549.19,118.75 549.42,118.16 549.65,117.56 549.88,116.96 550.11,116.36 550.33,115.75 550.56,115.14 550.79,114.52 551.02,113.90 551.25,113.28 551.47,112.65 551.70,112.02 551.93,111.38 552.16,110.75 552.39,110.10 552.61,109.46 552.84,108.81 553.07,108.16 553.30,107.50 553.53,106.84 553.76,106.18 553.98,105.51 554.21,104.84 554.44,104.17 554.67,103.49 554.90,102.81 555.12,102.13 555.35,101.44 555.58,100.76 555.81,100.06 556.04,99.37 556.26,98.67 556.49,97.97 556.72,97.26 556.95,96.55 557.18,95.84 557.41,95.13 557.63,94.41 557.86,93.69 558.09,92.97 558.32,92.24 558.55,91.52 558.77,90.79 559.00,90.05 559.23,89.32 559.46,88.58 559.69,87.84 559.92,87.09 560.14,86.35 560.37,85.60 560.60,84.84 560.83,84.09 561.06,83.33 561.28,82.57 561.51,81.81 561.74,81.05 561.97,80.28 562.20,79.51 562.42,78.74 562.65,77.97 562.88,77.20 563.11,76.42 563.34,75.64 563.57,74.86 563.79,74.08 564.02,73.29 564.25,72.50 564.48,71.71 564.71,70.92 564.93,70.13 565.16,69.33 565.39,68.54 565.62,67.74 565.85,66.94 566.07,66.13 566.30,65.33 566.53,64.52 566.76,63.72 566.99,62.91 567.22,62.10 567.44,61.28 567.67,60.47 567.90,59.65" fill="none" stroke="#6c0f6e" stroke-width="2.5" stroke-linejoin="round"/>
<polyline points="522.50,172.37 522.38,172.38 522.26,172.40 522.13,172.43 522.01,172.47 521.89,172.52 521.77,172.58 521.65,172.65 521.52,172.73 521.40,172.82 521.28,172.93 521.16,173.04 521.03,173.16 520.91,173.29 520.79,173.43 520.67,173.58 520.55,173.74 520.42,173.91 520.30,174.09 520.18,174.27 520.06,174.47 519.94,174.67 519.81,174.89 519.69,175.11 519.57,175.34 519.45,175.58 519.33,175.83 519.20,176.09 519.08,176.35 518.96,176.63 518.84,176.91 518.71,177.20 518.59,177.49 518.47,177.80 518.35,178.11 518.23,178.43 518.10,178.76 517.98,179.10 517.86,179.44 517.74,179.79 517.62,180.15 517.49,180.52 517.37,180.89 517.25,181.27 517.13,181.66 517.01,182.05 516.88,182.45 516.76,182.86 516.64,183.27 516.52,183.69 516.39,184.11 516.27,184.55 516.15,184.98 516.03,185.43 515.91,185.88 515.78,186.34 515.66,186.80 515.54,187.27 515.42,187.74 515.30,188.22 515.17,188.70 515.05,189.19 514.93,189.69 514.81,190.19 514.68,190.70 514.56,191.21 514.44,191.72 514.32,192.24 514.20,192.77 514.07,193.30 513.95,193.83 513.83,194.37 513.71,194.92 513.59,195.47 513.46,196.02 513.34,196.57 513.22,197.14 513.10,197.70 512.98,198.27 512.85,198.84 512.73,199.42 512.61,200.00 512.49,200.58 512.36,201.17 512.24,201.76 512.12,202.35 512.00,202.95 511.88,203.54 511.75,204.15 511.63,204.75 511.51,205.36 511.39,205.97 511.27,206.59 511.14,207.20 511.02,207.82 510.90,208.44 510.78,209.06 510.66,209.69 510.53,210.32 510.41,210.95 510.29,211.58 510.17,212.21 510.04,212.85 509.92,213.48 509.80,214.12 509.68,214.76 509.56,215.40 509.43,216.05 509.31,216.69 509.19,217.34 509.07,217.98 508.95,218.63 508.82,219.28 508.70,219.93 508.58,220.57 508.46,221.22 508.34,221.88 508.21,222.53 508.09,223.18 507.97,223.83 507.85,224.48 507.72,225.13 507.60,225.78 507.48,226.44 507.36,227.09 507.24,227.74 507.11,228.39 506.99,229.04 506.87,229.69 506.75,230.34 506.63,230.99 506.50,231.64 506.38,232.28 506.26,232.93 506.14,233.58 506.02,234.22 505.89,234.87 505.77,235.51 505.65,236.16 505.53,236.80 505.40,237.44 505.28,238.08 505.16,238.72 505.04,239.36 504.92,239.99 504.79,240.63 504.67,241.27 504.55,241.90 504.43,242.53 504.31,243.16 504.18,243.79 504.06,244.42 503.94,245.05 503.82,245.67 503.69,246.30 503.57,246.92 503.45,247.54 503.33,248.16 503.21,248.78 503.08,249.39 502.96,250.01 502.84,250.62 502.72,251.23 502.60,251.84 502.47,252.45 502.35,253.05 502.23,253.65 502.11,254.26 501.99,254.85 501.86,255.45 501.74,256.05 501.62,256.64 501.50,257.23 501.37,257.82 501.25,258.40 501.13,258.99 501.01,259.57 500.89,260.15 500.76,260.72 500.64,261.30 500.52,261.87 500.40,262.44 500.28,263.00 500.15,263.57 500.03,264.13 499.91,264.69 499.79,265.24 499.67,265.79 499.54,266.34 499.42,266.89 499.30,267.43 499.18,267.98 499.05,268.51 498.93,269.05 498.81,269.58 498.69,270.11 498.57,270.63 498.44,271.16 498.32,271.68 498.20,272.60" fill="none" stroke="#b4b4b4" stroke-width="2.4" stroke-linecap="round" stroke-dasharray="0.01,6.05" stroke-dashoffset="-3"/>
<polyline points="522.50,172.37 522.62,172.38 522.74,172.40 522.87,172.43 522.99,172.47 523.11,172.52 523.23,172.58 523.35,172.65 523.48,172.73 523.60,172.82 523.72,172.93 523.84,173.04 523.97,173.16 524.09,173.29 524.21,173.43 524.33,173.58 524.45,173.74 524.58,173.91 524.70,174.09 524.82,174.27 524.94,174.47 525.06,174.67 525.19,174.89 525.31,175.11 525.43,175.34 525.55,175.58 525.67,175.83 525.80,176.09 525.92,176.35 526.04,176.63 526.16,176.91 526.29,177.20 526.41,177.49 526.53,177.80 526.65,178.11 526.77,178.43 526.90,178.76 527.02,179.10 527.14,179.44 527.26,179.79 527.38,180.15 527.51,180.52 527.63,180.89 527.75,181.27 527.87,181.66 527.99,182.05 528.12,182.45 528.24,182.86 528.36,183.27 528.48,183.69 528.61,184.11 528.73,184.55 528.85,184.98 528.97,185.43 529.09,185.88 529.22,186.34 529.34,186.80 529.46,187.27 529.58,187.74 529.70,188.22 529.83,188.70 529.95,189.19 530.07,189.69 530.19,190.19 530.32,190.70 530.44,191.21 530.56,191.72 530.68,192.24 530.80,192.77 530.93,193.30 531.05,193.83 531.17,194.37 531.29,194.92 531.41,195.47 531.54,196.02 531.66,196.57 531.78,197.14 531.90,197.70 532.02,198.27 532.15,198.84 532.27,199.42 532.39,200.00 532.51,200.58 532.64,201.17 532.76,201.76 532.88,202.35 533.00,202.95 533.12,203.54 533.25,204.15 533.37,204.75 533.49,205.36 533.61,205.97 533.73,206.59 533.86,207.20 533.98,207.82 534.10,208.44 534.22,209.06 534.34,209.69 534.47,210.32 534.59,210.95 534.71,211.58 534.83,212.21 534.96,212.85 535.08,213.48 535.20,214.12 535.32,214.76 535.44,215.40 535.57,216.05 535.69,216.69 535.81,217.34 535.93,217.98 536.05,218.63 536.18,219.28 536.30,219.93 536.42,220.57 536.54,221.22 536.66,221.88 536.79,222.53 536.91,223.18 537.03,223.83 537.15,224.48 537.28,225.13 537.40,225.78 537.52,226.44 537.64,227.09 537.76,227.74 537.89,228.39 538.01,229.04 538.13,229.69 538.25,230.34 538.37,230.99 538.50,231.64 538.62,232.28 538.74,232.93 538.86,233.58 538.98,234.22 539.11,234.87 539.23,235.51 539.35,236.16 539.47,236.80 539.60,237.44 539.72,238.08 539.84,238.72 539.96,239.36 540.08,239.99 540.21,240.63 540.33,241.27 540.45,241.90 540.57,242.53 540.69,243.16 540.82,243.79 540.94,244.42 541.06,245.05 541.18,245.67 541.31,246.30 541.43,246.92 541.55,247.54 541.67,248.16 541.79,248.78 541.92,249.39 542.04,250.01 542.16,250.62 542.28,251.23 542.40,251.84 542.53,252.45 542.65,253.05 542.77,253.65 542.89,254.26 543.01,254.85 543.14,255.45 543.26,256.05 543.38,256.64 543.50,257.23 543.63,257.82 543.75,258.40 543.87,258.99 543.99,259.57 544.11,260.15 544.24,260.72 544.36,261.30 544.48,261.87 544.60,262.44 544.72,263.00 544.85,263.57 544.97,264.13 545.09,264.69 545.21,265.24 545.33,265.79 545.46,266.34 545.58,266.89 545.70,267.43 545.82,267.98 545.95,268.51 546.07,269.05 546.19,269.58 546.31,270.11 546.43,270.63 546.56,271.16 546.68,271.68 546.80,272.60" fill="none" stroke="#b4b4b4" stroke-width="2.4" stroke-linecap="round" stroke-dasharray="0.01,6.05" stroke-dashoffset="-3"/>
<polyline points="477.00,272.60 477.30,272.60 477.61,272.60 477.91,272.60 478.21,272.60 478.52,272.60 478.82,272.60 479.12,272.60 479.43,272.60 479.73,272.60 480.03,272.60 480.34,272.60 480.64,272.60 480.94,272.60 481.25,272.60 481.55,272.60 481.85,272.60 482.16,272.60 482.46,272.60 482.76,272.60 483.07,272.60 483.37,272.60 483.67,272.60 483.98,272.60 484.28,272.60 484.58,272.60 484.89,272.60 485.19,272.60 485.49,272.60 485.80,272.60 486.10,272.60 486.40,272.60 486.71,272.60 487.01,272.60 487.31,272.60 487.62,272.60 487.92,272.60 488.22,272.60 488.53,272.60 488.83,272.60 489.13,272.60 489.44,272.60 489.74,272.60 490.04,272.60 490.35,272.60 490.65,272.60 490.95,272.60 491.26,272.60 491.56,272.60 491.86,272.60 492.17,272.60 492.47,272.60 492.77,272.60 493.08,272.60 493.38,272.60 493.68,272.60 493.99,272.60 494.29,272.60 494.59,272.60 494.90,272.60 495.20,272.60 495.50,272.60 495.81,272.60 496.11,272.60 496.41,272.60 496.72,272.60 497.02,272.60 497.32,272.60 497.63,272.60 497.93,272.60 498.23,272.60 498.54,272.60 498.84,272.60 499.14,272.60 499.45,272.60 499.75,272.60 500.05,272.60 500.36,272.60 500.66,272.58 500.96,272.55 501.27,272.50 501.57,272.43 501.87,272.34 502.18,272.23 502.48,272.09 502.78,271.93 503.09,271.75 503.39,271.55 503.69,271.32 504.00,271.07 504.30,270.79 504.60,270.50 504.91,270.18 505.21,269.84 505.51,269.48 505.82,269.10 506.12,268.71 506.42,268.29 506.73,267.86 507.03,267.41 507.33,266.95 507.64,266.47 507.94,265.98 508.24,265.48 508.55,264.96 508.85,264.44 509.15,263.91 509.46,263.37 509.76,262.82 510.06,262.27 510.37,261.71 510.67,261.15 510.97,260.59 511.28,260.03 511.58,259.47 511.88,258.91 512.19,258.35 512.49,257.79 512.79,257.24 513.10,256.70 513.40,256.16 513.70,255.62 514.01,255.10 514.31,254.59 514.61,254.08 514.92,253.59 515.22,253.11 515.52,252.64 515.83,252.18 516.13,251.74 516.43,251.32 516.74,250.91 517.04,250.52 517.34,250.14 517.65,249.79 517.95,249.45 518.25,249.13 518.56,248.83 518.86,248.55 519.16,248.29 519.47,248.05 519.77,247.84 520.07,247.64 520.38,247.47 520.68,247.32 520.98,247.19 521.29,247.09 521.59,247.00 521.89,246.95 522.20,246.91 522.50,246.90 522.80,246.91 523.11,246.95 523.41,247.00 523.71,247.09 524.02,247.19 524.32,247.32 524.62,247.47 524.93,247.64 525.23,247.84 525.53,248.05 525.84,248.29 526.14,248.55 526.44,248.83 526.75,249.13 527.05,249.45 527.35,249.79 527.66,250.14 527.96,250.52 528.26,250.91 528.57,251.32 528.87,251.74 529.17,252.18 529.48,252.64 529.78,253.11 530.08,253.59 530.39,254.08 530.69,254.59 530.99,255.10 531.30,255.62 531.60,256.16 531.90,256.70 532.21,257.24 532.51,257.79 532.81,258.35 533.12,258.91 533.42,259.47 533.72,260.03 534.03,260.59 534.33,261.15 534.63,261.71 534.94,262.27 535.24,262.82 535.54,263.37 535.85,263.91 536.15,264.44 536.45,264.96 536.76,265.48 537.06,265.98 537.36,266.47 537.67,266.95 537.97,267.41 538.27,267.86 538.58,268.29 538.88,268.71 539.18,269.10 539.49,269.48 539.79,269.84 540.09,270.18 540.40,270.50 540.70,270.79 541.00,271.07 541.31,271.32 541.61,271.55 541.91,271.75 542.22,271.93 542.52,272.09 542.82,272.23 543.13,272.34 543.43,272.43 543.73,272.50 544.04,272.55 544.34,272.58 544.64,272.60 544.95,272.60 545.25,272.60 545.55,272.60 545.86,272.60 546.16,272.60 546.46,272.60 546.77,272.60 547.07,272.60 547.37,272.60 547.68,272.60 547.98,272.60 548.28,272.60 548.59,272.60 548.89,272.60 549.19,272.60 549.50,272.60 549.80,272.60 550.10,272.60 550.41,272.60 550.71,272.60 551.01,272.60 551.32,272.60 551.62,272.60 551.92,272.60 552.23,272.60 552.53,272.60 552.83,272.60 553.14,272.60 553.44,272.60 553.74,272.60 554.05,272.60 554.35,272.60 554.65,272.60 554.96,272.60 555.26,272.60 555.56,272.60 555.87,272.60 556.17,272.60 556.47,272.60 556.78,272.60 557.08,272.60 557.38,272.60 557.69,272.60 557.99,272.60 558.29,272.60 558.60,272.60 558.90,272.60 559.20,272.60 559.51,272.60 559.81,272.60 560.11,272.60 560.42,272.60 560.72,272.60 561.02,272.60 561.33,272.60 561.63,272.60 561.93,272.60 562.24,272.60 562.54,272.60 562.84,272.60 563.15,272.60 563.45,272.60 563.75,272.60 564.06,272.60 564.36,272.60 564.66,272.60 564.97,272.60 565.27,272.60 565.57,272.60 565.88,272.60 566.18,272.60 566.48,272.60 566.79,272.60 567.09,272.60 567.39,272.60 567.70,272.60 568.00,272.60" fill="none" stroke="#6c0f6e" stroke-width="2.5" stroke-linejoin="round"/>
<g filter="url(#cmap)"><rect x="472.0" y="288.4" width="101.3" height="101.3" fill="rgb(26,26,26)"/>
<g transform="translate(522.0,340.2) rotate(-54.7)"><g mask="url(#wb3m)"><rect x="-48" y="-10" width="96" height="20" fill="url(#wb3y)" opacity="0.66"/></g></g>
<g transform="translate(522.0,340.2) rotate(-54.7)"><g mask="url(#wc3m)"><rect x="-30" y="-8" width="60" height="16" fill="url(#wc3y)" opacity="0.93"/></g></g>
</g>
<polyline points="586.40,54.98 586.70,56.32 587.00,57.65 587.30,58.97 587.61,60.28 587.91,61.58 588.21,62.87 588.51,64.16 588.81,65.44 589.11,66.70 589.41,67.96 589.71,69.21 590.02,70.45 590.32,71.68 590.62,72.90 590.92,74.12 591.22,75.32 591.52,76.51 591.82,77.70 592.13,78.88 592.43,80.05 592.73,81.21 593.03,82.36 593.33,83.50 593.63,84.63 593.93,85.75 594.23,86.87 594.54,87.97 594.84,89.07 595.14,90.16 595.44,91.24 595.74,92.31 596.04,93.37 596.34,94.42 596.65,95.46 596.95,96.50 597.25,97.52 597.55,98.54 597.85,99.55 598.15,100.54 598.45,101.53 598.75,102.51 599.06,103.49 599.36,104.45 599.66,105.40 599.96,106.35 600.26,107.28 600.56,108.21 600.86,109.13 601.17,110.03 601.47,110.93 601.77,111.83 602.07,112.71 602.37,113.58 602.67,114.44 602.97,115.30 603.27,116.15 603.58,116.98 603.88,117.81 604.18,118.63 604.48,119.44 604.78,120.24 605.08,121.03 605.38,121.82 605.69,122.59 605.99,123.36 606.29,124.11 606.59,124.86 606.89,125.60 607.19,126.33 607.49,127.05 607.79,127.76 608.10,128.46 608.40,129.16 608.70,129.84 609.00,130.52 609.30,131.19 609.60,131.84 609.90,132.49 610.21,133.13 610.51,133.77 610.81,134.39 611.11,135.00 611.41,135.60 611.71,136.20 612.01,136.79 612.31,137.36 612.62,137.93 612.92,138.49 613.22,139.04 613.52,139.58 613.82,140.12 614.12,140.64 614.42,141.16 614.73,141.66 615.03,142.16 615.33,142.65 615.63,143.13 615.93,143.60 616.23,144.06 616.53,144.51 616.83,144.95 617.14,145.39 617.44,145.81 617.74,146.23 618.04,146.64 618.34,147.03 618.64,147.42 618.94,147.80 619.25,148.17 619.55,148.54 619.85,148.89 620.15,149.24 620.45,149.57 620.75,149.90 621.05,150.22 621.35,150.53 621.66,150.83 621.96,151.12 622.26,151.40 622.56,151.67 622.86,151.94 623.16,152.19 623.46,152.44 623.77,152.67 624.07,152.90 624.37,153.12 624.67,153.33 624.97,153.53 625.27,153.73 625.57,153.91 625.87,154.08 626.18,154.25 626.48,154.41 626.78,154.55 627.08,154.69 627.38,154.82 627.68,154.94 627.98,155.06 628.29,155.16 628.59,155.25 628.89,155.34 629.19,155.41 629.49,155.48 629.79,155.54 630.09,155.59 630.39,155.63 630.70,155.66 631.00,155.68 631.30,155.70 631.60,155.70 631.90,155.70 632.20,155.68 632.50,155.66 632.81,155.63 633.11,155.59 633.41,155.54 633.71,155.48 634.01,155.41 634.31,155.34 634.61,155.25 634.91,155.16 635.22,155.06 635.52,154.94 635.82,154.82 636.12,154.69 636.42,154.55 636.72,154.41 637.02,154.25 637.33,154.08 637.63,153.91 637.93,153.73 638.23,153.53 638.53,153.33 638.83,153.12 639.13,152.90 639.43,152.67 639.74,152.44 640.04,152.19 640.34,151.94 640.64,151.67 640.94,151.40 641.24,151.12 641.54,150.83 641.85,150.53 642.15,150.22 642.45,149.90 642.75,149.57 643.05,149.24 643.35,148.89 643.65,148.54 643.95,148.17 644.26,147.80 644.56,147.42 644.86,147.03 645.16,146.64 645.46,146.23 645.76,145.81 646.06,145.39 646.37,144.95 646.67,144.51 646.97,144.06 647.27,143.60 647.57,143.13 647.87,142.65 648.17,142.16 648.47,141.66 648.78,141.16 649.08,140.64 649.38,140.12 649.68,139.58 649.98,139.04 650.28,138.49 650.58,137.93 650.89,137.36 651.19,136.79 651.49,136.20 651.79,135.60 652.09,135.00 652.39,134.39 652.69,133.77 652.99,133.13 653.30,132.49 653.60,131.84 653.90,131.19 654.20,130.52 654.50,129.84 654.80,129.16 655.10,128.46 655.41,127.76 655.71,127.05 656.01,126.33 656.31,125.60 656.61,124.86 656.91,124.11 657.21,123.36 657.51,122.59 657.82,121.82 658.12,121.03 658.42,120.24 658.72,119.44 659.02,118.63 659.32,117.81 659.62,116.98 659.93,116.15 660.23,115.30 660.53,114.44 660.83,113.58 661.13,112.71 661.43,111.83 661.73,110.93 662.03,110.03 662.34,109.13 662.64,108.21 662.94,107.28 663.24,106.35 663.54,105.40 663.84,104.45 664.14,103.49 664.45,102.51 664.75,101.53 665.05,100.54 665.35,99.55 665.65,98.54 665.95,97.52 666.25,96.50 666.55,95.46 666.86,94.42 667.16,93.37 667.46,92.31 667.76,91.24 668.06,90.16 668.36,89.07 668.66,87.97 668.97,86.87 669.27,85.75 669.57,84.63 669.87,83.50 670.17,82.36 670.47,81.21 670.77,80.05 671.07,78.88 671.38,77.70 671.68,76.51 671.98,75.32 672.28,74.12 672.58,72.90 672.88,71.68 673.18,70.45 673.49,69.21 673.79,67.96 674.09,66.70 674.39,65.44 674.69,64.16 674.99,62.87 675.29,61.58 675.59,60.28 675.90,58.97 676.20,57.65 676.50,56.32 676.80,54.98" fill="none" stroke="#bababa" stroke-width="1.7" stroke-dasharray="7.0,5.0" stroke-dashoffset="-0.76"/>
<polyline points="586.30,58.86 586.53,59.82 586.76,60.77 586.98,61.71 587.21,62.65 587.44,63.58 587.67,64.51 587.89,65.44 588.12,66.36 588.35,67.27 588.58,68.18 588.80,69.08 589.03,69.98 589.26,70.87 589.49,71.76 589.71,72.64 589.94,73.52 590.17,74.39 590.40,75.26 590.63,76.12 590.85,76.98 591.08,77.83 591.31,78.68 591.54,79.52 591.76,80.36 591.99,81.19 592.22,82.02 592.45,82.84 592.67,83.65 592.90,84.47 593.13,85.27 593.36,86.07 593.58,86.87 593.81,87.66 594.04,88.45 594.27,89.23 594.49,90.00 594.72,90.77 594.95,91.54 595.18,92.30 595.41,93.05 595.63,93.80 595.86,94.55 596.09,95.29 596.32,96.02 596.54,96.75 596.77,97.48 597.00,98.20 597.23,98.92 597.45,99.63 597.68,100.33 597.91,101.03 598.14,101.73 598.36,102.42 598.59,103.10 598.82,103.78 599.05,104.46 599.28,105.13 599.50,105.79 599.73,106.45 599.96,107.11 600.19,107.76 600.41,108.40 600.64,109.04 600.87,109.68 601.10,110.31 601.32,110.93 601.55,111.56 601.78,112.17 602.01,112.78 602.23,113.39 602.46,113.99 602.69,114.58 602.92,115.18 603.15,115.76 603.37,116.34 603.60,116.92 603.83,117.49 604.06,118.06 604.28,118.62 604.51,119.17 604.74,119.73 604.97,120.27 605.19,120.82 605.42,121.35 605.65,121.89 605.88,122.41 606.10,122.93 606.33,123.45 606.56,123.97 606.79,124.47 607.02,124.98 607.24,125.47 607.47,125.97 607.70,126.46 607.93,126.94 608.15,127.42 608.38,127.89 608.61,128.36 608.84,128.83 609.06,129.29 609.29,129.74 609.52,130.19 609.75,130.64 609.97,131.08 610.20,131.51 610.43,131.94 610.66,132.37 610.88,132.79 611.11,133.21 611.34,133.62 611.57,134.03 611.80,134.43 612.02,134.83 612.25,135.22 612.48,135.61 612.71,135.99 612.93,136.37 613.16,136.74 613.39,137.11 613.62,137.47 613.84,137.83 614.07,138.19 614.30,138.54 614.53,138.88 614.75,139.22 614.98,139.56 615.21,139.89 615.44,140.22 615.67,140.54 615.89,140.86 616.12,141.17 616.35,141.48 616.58,141.78 616.80,142.08 617.03,142.37 617.26,142.66 617.49,142.94 617.71,143.22 617.94,143.50 618.17,143.77 618.40,144.03 618.62,144.30 618.85,144.55 619.08,144.80 619.31,145.05 619.54,145.29 619.76,145.53 619.99,145.76 620.22,145.99 620.45,146.22 620.67,146.43 620.90,146.65 621.13,146.86 621.36,147.06 621.58,147.27 621.81,147.46 622.04,147.65 622.27,147.84 622.49,148.02 622.72,148.20 622.95,148.37 623.18,148.54 623.41,148.71 623.63,148.87 623.86,149.02 624.09,149.17 624.32,149.32 624.54,149.46 624.77,149.60 625.00,149.73 625.23,149.86 625.45,149.98 625.68,150.10 625.91,150.21 626.14,150.32 626.36,150.43 626.59,150.53 626.82,150.62 627.05,150.71 627.27,150.80 627.50,150.88 627.73,150.96 627.96,151.04 628.19,151.10 628.41,151.17 628.64,151.23 628.87,151.29 629.10,151.34 629.32,151.38 629.55,151.43 629.78,151.46 630.01,151.50 630.23,151.53 630.46,151.55 630.69,151.57 630.92,151.59 631.14,151.60 631.37,151.60 631.60,151.61 631.83,151.60 632.06,151.60 632.28,151.59 632.51,151.57 632.74,151.55 632.97,151.53 633.19,151.50 633.42,151.46 633.65,151.43 633.88,151.38 634.10,151.34 634.33,151.29 634.56,151.23 634.79,151.17 635.01,151.10 635.24,151.04 635.47,150.96 635.70,150.88 635.93,150.80 636.15,150.71 636.38,150.62 636.61,150.53 636.84,150.43 637.06,150.32 637.29,150.21 637.52,150.10 637.75,149.98 637.97,149.86 638.20,149.73 638.43,149.60 638.66,149.46 638.88,149.32 639.11,149.17 639.34,149.02 639.57,148.87 639.79,148.71 640.02,148.54 640.25,148.37 640.48,148.20 640.71,148.02 640.93,147.84 641.16,147.65 641.39,147.46 641.62,147.27 641.84,147.06 642.07,146.86 642.30,146.65 642.53,146.43 642.75,146.22 642.98,145.99 643.21,145.76 643.44,145.53 643.66,145.29 643.89,145.05 644.12,144.80 644.35,144.55 644.58,144.30 644.80,144.03 645.03,143.77 645.26,143.50 645.49,143.22 645.71,142.94 645.94,142.66 646.17,142.37 646.40,142.08 646.62,141.78 646.85,141.48 647.08,141.17 647.31,140.86 647.53,140.54 647.76,140.22 647.99,139.89 648.22,139.56 648.45,139.22 648.67,138.88 648.90,138.54 649.13,138.19 649.36,137.83 649.58,137.47 649.81,137.11 650.04,136.74 650.27,136.37 650.49,135.99 650.72,135.61 650.95,135.22 651.18,134.83 651.40,134.43 651.63,134.03 651.86,133.62 652.09,133.21 652.32,132.79 652.54,132.37 652.77,131.94 653.00,131.51 653.23,131.08 653.45,130.64 653.68,130.19 653.91,129.74 654.14,129.29 654.36,128.83 654.59,128.36 654.82,127.89 655.05,127.42 655.27,126.94 655.50,126.46 655.73,125.97 655.96,125.47 656.18,124.98 656.41,124.47 656.64,123.97 656.87,123.45 657.10,122.93 657.32,122.41 657.55,121.89 657.78,121.35 658.01,120.82 658.23,120.27 658.46,119.73 658.69,119.17 658.92,118.62 659.14,118.06 659.37,117.49 659.60,116.92 659.83,116.34 660.05,115.76 660.28,115.18 660.51,114.58 660.74,113.99 660.97,113.39 661.19,112.78 661.42,112.17 661.65,111.56 661.88,110.93 662.10,110.31 662.33,109.68 662.56,109.04 662.79,108.40 663.01,107.76 663.24,107.11 663.47,106.45 663.70,105.79 663.92,105.13 664.15,104.46 664.38,103.78 664.61,103.10 664.84,102.42 665.06,101.73 665.29,101.03 665.52,100.33 665.75,99.63 665.97,98.92 666.20,98.20 666.43,97.48 666.66,96.75 666.88,96.02 667.11,95.29 667.34,94.55 667.57,93.80 667.79,93.05 668.02,92.30 668.25,91.54 668.48,90.77 668.71,90.00 668.93,89.23 669.16,88.45 669.39,87.66 669.62,86.87 669.84,86.07 670.07,85.27 670.30,84.47 670.53,83.65 670.75,82.84 670.98,82.02 671.21,81.19 671.44,80.36 671.66,79.52 671.89,78.68 672.12,77.83 672.35,76.98 672.57,76.12 672.80,75.26 673.03,74.39 673.26,73.52 673.49,72.64 673.71,71.76 673.94,70.87 674.17,69.98 674.40,69.08 674.62,68.18 674.85,67.27 675.08,66.36 675.31,65.44 675.53,64.51 675.76,63.58 675.99,62.65 676.22,61.71 676.44,60.77 676.67,59.82 676.90,58.86" fill="none" stroke="#ca1c1c" stroke-width="2.5" stroke-linejoin="round"/>
<polyline points="631.60,172.37 631.48,172.38 631.36,172.40 631.23,172.43 631.11,172.47 630.99,172.52 630.87,172.58 630.75,172.65 630.62,172.73 630.50,172.82 630.38,172.93 630.26,173.04 630.13,173.16 630.01,173.29 629.89,173.43 629.77,173.58 629.65,173.74 629.52,173.91 629.40,174.09 629.28,174.27 629.16,174.47 629.04,174.67 628.91,174.89 628.79,175.11 628.67,175.34 628.55,175.58 628.43,175.83 628.30,176.09 628.18,176.35 628.06,176.63 627.94,176.91 627.81,177.20 627.69,177.49 627.57,177.80 627.45,178.11 627.33,178.43 627.20,178.76 627.08,179.10 626.96,179.44 626.84,179.79 626.72,180.15 626.59,180.52 626.47,180.89 626.35,181.27 626.23,181.66 626.11,182.05 625.98,182.45 625.86,182.86 625.74,183.27 625.62,183.69 625.49,184.11 625.37,184.55 625.25,184.98 625.13,185.43 625.01,185.88 624.88,186.34 624.76,186.80 624.64,187.27 624.52,187.74 624.40,188.22 624.27,188.70 624.15,189.19 624.03,189.69 623.91,190.19 623.78,190.70 623.66,191.21 623.54,191.72 623.42,192.24 623.30,192.77 623.17,193.30 623.05,193.83 622.93,194.37 622.81,194.92 622.69,195.47 622.56,196.02 622.44,196.57 622.32,197.14 622.20,197.70 622.08,198.27 621.95,198.84 621.83,199.42 621.71,200.00 621.59,200.58 621.46,201.17 621.34,201.76 621.22,202.35 621.10,202.95 620.98,203.54 620.85,204.15 620.73,204.75 620.61,205.36 620.49,205.97 620.37,206.59 620.24,207.20 620.12,207.82 620.00,208.44 619.88,209.06 619.76,209.69 619.63,210.32 619.51,210.95 619.39,211.58 619.27,212.21 619.14,212.85 619.02,213.48 618.90,214.12 618.78,214.76 618.66,215.40 618.53,216.05 618.41,216.69 618.29,217.34 618.17,217.98 618.05,218.63 617.92,219.28 617.80,219.93 617.68,220.57 617.56,221.22 617.44,221.88 617.31,222.53 617.19,223.18 617.07,223.83 616.95,224.48 616.82,225.13 616.70,225.78 616.58,226.44 616.46,227.09 616.34,227.74 616.21,228.39 616.09,229.04 615.97,229.69 615.85,230.34 615.73,230.99 615.60,231.64 615.48,232.28 615.36,232.93 615.24,233.58 615.12,234.22 614.99,234.87 614.87,235.51 614.75,236.16 614.63,236.80 614.50,237.44 614.38,238.08 614.26,238.72 614.14,239.36 614.02,239.99 613.89,240.63 613.77,241.27 613.65,241.90 613.53,242.53 613.41,243.16 613.28,243.79 613.16,244.42 613.04,245.05 612.92,245.67 612.79,246.30 612.67,246.92 612.55,247.54 612.43,248.16 612.31,248.78 612.18,249.39 612.06,250.01 611.94,250.62 611.82,251.23 611.70,251.84 611.57,252.45 611.45,253.05 611.33,253.65 611.21,254.26 611.09,254.85 610.96,255.45 610.84,256.05 610.72,256.64 610.60,257.23 610.47,257.82 610.35,258.40 610.23,258.99 610.11,259.57 609.99,260.15 609.86,260.72 609.74,261.30 609.62,261.87 609.50,262.44 609.38,263.00 609.25,263.57 609.13,264.13 609.01,264.69 608.89,265.24 608.77,265.79 608.64,266.34 608.52,266.89 608.40,267.43 608.28,267.98 608.15,268.51 608.03,269.05 607.91,269.58 607.79,270.11 607.67,270.63 607.54,271.16 607.42,271.68 607.30,272.60" fill="none" stroke="#b4b4b4" stroke-width="2.4" stroke-linecap="round" stroke-dasharray="0.01,6.05" stroke-dashoffset="-3"/>
<polyline points="631.60,172.37 631.72,172.38 631.84,172.40 631.97,172.43 632.09,172.47 632.21,172.52 632.33,172.58 632.45,172.65 632.58,172.73 632.70,172.82 632.82,172.93 632.94,173.04 633.07,173.16 633.19,173.29 633.31,173.43 633.43,173.58 633.55,173.74 633.68,173.91 633.80,174.09 633.92,174.27 634.04,174.47 634.16,174.67 634.29,174.89 634.41,175.11 634.53,175.34 634.65,175.58 634.77,175.83 634.90,176.09 635.02,176.35 635.14,176.63 635.26,176.91 635.39,177.20 635.51,177.49 635.63,177.80 635.75,178.11 635.87,178.43 636.00,178.76 636.12,179.10 636.24,179.44 636.36,179.79 636.48,180.15 636.61,180.52 636.73,180.89 636.85,181.27 636.97,181.66 637.09,182.05 637.22,182.45 637.34,182.86 637.46,183.27 637.58,183.69 637.71,184.11 637.83,184.55 637.95,184.98 638.07,185.43 638.19,185.88 638.32,186.34 638.44,186.80 638.56,187.27 638.68,187.74 638.80,188.22 638.93,188.70 639.05,189.19 639.17,189.69 639.29,190.19 639.42,190.70 639.54,191.21 639.66,191.72 639.78,192.24 639.90,192.77 640.03,193.30 640.15,193.83 640.27,194.37 640.39,194.92 640.51,195.47 640.64,196.02 640.76,196.57 640.88,197.14 641.00,197.70 641.12,198.27 641.25,198.84 641.37,199.42 641.49,200.00 641.61,200.58 641.74,201.17 641.86,201.76 641.98,202.35 642.10,202.95 642.22,203.54 642.35,204.15 642.47,204.75 642.59,205.36 642.71,205.97 642.83,206.59 642.96,207.20 643.08,207.82 643.20,208.44 643.32,209.06 643.44,209.69 643.57,210.32 643.69,210.95 643.81,211.58 643.93,212.21 644.06,212.85 644.18,213.48 644.30,214.12 644.42,214.76 644.54,215.40 644.67,216.05 644.79,216.69 644.91,217.34 645.03,217.98 645.15,218.63 645.28,219.28 645.40,219.93 645.52,220.57 645.64,221.22 645.76,221.88 645.89,222.53 646.01,223.18 646.13,223.83 646.25,224.48 646.38,225.13 646.50,225.78 646.62,226.44 646.74,227.09 646.86,227.74 646.99,228.39 647.11,229.04 647.23,229.69 647.35,230.34 647.47,230.99 647.60,231.64 647.72,232.28 647.84,232.93 647.96,233.58 648.08,234.22 648.21,234.87 648.33,235.51 648.45,236.16 648.57,236.80 648.70,237.44 648.82,238.08 648.94,238.72 649.06,239.36 649.18,239.99 649.31,240.63 649.43,241.27 649.55,241.90 649.67,242.53 649.79,243.16 649.92,243.79 650.04,244.42 650.16,245.05 650.28,245.67 650.41,246.30 650.53,246.92 650.65,247.54 650.77,248.16 650.89,248.78 651.02,249.39 651.14,250.01 651.26,250.62 651.38,251.23 651.50,251.84 651.63,252.45 651.75,253.05 651.87,253.65 651.99,254.26 652.11,254.85 652.24,255.45 652.36,256.05 652.48,256.64 652.60,257.23 652.73,257.82 652.85,258.40 652.97,258.99 653.09,259.57 653.21,260.15 653.34,260.72 653.46,261.30 653.58,261.87 653.70,262.44 653.82,263.00 653.95,263.57 654.07,264.13 654.19,264.69 654.31,265.24 654.43,265.79 654.56,266.34 654.68,266.89 654.80,267.43 654.92,267.98 655.05,268.51 655.17,269.05 655.29,269.58 655.41,270.11 655.53,270.63 655.66,271.16 655.78,271.68 655.90,272.60" fill="none" stroke="#b4b4b4" stroke-width="2.4" stroke-linecap="round" stroke-dasharray="0.01,6.05" stroke-dashoffset="-3"/>
<polyline points="586.10,272.60 586.40,272.60 586.71,272.60 587.01,272.60 587.31,272.60 587.62,272.60 587.92,272.60 588.22,272.60 588.53,272.60 588.83,272.60 589.13,272.60 589.44,272.60 589.74,272.60 590.04,272.60 590.35,272.60 590.65,272.60 590.95,272.60 591.26,272.60 591.56,272.60 591.86,272.60 592.17,272.60 592.47,272.60 592.77,272.60 593.08,272.60 593.38,272.60 593.68,272.60 593.99,272.60 594.29,272.60 594.59,272.60 594.90,272.60 595.20,272.60 595.50,272.60 595.81,272.60 596.11,272.60 596.41,272.60 596.72,272.60 597.02,272.60 597.32,272.60 597.63,272.60 597.93,272.60 598.23,272.60 598.54,272.60 598.84,272.60 599.14,272.60 599.45,272.60 599.75,272.60 600.05,272.60 600.36,272.60 600.66,272.60 600.96,272.60 601.27,272.60 601.57,272.60 601.87,272.60 602.18,272.60 602.48,272.60 602.78,272.60 603.09,272.58 603.39,272.55 603.69,272.50 604.00,272.43 604.30,272.36 604.60,272.27 604.91,272.16 605.21,272.05 605.51,271.92 605.82,271.78 606.12,271.63 606.42,271.47 606.73,271.29 607.03,271.11 607.33,270.92 607.64,270.72 607.94,270.51 608.24,270.29 608.55,270.07 608.85,269.83 609.15,269.59 609.46,269.35 609.76,269.10 610.06,268.84 610.37,268.58 610.67,268.31 610.97,268.03 611.28,267.76 611.58,267.48 611.88,267.19 612.19,266.90 612.49,266.61 612.79,266.32 613.10,266.03 613.40,265.73 613.70,265.43 614.01,265.13 614.31,264.83 614.61,264.53 614.92,264.23 615.22,263.93 615.52,263.63 615.83,263.33 616.13,263.03 616.43,262.73 616.74,262.43 617.04,262.14 617.34,261.85 617.65,261.56 617.95,261.27 618.25,260.98 618.56,260.70 618.86,260.42 619.16,260.15 619.47,259.87 619.77,259.61 620.07,259.34 620.38,259.08 620.68,258.83 620.98,258.58 621.29,258.33 621.59,258.09 621.89,257.86 622.20,257.63 622.50,257.40 622.80,257.18 623.11,256.97 623.41,256.76 623.71,256.56 624.02,256.37 624.32,256.18 624.62,256.00 624.93,255.83 625.23,255.66 625.53,255.50 625.84,255.35 626.14,255.20 626.44,255.06 626.75,254.93 627.05,254.81 627.35,254.69 627.66,254.59 627.96,254.48 628.26,254.39 628.57,254.31 628.87,254.23 629.17,254.16 629.48,254.10 629.78,254.05 630.08,254.00 630.39,253.97 630.69,253.94 630.99,253.92 631.30,253.90 631.60,253.90 631.90,253.90 632.21,253.92 632.51,253.94 632.81,253.97 633.12,254.00 633.42,254.05 633.72,254.10 634.03,254.16 634.33,254.23 634.63,254.31 634.94,254.39 635.24,254.48 635.54,254.59 635.85,254.69 636.15,254.81 636.45,254.93 636.76,255.06 637.06,255.20 637.36,255.35 637.67,255.50 637.97,255.66 638.27,255.83 638.58,256.00 638.88,256.18 639.18,256.37 639.49,256.56 639.79,256.76 640.09,256.97 640.40,257.18 640.70,257.40 641.00,257.63 641.31,257.86 641.61,258.09 641.91,258.33 642.22,258.58 642.52,258.83 642.82,259.08 643.13,259.34 643.43,259.61 643.73,259.87 644.04,260.15 644.34,260.42 644.64,260.70 644.95,260.98 645.25,261.27 645.55,261.56 645.86,261.85 646.16,262.14 646.46,262.43 646.77,262.73 647.07,263.03 647.37,263.33 647.68,263.63 647.98,263.93 648.28,264.23 648.59,264.53 648.89,264.83 649.19,265.13 649.50,265.43 649.80,265.73 650.10,266.03 650.41,266.32 650.71,266.61 651.01,266.90 651.32,267.19 651.62,267.48 651.92,267.76 652.23,268.03 652.53,268.31 652.83,268.58 653.14,268.84 653.44,269.10 653.74,269.35 654.05,269.59 654.35,269.83 654.65,270.07 654.96,270.29 655.26,270.51 655.56,270.72 655.87,270.92 656.17,271.11 656.47,271.29 656.78,271.47 657.08,271.63 657.38,271.78 657.69,271.92 657.99,272.05 658.29,272.16 658.60,272.27 658.90,272.36 659.20,272.43 659.51,272.50 659.81,272.55 660.11,272.58 660.42,272.60 660.72,272.60 661.02,272.60 661.33,272.60 661.63,272.60 661.93,272.60 662.24,272.60 662.54,272.60 662.84,272.60 663.15,272.60 663.45,272.60 663.75,272.60 664.06,272.60 664.36,272.60 664.66,272.60 664.97,272.60 665.27,272.60 665.57,272.60 665.88,272.60 666.18,272.60 666.48,272.60 666.79,272.60 667.09,272.60 667.39,272.60 667.70,272.60 668.00,272.60 668.30,272.60 668.61,272.60 668.91,272.60 669.21,272.60 669.52,272.60 669.82,272.60 670.12,272.60 670.43,272.60 670.73,272.60 671.03,272.60 671.34,272.60 671.64,272.60 671.94,272.60 672.25,272.60 672.55,272.60 672.85,272.60 673.16,272.60 673.46,272.60 673.76,272.60 674.07,272.60 674.37,272.60 674.67,272.60 674.98,272.60 675.28,272.60 675.58,272.60 675.89,272.60 676.19,272.60 676.49,272.60 676.80,272.60 677.10,272.60" fill="none" stroke="#ca1c1c" stroke-width="2.5" stroke-linejoin="round"/>
<g filter="url(#cmap)"><rect x="581.1" y="288.4" width="101.3" height="101.3" fill="rgb(26,26,26)"/>
<ellipse cx="631.7" cy="329.8" rx="18" ry="3" fill="#000" opacity="0.9" filter="url(#blur2)"/>
<ellipse cx="631.7" cy="350.8" rx="18" ry="3" fill="#000" opacity="0.9" filter="url(#blur2)"/>
<g transform="translate(631.7,340.3) rotate(0)"><g mask="url(#wb4m)"><rect x="-45" y="-14" width="90" height="28" fill="url(#wb4y)" opacity="0.64"/></g></g>
<g transform="translate(631.7,340.3) rotate(0)"><g mask="url(#wc4m)"><rect x="-30" y="-12" width="60" height="24" fill="url(#wc4y)" opacity="0.93"/></g></g>
</g>
<rect x="145.1" y="50.300000000000004" width="99.1" height="110.39999999999999" fill="none" stroke="#000" stroke-width="2.2"/>
<rect x="145.1" y="167.1" width="99.1" height="110.6" fill="none" stroke="#000" stroke-width="2.2"/>
<rect x="145.1" y="289.5" width="99.1" height="99.1" fill="none" stroke="#000" stroke-width="2.2"/>
<rect x="254.4" y="50.300000000000004" width="99.1" height="110.39999999999999" fill="none" stroke="#000" stroke-width="2.2"/>
<rect x="254.4" y="167.1" width="99.1" height="110.6" fill="none" stroke="#000" stroke-width="2.2"/>
<rect x="254.4" y="289.5" width="99.1" height="99.1" fill="none" stroke="#000" stroke-width="2.2"/>
<rect x="363.8" y="50.300000000000004" width="99.1" height="110.39999999999999" fill="none" stroke="#000" stroke-width="2.2"/>
<rect x="363.8" y="167.1" width="99.1" height="110.6" fill="none" stroke="#000" stroke-width="2.2"/>
<rect x="363.8" y="289.5" width="99.1" height="99.1" fill="none" stroke="#000" stroke-width="2.2"/>
<rect x="473.1" y="50.300000000000004" width="99.1" height="110.39999999999999" fill="none" stroke="#000" stroke-width="2.2"/>
<rect x="473.1" y="167.1" width="99.1" height="110.6" fill="none" stroke="#000" stroke-width="2.2"/>
<rect x="473.1" y="289.5" width="99.1" height="99.1" fill="none" stroke="#000" stroke-width="2.2"/>
<rect x="582.2" y="50.300000000000004" width="99.1" height="110.39999999999999" fill="none" stroke="#000" stroke-width="2.2"/>
<rect x="582.2" y="167.1" width="99.1" height="110.6" fill="none" stroke="#000" stroke-width="2.2"/>
<rect x="582.2" y="289.5" width="99.1" height="99.1" fill="none" stroke="#000" stroke-width="2.2"/>
<text transform="translate(2.63,21.55) scale(0.28235,0.28132)" font-size="100">(a)</text>
<text transform="translate(45.18,28.43) scale(0.33725,0.27304)" font-size="100" font-style="italic">t</text>
<text transform="translate(56.99,31.42) scale(0.21193,0.17589)" font-size="100">hold</text>
<line x1="99.6" y1="34.2" x2="107.6" y2="9.8" stroke="#000" stroke-width="1.35"/>
<text transform="translate(108.88,28.70) scale(0.31091,0.26718)" font-size="100" font-style="italic">T</text>
<text transform="translate(186.60,28.64) scale(0.27619,0.26370)" font-size="100">0</text>
<text transform="translate(288.94,28.70) scale(0.25143,0.25909)" font-size="100">1</text>
<line x1="304.3" y1="34.3" x2="312.5" y2="10.1" stroke="#000" stroke-width="1.35"/>
<text transform="translate(315.20,28.70) scale(0.24946,0.25909)" font-size="100">4</text>
<text transform="translate(392.71,28.70) scale(0.25429,0.25909)" font-size="100">1</text>
<line x1="408.2" y1="34.3" x2="415.9" y2="10.1" stroke="#000" stroke-width="1.35"/>
<text transform="translate(418.75,28.70) scale(0.25500,0.25909)" font-size="100">2</text>
<text transform="translate(503.16,28.93) scale(0.26829,0.26866)" font-size="100">3</text>
<line x1="518.9" y1="34.3" x2="526.7" y2="10.1" stroke="#000" stroke-width="1.35"/>
<text transform="translate(529.38,28.70) scale(0.26022,0.25909)" font-size="100">4</text>
<text transform="translate(630.56,29.00) scale(0.24857,0.25909)" font-size="100">1</text>
<text transform="translate(66.25,113.52) scale(0.26131,0.27669)" font-size="100" font-style="italic">U</text>
<text transform="translate(89.15,113.40) scale(0.18824,0.28352)" font-size="100">(</text>
<text transform="translate(98.20,113.00) scale(0.30164,0.23404)" font-size="100">r</text>
<text transform="translate(109.09,113.40) scale(0.20385,0.28352)" font-size="100">)</text>
<line x1="59.4" y1="209.6" x2="59.4" y2="234.1" stroke="#000" stroke-width="1.4"/>
<text transform="translate(62.67,227.51) scale(0.30435,0.27853)" font-size="100" font-style="italic">ψ</text>
<text transform="translate(82.78,229.09) scale(0.22745,0.28901)" font-size="100">(</text>
<text transform="translate(91.81,228.90) scale(0.34426,0.22340)" font-size="100">r</text>
<text transform="translate(104.87,229.09) scale(0.17692,0.28901)" font-size="100">)</text>
<line x1="116" y1="209.6" x2="116" y2="234.1" stroke="#000" stroke-width="1.4"/>
<text transform="translate(119.77,216.00) scale(0.20750,0.16515)" font-size="100">2</text>
<text transform="translate(46.03,343.20) scale(0.28757,0.26418)" font-size="100" font-style="italic">W</text>
<text transform="translate(74.56,344.15) scale(0.20784,0.28132)" font-size="100">(</text>
<text transform="translate(83.48,343.60) scale(0.26230,0.23617)" font-size="100">r</text>
<text transform="translate(94.99,343.55) scale(0.22759,0.30980)" font-size="100">,</text>
<text transform="translate(102.70,343.75) scale(0.26742,0.23942)" font-size="100">p</text>
<text transform="translate(120.82,344.15) scale(0.22692,0.28132)" font-size="100">)</text>
<polyline points="169.00,444.96 170.00,444.78 171.00,444.65 172.00,444.56 173.00,444.51 174.00,444.50 175.00,444.53 176.00,444.60 177.00,444.70 178.00,444.85 179.00,445.03 180.00,445.25 181.00,445.50 182.00,445.79 183.00,446.11 184.00,446.47 185.00,446.87 186.00,447.29 187.00,447.75 188.00,448.25 189.00,448.77 190.00,449.33 191.00,449.92 192.00,450.54 193.00,451.19 194.00,451.88 195.00,452.59 196.00,453.33 197.00,454.10 198.00,454.89 199.00,455.72 200.00,456.57 201.00,457.45 202.00,458.35 203.00,459.28 204.00,460.24 205.00,461.22 206.00,462.22 207.00,463.25 208.00,464.31 209.00,465.38 210.00,466.48 211.00,467.60 212.00,468.74 213.00,469.90 214.00,471.09 215.00,472.29 216.00,473.51 217.00,474.75 218.00,476.01 219.00,477.29 220.00,478.59 221.00,479.90 222.00,481.23 223.00,482.58 224.00,483.94 225.00,485.32 226.00,486.71 227.00,488.12 228.00,489.54 229.00,490.98 230.00,492.43 231.00,493.89 232.00,495.37 233.00,496.86 234.00,498.36 235.00,499.87 236.00,501.40 237.00,502.94 238.00,504.49 239.00,506.06 240.00,507.63 241.00,509.22 242.00,510.81 243.00,512.42 244.00,514.04 245.00,515.67 246.00,517.31 247.00,518.96 248.00,520.61 249.00,522.28 250.00,523.95 251.00,525.64 252.00,527.33 253.00,529.03 254.00,530.74 255.00,532.46 256.00,534.18 257.00,535.91 258.00,537.64 259.00,539.38 260.00,541.12 261.00,542.85 262.00,544.58 263.00,546.31 264.00,548.02 265.00,549.73 266.00,551.43 267.00,553.12 268.00,554.79 269.00,556.45 270.00,558.08 271.00,559.70 272.00,561.30 273.00,562.87 274.00,564.42 275.00,565.94 276.00,567.43 277.00,568.89 278.00,570.32 279.00,571.72 280.00,573.08 281.00,574.40 282.00,575.68 283.00,576.92 284.00,578.12 285.00,579.27 286.00,580.39 287.00,581.46 288.00,582.50 289.00,583.50 290.00,584.45 291.00,585.37 292.00,586.24 293.00,587.08 294.00,587.87 295.00,588.63 296.00,589.35 297.00,590.03 298.00,590.67 299.00,591.28 300.00,591.84 301.00,592.37 302.00,592.86 303.00,593.32 304.00,593.73 305.00,594.11 306.00,594.46 307.00,594.76 308.00,595.03 309.00,595.27 310.00,595.47 311.00,595.63 312.00,595.76 313.00,595.85 314.00,595.91 315.00,595.93 316.00,595.92 317.00,595.87 318.00,595.79 319.00,595.68 320.00,595.53 321.00,595.35 322.00,595.13 323.00,594.89 324.00,594.61 325.00,594.29 326.00,593.95 327.00,593.57 328.00,593.16 329.00,592.72 330.00,592.25 331.00,591.74 332.00,591.21 333.00,590.64 334.00,590.04 335.00,589.41 336.00,588.76 337.00,588.07 338.00,587.35 339.00,586.60 340.00,585.83 341.00,585.02 342.00,584.19 343.00,583.32 344.00,582.43 345.00,581.51 346.00,580.56 347.00,579.58 348.00,578.58 349.00,577.55 350.00,576.49 351.00,575.40 352.00,574.29 353.00,573.15 354.00,571.99 355.00,570.80 356.00,569.59 357.00,568.36 358.00,567.11 359.00,565.84 360.00,564.55 361.00,563.25 362.00,561.92 363.00,560.58 364.00,559.22 365.00,557.85 366.00,556.47 367.00,555.07 368.00,553.67 369.00,552.25 370.00,550.82 371.00,549.38 372.00,547.93 373.00,546.48 374.00,545.02 375.00,543.56 376.00,542.09 377.00,540.61 378.00,539.14 379.00,537.66 380.00,536.18 381.00,534.71 382.00,533.23 383.00,531.75 384.00,530.28 385.00,528.81 386.00,527.35 387.00,525.89 388.00,524.44 389.00,522.99 390.00,521.56 391.00,520.13 392.00,518.71 393.00,517.29 394.00,515.89 395.00,514.49 396.00,513.10 397.00,511.71 398.00,510.33 399.00,508.96 400.00,507.60 401.00,506.24 402.00,504.89 403.00,503.55 404.00,502.21 405.00,500.88 406.00,499.56 407.00,498.24 408.00,496.93 409.00,495.62 410.00,494.32 411.00,493.03 412.00,491.74 413.00,490.45 414.00,489.18 415.00,487.91 416.00,486.64 417.00,485.38 418.00,484.12 419.00,482.87 420.00,481.62 421.00,480.38 422.00,479.15 423.00,477.92 424.00,476.70 425.00,475.49 426.00,474.29 427.00,473.10 428.00,471.92 429.00,470.75 430.00,469.59 431.00,468.45 432.00,467.32 433.00,466.21 434.00,465.11 435.00,464.03 436.00,462.96 437.00,461.92 438.00,460.89 439.00,459.88 440.00,458.89 441.00,457.92 442.00,456.97 443.00,456.04 444.00,455.14 445.00,454.26 446.00,453.41 447.00,452.58 448.00,451.77 449.00,451.00 450.00,450.25 451.00,449.53 452.00,448.83 453.00,448.17 454.00,447.54 455.00,446.94 456.00,446.37 457.00,445.83 458.00,445.33 459.00,444.86 460.00,444.43 461.00,444.03 462.00,443.67 463.00,443.35 464.00,443.06 465.00,442.81 466.00,442.61 467.00,442.44 468.00,442.31 469.00,442.23 470.00,442.18 471.00,442.19 472.00,442.23 473.00,442.32 474.00,442.45 475.00,442.64 476.00,442.86 477.00,443.14 478.00,443.46 479.00,443.84 480.00,444.26 481.00,444.73 482.00,445.25 483.00,445.81 484.00,446.42 485.00,447.07 486.00,447.76 487.00,448.49 488.00,449.26 489.00,450.07 490.00,450.91 491.00,451.78 492.00,452.68 493.00,453.61 494.00,454.58 495.00,455.57 496.00,456.58 497.00,457.62 498.00,458.68 499.00,459.76 500.00,460.87 501.00,461.98 502.00,463.12 503.00,464.27 504.00,465.43 505.00,466.61 506.00,467.80 507.00,468.99 508.00,470.19 509.00,471.40 510.00,472.61 511.00,473.83 512.00,475.05 513.00,476.27 514.00,477.50 515.00,478.74 516.00,479.98 517.00,481.23 518.00,482.48 519.00,483.74 520.00,485.01 521.00,486.28 522.00,487.56 523.00,488.85 524.00,490.14 525.00,491.44 526.00,492.75 527.00,494.07 528.00,495.40 529.00,496.74 530.00,498.08 531.00,499.44 532.00,500.80 533.00,502.17 534.00,503.56 535.00,504.95 536.00,506.36 537.00,507.77 538.00,509.20 539.00,510.64 540.00,512.09 541.00,513.55 542.00,515.02 543.00,516.50 544.00,518.00 545.00,519.51 546.00,521.02 547.00,522.55 548.00,524.09 549.00,525.63 550.00,527.18 551.00,528.75 552.00,530.32 553.00,531.89 554.00,533.48 555.00,535.07 556.00,536.67 557.00,538.27 558.00,539.88 559.00,541.49 560.00,543.11 561.00,544.73 562.00,546.35 563.00,547.98 564.00,549.61 565.00,551.25 566.00,552.88 567.00,554.52 568.00,556.16 569.00,557.80 570.00,559.43 571.00,561.07 572.00,562.69 573.00,564.31 574.00,565.92 575.00,567.51 576.00,569.08 577.00,570.64 578.00,572.17 579.00,573.69 580.00,575.17 581.00,576.63 582.00,578.06 583.00,579.45 584.00,580.81 585.00,582.12 586.00,583.40 587.00,584.64 588.00,585.83 589.00,586.97 590.00,588.06 591.00,589.10 592.00,590.08 593.00,591.00 594.00,591.87 595.00,592.67 596.00,593.41 597.00,594.08 598.00,594.68 599.00,595.20 600.00,595.66 601.00,596.05 602.00,596.37 603.00,596.62 604.00,596.81 605.00,596.93 606.00,596.99 607.00,596.99 608.00,596.94 609.00,596.82 610.00,596.65 611.00,596.42 612.00,596.14 613.00,595.81 614.00,595.43 615.00,594.99 616.00,594.51 617.00,593.99 618.00,593.42 619.00,592.81 620.00,592.15 621.00,591.46 622.00,590.72 623.00,589.95 624.00,589.14 625.00,588.30 626.00,587.43 627.00,586.52 628.00,585.59 629.00,584.62 630.00,583.63 631.00,582.61 632.00,581.57 633.00,580.51 634.00,579.42 635.00,578.32 636.00,577.19 637.00,576.05 638.00,574.90 639.00,573.73 640.00,572.55 641.00,571.35 642.00,570.15 643.00,568.94 644.00,567.73 645.00,566.50 646.00,565.28 647.00,564.05 648.00,562.82 649.00,561.59 650.00,560.37 651.00,559.15 652.00,557.93 653.00,556.72 654.00,555.51 655.00,554.32 656.00,553.14 657.00,551.97" fill="none" stroke="#f5aca2" stroke-width="2.4" stroke-linejoin="round"/>
<rect x="144.9" y="435.5" width="536.4" height="171.39999999999998" fill="none" stroke="#000" stroke-width="2.1"/>
<line x1="169.0" y1="606.9" x2="169.0" y2="596.9" stroke="#000" stroke-width="2"/>
<line x1="169.0" y1="435.5" x2="169.0" y2="445.5" stroke="#000" stroke-width="2"/>
<text transform="translate(161.69,634.34) scale(0.27857,0.26222)" font-size="100">0</text>
<line x1="291.05" y1="606.9" x2="291.05" y2="596.9" stroke="#000" stroke-width="2"/>
<line x1="291.05" y1="435.5" x2="291.05" y2="445.5" stroke="#000" stroke-width="2"/>
<text transform="translate(282.59,634.60) scale(0.25714,0.26818)" font-size="100">1</text>
<line x1="413.1" y1="606.9" x2="413.1" y2="596.9" stroke="#000" stroke-width="2"/>
<line x1="413.1" y1="435.5" x2="413.1" y2="445.5" stroke="#000" stroke-width="2"/>
<text transform="translate(405.21,634.60) scale(0.26500,0.26818)" font-size="100">2</text>
<line x1="535.15" y1="606.9" x2="535.15" y2="596.9" stroke="#000" stroke-width="2"/>
<line x1="535.15" y1="435.5" x2="535.15" y2="445.5" stroke="#000" stroke-width="2"/>
<text transform="translate(526.73,634.34) scale(0.27317,0.26418)" font-size="100">3</text>
<line x1="657.2" y1="606.9" x2="657.2" y2="596.9" stroke="#000" stroke-width="2"/>
<line x1="657.2" y1="435.5" x2="657.2" y2="445.5" stroke="#000" stroke-width="2"/>
<text transform="translate(649.38,634.60) scale(0.26237,0.26818)" font-size="100">4</text>
<line x1="144.9" y1="566.2" x2="154.9" y2="566.2" stroke="#000" stroke-width="2"/>
<line x1="681.3" y1="566.2" x2="671.3" y2="566.2" stroke="#000" stroke-width="2"/>
<text transform="translate(120.76,575.80) scale(0.27500,0.26515)" font-size="100">2</text>
<line x1="144.9" y1="489.6" x2="154.9" y2="489.6" stroke="#000" stroke-width="2"/>
<line x1="681.3" y1="489.6" x2="671.3" y2="489.6" stroke="#000" stroke-width="2"/>
<text transform="translate(120.43,498.44) scale(0.27317,0.26119)" font-size="100">3</text>
<circle cx="169.3" cy="444.6" r="6.7" fill="none" stroke="#dc1515" stroke-width="2.5"/>
<circle cx="242.4" cy="514" r="6.7" fill="none" stroke="#0c0cdc" stroke-width="2.5"/>
<circle cx="315.4" cy="596.3" r="6.7" fill="none" stroke="#0c800c" stroke-width="2.5"/>
<circle cx="388.8" cy="524.3" r="6.7" fill="none" stroke="#7a0c7a" stroke-width="2.5"/>
<circle cx="468.2" cy="444.2" r="6.7" fill="none" stroke="#dc1515" stroke-width="2.5"/>
<circle cx="541" cy="512.6" r="6.7" fill="none" stroke="#0c0cdc" stroke-width="2.5"/>
<circle cx="608" cy="596.8" r="6.7" fill="none" stroke="#0c800c" stroke-width="2.5"/>
<text transform="translate(3.05,436.15) scale(0.27685,0.28132)" font-size="100">(b)</text>
<text transform="translate(352.08,664.70) scale(0.36078,0.30087)" font-size="100" font-style="italic">t</text>
<text transform="translate(363.67,668.41) scale(0.22955,0.18865)" font-size="100">hold</text>
<text transform="translate(417.47,665.18) scale(0.29570,0.30330)" font-size="100">(ms)</text>
<g transform="rotate(-90)"><text transform="translate(-571.58,98.24) scale(0.29495,0.25524)" font-size="100" font-style="italic">σ</text></g>
<g transform="rotate(-90)"><text transform="translate(-555.40,102.00) scale(0.24918,0.19787)" font-size="100">r</text></g>
<g transform="rotate(-90)"><text transform="translate(-533.94,98.10) scale(0.27451,0.32088)" font-size="100">(</text></g>
<g transform="rotate(-90)"><text transform="translate(-524.00,97.63) scale(0.37234,0.25926)" font-size="100" font-style="italic">μ</text></g>
<g transform="rotate(-90)"><text transform="translate(-505.87,98.50) scale(0.28378,0.28511)" font-size="100">m</text></g>
<g transform="rotate(-90)"><text transform="translate(-483.24,98.10) scale(0.24615,0.32088)" font-size="100">)</text></g>
<polyline points="169.00,886.72 172.05,886.56 175.10,886.36 178.16,886.12 181.21,885.83 184.26,885.51 187.31,885.14 190.37,884.74 193.42,884.29 196.47,883.82 199.53,883.30 202.58,882.75 205.63,882.17 208.68,881.56 211.74,880.92 214.79,880.25 217.84,879.55 220.89,878.83 223.94,878.08 227.00,877.31 230.05,876.52 233.10,875.70 236.16,874.87 239.21,874.01 242.26,873.14 245.31,872.25 248.37,871.35 251.42,870.43 254.47,869.49 257.52,868.54 260.57,867.58 263.63,866.60 266.68,865.62 269.73,864.62 272.79,863.61 275.84,862.59 278.89,861.56 281.94,860.52 285.00,859.47 288.05,858.42 291.10,857.35 294.15,856.28 297.21,855.20 300.26,854.12 303.31,853.03 306.36,851.93 309.42,850.83 312.47,849.72 315.52,848.60 318.57,847.48 321.62,846.36 324.68,845.23 327.73,844.10 330.78,842.96 333.84,841.82 336.89,840.67 339.94,839.52 342.99,838.37 346.05,837.21 349.10,836.05 352.15,834.89 355.20,833.73 358.25,832.56 361.31,831.39 364.36,830.21 367.41,829.04 370.47,827.86 373.52,826.67 376.57,825.49 379.62,824.31 382.67,823.12 385.73,821.93 388.78,820.74 391.83,819.54 394.88,818.35 397.94,817.15 400.99,815.95 404.04,814.75 407.10,813.55 410.15,812.35 413.20,811.14 416.25,809.94 419.31,808.73 422.36,807.52 425.41,806.31 428.46,805.10 431.51,803.89 434.57,802.68 437.62,801.46 440.67,800.25 443.72,799.03 446.78,797.82 449.83,796.60 452.88,795.38 455.94,794.16 458.99,792.94 462.04,791.72 465.09,790.50 468.14,789.28 471.20,788.05 474.25,786.83 477.30,785.61 480.36,784.38 483.41,783.16 486.46,781.93 489.51,780.70 492.57,779.48 495.62,778.25 498.67,777.02 501.72,775.79 504.77,774.56 507.83,773.33 510.88,772.10 513.93,770.87 516.99,769.64 520.04,768.41 523.09,767.18 526.14,765.95 529.19,764.72 532.25,763.49 535.30,762.25 538.35,761.02 541.40,759.79 544.46,758.55 547.51,757.32 550.56,756.09 553.62,754.85 556.67,753.62 559.72,752.38 562.77,751.15 565.83,749.92 568.88,748.68 571.93,747.45 574.98,746.21 578.03,744.97 581.09,743.74 584.14,742.50 587.19,741.27 590.25,740.03 593.30,738.80 596.35,737.56 599.40,736.32 602.45,735.09 605.51,733.85 608.56,732.61 611.61,731.38 614.66,730.14 617.72,728.90 620.77,727.67 623.82,726.43 626.88,725.19 629.93,723.96 632.98,722.72 636.03,721.48 639.09,720.25 642.14,719.01 645.19,717.77 648.24,716.54 651.30,715.30 654.35,714.06 657.40,712.82" fill="none" stroke="#b4b4b4" stroke-width="2"/>
<polyline points="169.00,886.44 172.05,886.47 175.10,886.50 178.16,886.51 181.21,886.52 184.26,886.53 187.31,886.52 190.37,886.51 193.42,886.49 196.47,886.46 199.53,886.43 202.58,886.38 205.63,886.33 208.68,886.28 211.74,886.21 214.79,886.14 217.84,886.06 220.89,885.97 223.94,885.88 227.00,885.78 230.05,885.67 233.10,885.56 236.16,885.43 239.21,885.30 242.26,885.17 245.31,885.03 248.37,884.88 251.42,884.72 254.47,884.56 257.52,884.39 260.57,884.22 263.63,884.03 266.68,883.85 269.73,883.65 272.79,883.45 275.84,883.25 278.89,883.04 281.94,882.82 285.00,882.60 288.05,882.37 291.10,882.13 294.15,881.89 297.21,881.65 300.26,881.40 303.31,881.14 306.36,880.88 309.42,880.62 312.47,880.35 315.52,880.07 318.57,879.79 321.62,879.51 324.68,879.22 327.73,878.92 330.78,878.63 333.84,878.32 336.89,878.02 339.94,877.71 342.99,877.39 346.05,877.07 349.10,876.75 352.15,876.43 355.20,876.10 358.25,875.76 361.31,875.43 364.36,875.08 367.41,874.74 370.47,874.39 373.52,874.04 376.57,873.69 379.62,873.33 382.67,872.97 385.73,872.61 388.78,872.24 391.83,871.87 394.88,871.50 397.94,871.12 400.99,870.75 404.04,870.37 407.10,869.98 410.15,869.60 413.20,869.21 416.25,868.82 419.31,868.43 422.36,868.03 425.41,867.63 428.46,867.23 431.51,866.83 434.57,866.43 437.62,866.02 440.67,865.61 443.72,865.20 446.78,864.79 449.83,864.37 452.88,863.96 455.94,863.54 458.99,863.12 462.04,862.70 465.09,862.27 468.14,861.85 471.20,861.42 474.25,860.99 477.30,860.56 480.36,860.13 483.41,859.69 486.46,859.26 489.51,858.82 492.57,858.38 495.62,857.94 498.67,857.50 501.72,857.06 504.77,856.61 507.83,856.17 510.88,855.72 513.93,855.27 516.99,854.82 520.04,854.37 523.09,853.92 526.14,853.47 529.19,853.01 532.25,852.56 535.30,852.10 538.35,851.64 541.40,851.18 544.46,850.72 547.51,850.26 550.56,849.80 553.62,849.34 556.67,848.87 559.72,848.41 562.77,847.94 565.83,847.47 568.88,847.01 571.93,846.54 574.98,846.07 578.03,845.60 581.09,845.13 584.14,844.65 587.19,844.18 590.25,843.70 593.30,843.23 596.35,842.75 599.40,842.28 602.45,841.80 605.51,841.32 608.56,840.84 611.61,840.36 614.66,839.88 617.72,839.40 620.77,838.92 623.82,838.44 626.88,837.95 629.93,837.47 632.98,836.98 636.03,836.50 639.09,836.01 642.14,835.53 645.19,835.04 648.24,834.55 651.30,834.06 654.35,833.57 657.40,833.08" fill="none" stroke="#d41a1a" stroke-width="2"/>
<polyline points="169.00,898.61 172.05,899.09 175.10,899.56 178.16,900.00 181.21,900.41 184.26,900.80 187.31,901.16 190.37,901.50 193.42,901.80 196.47,902.07 199.53,902.31 202.58,902.52 205.63,902.69 208.68,902.83 211.74,902.94 214.79,903.00 217.84,903.03 220.89,903.03 223.94,902.99 227.00,902.91 230.05,902.79 233.10,902.64 236.16,902.46 239.21,902.24 242.26,901.99 245.31,901.71 248.37,901.40 251.42,901.06 254.47,900.69 257.52,900.29 260.57,899.87 263.63,899.43 266.68,898.96 269.73,898.47 272.79,897.96 275.84,897.43 278.89,896.89 281.94,896.33 285.00,895.75 288.05,895.15 291.10,894.54 294.15,893.92 297.21,893.29 300.26,892.65 303.31,891.99 306.36,891.32 309.42,890.65 312.47,889.96 315.52,889.27 318.57,888.57 321.62,887.86 324.68,887.14 327.73,886.42 330.78,885.69 333.84,884.95 336.89,884.21 339.94,883.47 342.99,882.71 346.05,881.96 349.10,881.20 352.15,880.43 355.20,879.67 358.25,878.89 361.31,878.12 364.36,877.34 367.41,876.55 370.47,875.77 373.52,874.98 376.57,874.19 379.62,873.39 382.67,872.60 385.73,871.80 388.78,871.00 391.83,870.19 394.88,869.39 397.94,868.58 400.99,867.77 404.04,866.96 407.10,866.15 410.15,865.33 413.20,864.52 416.25,863.70 419.31,862.88 422.36,862.06 425.41,861.24 428.46,860.41 431.51,859.59 434.57,858.76 437.62,857.94 440.67,857.11 443.72,856.28 446.78,855.45 449.83,854.62 452.88,853.79 455.94,852.96 458.99,852.12 462.04,851.29 465.09,850.46 468.14,849.62 471.20,848.78 474.25,847.95 477.30,847.11 480.36,846.27 483.41,845.43 486.46,844.59 489.51,843.75 492.57,842.91 495.62,842.07 498.67,841.23 501.72,840.39 504.77,839.55 507.83,838.71 510.88,837.86 513.93,837.02 516.99,836.18 520.04,835.33 523.09,834.49 526.14,833.64 529.19,832.80 532.25,831.95 535.30,831.11 538.35,830.26 541.40,829.41 544.46,828.57 547.51,827.72 550.56,826.87 553.62,826.03 556.67,825.18 559.72,824.33 562.77,823.48 565.83,822.63 568.88,821.79 571.93,820.94 574.98,820.09 578.03,819.24 581.09,818.39 584.14,817.54 587.19,816.69 590.25,815.84 593.30,814.99 596.35,814.14 599.40,813.29 602.45,812.44 605.51,811.59 608.56,810.74 611.61,809.89 614.66,809.04 617.72,808.19 620.77,807.34 623.82,806.49 626.88,805.64 629.93,804.79 632.98,803.94 636.03,803.09 639.09,802.24 642.14,801.38 645.19,800.53 648.24,799.68 651.30,798.83 654.35,797.98 657.40,797.13" fill="none" stroke="#1212c8" stroke-width="2"/>
<polyline points="169.00,908.08 172.05,907.74 175.10,907.34 178.16,906.87 181.21,906.33 184.26,905.74 187.31,905.09 190.37,904.40 193.42,903.67 196.47,902.89 199.53,902.09 202.58,901.25 205.63,900.38 208.68,899.49 211.74,898.58 214.79,897.65 217.84,896.70 220.89,895.73 223.94,894.75 227.00,893.76 230.05,892.75 233.10,891.73 236.16,890.71 239.21,889.67 242.26,888.62 245.31,887.57 248.37,886.51 251.42,885.44 254.47,884.37 257.52,883.29 260.57,882.21 263.63,881.12 266.68,880.03 269.73,878.93 272.79,877.83 275.84,876.73 278.89,875.62 281.94,874.51 285.00,873.39 288.05,872.28 291.10,871.16 294.15,870.03 297.21,868.91 300.26,867.78 303.31,866.65 306.36,865.52 309.42,864.39 312.47,863.25 315.52,862.11 318.57,860.97 321.62,859.83 324.68,858.69 327.73,857.55 330.78,856.40 333.84,855.26 336.89,854.11 339.94,852.96 342.99,851.81 346.05,850.66 349.10,849.50 352.15,848.35 355.20,847.19 358.25,846.04 361.31,844.88 364.36,843.72 367.41,842.56 370.47,841.40 373.52,840.24 376.57,839.08 379.62,837.92 382.67,836.75 385.73,835.59 388.78,834.43 391.83,833.26 394.88,832.09 397.94,830.92 400.99,829.76 404.04,828.59 407.10,827.42 410.15,826.25 413.20,825.08 416.25,823.91 419.31,822.73 422.36,821.56 425.41,820.39 428.46,819.21 431.51,818.04 434.57,816.86 437.62,815.69 440.67,814.51 443.72,813.33 446.78,812.15 449.83,810.98 452.88,809.80 455.94,808.62 458.99,807.44 462.04,806.26 465.09,805.08 468.14,803.90 471.20,802.71 474.25,801.53 477.30,800.35 480.36,799.17 483.41,797.98 486.46,796.80 489.51,795.61 492.57,794.43 495.62,793.24 498.67,792.06 501.72,790.87 504.77,789.68 507.83,788.49 510.88,787.31 513.93,786.12 516.99,784.93 520.04,783.74 523.09,782.55 526.14,781.36 529.19,780.17 532.25,778.98 535.30,777.79 538.35,776.60 541.40,775.40 544.46,774.21 547.51,773.02 550.56,771.82 553.62,770.63 556.67,769.44 559.72,768.24 562.77,767.05 565.83,765.85 568.88,764.65 571.93,763.46 574.98,762.26 578.03,761.06 581.09,759.87 584.14,758.67 587.19,757.47 590.25,756.27 593.30,755.07 596.35,753.87 599.40,752.67 602.45,751.47 605.51,750.27 608.56,749.07 611.61,747.87 614.66,746.67 617.72,745.47 620.77,744.27 623.82,743.06 626.88,741.86 629.93,740.66 632.98,739.45 636.03,738.25 639.09,737.05 642.14,735.84 645.19,734.64 648.24,733.43 651.30,732.22 654.35,731.02 657.40,729.81" fill="none" stroke="#0e740e" stroke-width="2"/>
<polyline points="169.00,893.10 172.05,892.43 175.10,891.75 178.16,891.05 181.21,890.34 184.26,889.63 187.31,888.90 190.37,888.16 193.42,887.41 196.47,886.66 199.53,885.89 202.58,885.12 205.63,884.35 208.68,883.57 211.74,882.78 214.79,881.98 217.84,881.18 220.89,880.38 223.94,879.57 227.00,878.75 230.05,877.93 233.10,877.11 236.16,876.28 239.21,875.45 242.26,874.62 245.31,873.78 248.37,872.95 251.42,872.10 254.47,871.26 257.52,870.41 260.57,869.56 263.63,868.71 266.68,867.85 269.73,867.00 272.79,866.14 275.84,865.28 278.89,864.42 281.94,863.55 285.00,862.69 288.05,861.82 291.10,860.95 294.15,860.08 297.21,859.21 300.26,858.34 303.31,857.47 306.36,856.59 309.42,855.72 312.47,854.84 315.52,853.97 318.57,853.09 321.62,852.21 324.68,851.33 327.73,850.45 330.78,849.57 333.84,848.68 336.89,847.80 339.94,846.92 342.99,846.03 346.05,845.15 349.10,844.27 352.15,843.38 355.20,842.49 358.25,841.61 361.31,840.72 364.36,839.83 367.41,838.95 370.47,838.06 373.52,837.17 376.57,836.28 379.62,835.39 382.67,834.50 385.73,833.61 388.78,832.72 391.83,831.83 394.88,830.94 397.94,830.05 400.99,829.16 404.04,828.27 407.10,827.38 410.15,826.49 413.20,825.60 416.25,824.71 419.31,823.81 422.36,822.92 425.41,822.03 428.46,821.14 431.51,820.25 434.57,819.36 437.62,818.46 440.67,817.57 443.72,816.68 446.78,815.79 449.83,814.90 452.88,814.00 455.94,813.11 458.99,812.22 462.04,811.33 465.09,810.44 468.14,809.55 471.20,808.65 474.25,807.76 477.30,806.87 480.36,805.98 483.41,805.09 486.46,804.20 489.51,803.30 492.57,802.41 495.62,801.52 498.67,800.63 501.72,799.74 504.77,798.85 507.83,797.96 510.88,797.07 513.93,796.18 516.99,795.29 520.04,794.39 523.09,793.50 526.14,792.61 529.19,791.72 532.25,790.83 535.30,789.94 538.35,789.06 541.40,788.17 544.46,787.28 547.51,786.39 550.56,785.50 553.62,784.61 556.67,783.72 559.72,782.83 562.77,781.94 565.83,781.06 568.88,780.17 571.93,779.28 574.98,778.39 578.03,777.51 581.09,776.62 584.14,775.73 587.19,774.85 590.25,773.96 593.30,773.07 596.35,772.19 599.40,771.30 602.45,770.41 605.51,769.53 608.56,768.64 611.61,767.76 614.66,766.87 617.72,765.99 620.77,765.10 623.82,764.22 626.88,763.34 629.93,762.45 632.98,761.57 636.03,760.69 639.09,759.80 642.14,758.92 645.19,758.04 648.24,757.15 651.30,756.27 654.35,755.39 657.40,754.51" fill="none" stroke="#741074" stroke-width="2"/>
<rect x="144.9" y="702.9" width="536.4" height="214.0" fill="none" stroke="#000" stroke-width="2.1"/>
<line x1="169.0" y1="916.9" x2="169.0" y2="906.9" stroke="#000" stroke-width="2"/>
<line x1="169.0" y1="702.9" x2="169.0" y2="712.9" stroke="#000" stroke-width="2"/>
<text transform="translate(161.69,944.54) scale(0.27857,0.26222)" font-size="100">0</text>
<line x1="291.1" y1="916.9" x2="291.1" y2="906.9" stroke="#000" stroke-width="2"/>
<line x1="291.1" y1="702.9" x2="291.1" y2="712.9" stroke="#000" stroke-width="2"/>
<text transform="translate(282.59,944.80) scale(0.25714,0.26818)" font-size="100">1</text>
<line x1="413.2" y1="916.9" x2="413.2" y2="906.9" stroke="#000" stroke-width="2"/>
<line x1="413.2" y1="702.9" x2="413.2" y2="712.9" stroke="#000" stroke-width="2"/>
<text transform="translate(405.21,944.80) scale(0.26500,0.26818)" font-size="100">2</text>
<line x1="535.3" y1="916.9" x2="535.3" y2="906.9" stroke="#000" stroke-width="2"/>
<line x1="535.3" y1="702.9" x2="535.3" y2="712.9" stroke="#000" stroke-width="2"/>
<text transform="translate(526.73,944.54) scale(0.27317,0.26418)" font-size="100">3</text>
<line x1="657.4" y1="916.9" x2="657.4" y2="906.9" stroke="#000" stroke-width="2"/>
<line x1="657.4" y1="702.9" x2="657.4" y2="712.9" stroke="#000" stroke-width="2"/>
<text transform="translate(649.38,944.80) scale(0.26237,0.26818)" font-size="100">4</text>
<line x1="144.9" y1="818.0" x2="154.9" y2="818.0" stroke="#000" stroke-width="2"/>
<line x1="681.3" y1="818.0" x2="671.3" y2="818.0" stroke="#000" stroke-width="2"/>
<text transform="translate(106.46,826.73) scale(0.27126,0.26963)" font-size="100">10</text>
<line x1="144.9" y1="711.0" x2="154.9" y2="711.0" stroke="#000" stroke-width="2"/>
<line x1="681.3" y1="711.0" x2="671.3" y2="711.0" stroke="#000" stroke-width="2"/>
<text transform="translate(107.70,719.74) scale(0.26557,0.26222)" font-size="100">20</text>
<text transform="translate(3.13,719.92) scale(0.26078,0.27802)" font-size="100">(c)</text>
<text transform="translate(349.56,974.70) scale(0.34118,0.30087)" font-size="100" font-style="italic">t</text>
<text transform="translate(361.41,978.90) scale(0.24738,0.19851)" font-size="100">TOF</text>
<text transform="translate(420.07,975.18) scale(0.29570,0.30330)" font-size="100">(ms)</text>
<g transform="rotate(-90)"><text transform="translate(-859.85,90.73) scale(0.28283,0.26857)" font-size="100" font-style="italic">σ</text></g>
<g transform="rotate(-90)"><text transform="translate(-843.62,94.50) scale(0.20984,0.20000)" font-size="100">r</text></g>
<g transform="rotate(-90)"><text transform="translate(-822.84,90.64) scale(0.27451,0.31429)" font-size="100">(</text></g>
<g transform="rotate(-90)"><text transform="translate(-814.00,89.83) scale(0.37234,0.26815)" font-size="100" font-style="italic">μ</text></g>
<g transform="rotate(-90)"><text transform="translate(-796.50,92.10) scale(0.30000,0.32340)" font-size="100">m</text></g>
<g transform="rotate(-90)"><text transform="translate(-772.71,90.64) scale(0.26923,0.31429)" font-size="100">)</text></g>
</svg>
</body></html>
